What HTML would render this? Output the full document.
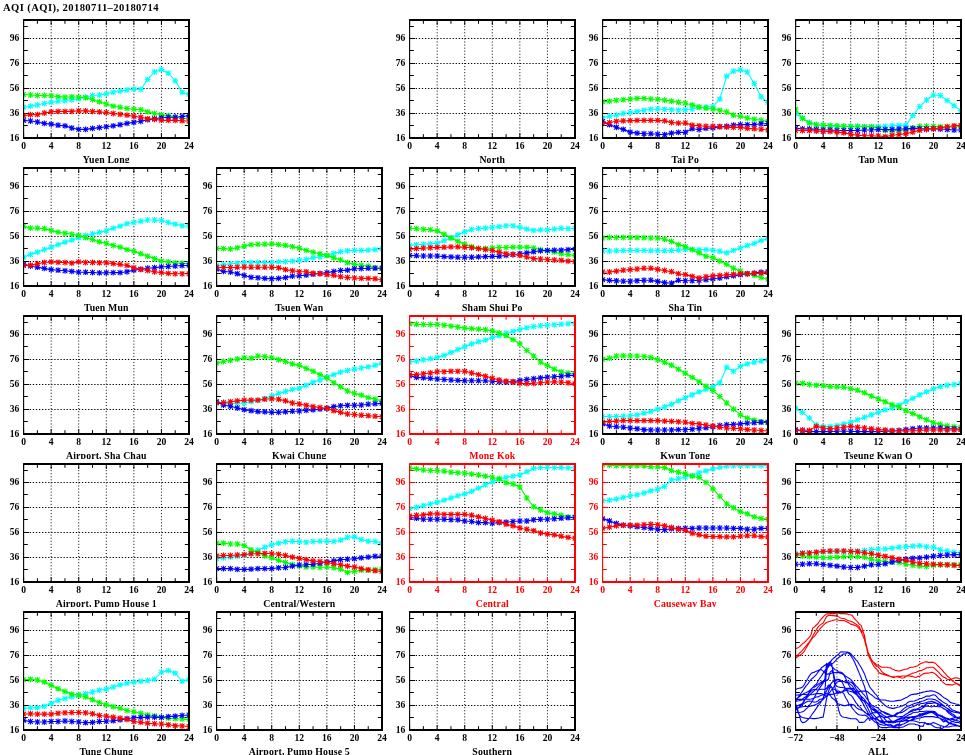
<!DOCTYPE html>
<html><head><meta charset="utf-8"><style>
html,body{margin:0;padding:0;background:#fff;width:965px;height:755px;overflow:hidden}
svg{display:block;will-change:transform}
text{font-family:"Liberation Serif",serif;font-weight:bold;font-size:9.6px}
text.t{font-size:9.8px;letter-spacing:0.15px}
text.h{font-size:10.6px}
</style></head><body>
<svg width="965" height="755" viewBox="0 0 965 755">
<defs><clipPath id="cp00"><rect x="23.6" y="20" width="165.4" height="118"/></clipPath><clipPath id="cp02"><rect x="409.6" y="20" width="165.4" height="118"/></clipPath><clipPath id="cp03"><rect x="602.6" y="20" width="165.4" height="118"/></clipPath><clipPath id="cp04"><rect x="795.6" y="20" width="165.4" height="118"/></clipPath><clipPath id="cp10"><rect x="23.6" y="168" width="165.4" height="118"/></clipPath><clipPath id="cp11"><rect x="216.6" y="168" width="165.4" height="118"/></clipPath><clipPath id="cp12"><rect x="409.6" y="168" width="165.4" height="118"/></clipPath><clipPath id="cp13"><rect x="602.6" y="168" width="165.4" height="118"/></clipPath><clipPath id="cp20"><rect x="23.6" y="316" width="165.4" height="118"/></clipPath><clipPath id="cp21"><rect x="216.6" y="316" width="165.4" height="118"/></clipPath><clipPath id="cp22"><rect x="409.6" y="316" width="165.4" height="118"/></clipPath><clipPath id="cp23"><rect x="602.6" y="316" width="165.4" height="118"/></clipPath><clipPath id="cp24"><rect x="795.6" y="316" width="165.4" height="118"/></clipPath><clipPath id="cp30"><rect x="23.6" y="464" width="165.4" height="118"/></clipPath><clipPath id="cp31"><rect x="216.6" y="464" width="165.4" height="118"/></clipPath><clipPath id="cp32"><rect x="409.6" y="464" width="165.4" height="118"/></clipPath><clipPath id="cp33"><rect x="602.6" y="464" width="165.4" height="118"/></clipPath><clipPath id="cp34"><rect x="795.6" y="464" width="165.4" height="118"/></clipPath><clipPath id="cp40"><rect x="23.6" y="612" width="165.4" height="118"/></clipPath><clipPath id="cp41"><rect x="216.6" y="612" width="165.4" height="118"/></clipPath><clipPath id="cp42"><rect x="409.6" y="612" width="165.4" height="118"/></clipPath><clipPath id="cp44"><rect x="795.6" y="612" width="165.4" height="118"/></clipPath><clipPath id="lc0"><rect x="0" y="150" width="965" height="13"/></clipPath><clipPath id="lc1"><rect x="0" y="298" width="965" height="13"/></clipPath><clipPath id="lc2"><rect x="0" y="446" width="965" height="13"/></clipPath><clipPath id="lc3"><rect x="0" y="594" width="965" height="13"/></clipPath><clipPath id="lc4"><rect x="0" y="742" width="965" height="13"/></clipPath></defs>
<text x="3" y="10.6" class="h" textLength="155.5" lengthAdjust="spacing">AQI (AQI), 20180711&#8211;20180714</text>
<path d="M23.6 113.5H189M23.6 88.5H189M23.6 63.5H189M23.6 38.5H189" stroke="#000" stroke-width="1" stroke-dasharray="1.3 1.77"/>
<path d="M51.17 20V138M78.73 20V138M106.3 20V138M133.87 20V138M161.43 20V138" stroke="#000" stroke-width="1" stroke-dasharray="1 2.07"/>
<path d="M23.6 138.5h5.5M189 138.5h-5.5M23.6 125.5h4.2M189 125.5h-4.2M23.6 113.5h5.5M189 113.5h-5.5M23.6 100.5h4.2M189 100.5h-4.2M23.6 88.5h5.5M189 88.5h-5.5M23.6 75.5h4.2M189 75.5h-4.2M23.6 63.5h5.5M189 63.5h-5.5M23.6 50.5h4.2M189 50.5h-4.2M23.6 38.5h5.5M189 38.5h-5.5M23.6 26.5h4.2M189 26.5h-4.2M23.6 138v-5M23.6 20v5M37.38 138v-3.8M37.38 20v3.8M51.17 138v-5M51.17 20v5M64.95 138v-3.8M64.95 20v3.8M78.73 138v-5M78.73 20v5M92.52 138v-3.8M92.52 20v3.8M106.3 138v-5M106.3 20v5M120.08 138v-3.8M120.08 20v3.8M133.87 138v-5M133.87 20v5M147.65 138v-3.8M147.65 20v3.8M161.43 138v-5M161.43 20v5M175.22 138v-3.8M175.22 20v3.8M189 138v-5M189 20v5" stroke="#000000" stroke-width="1"/>
<g clip-path="url(#cp00)" fill="none">
<path d="M23.6 107.2 30.5 106.1 37.4 105 44.3 103.5 51.2 102.4 58.1 101.3 65 100.8 71.8 99.8 78.7 98.7 85.6 97.1 92.5 95.5 99.4 95 106.3 93.9 113.2 92.3 120.1 91.1 127 90 133.9 89.1 140.8 89.5 147.7 79.4 154.5 71.9 161.4 69.5 168.3 73.2 175.2 80.7 182.1 92.3 189 94.4M20.7 107.2h5.8M23.6 104.3v5.8M21.3 104.9l4.6 4.6m0 -4.6l-4.6 4.6M27.6 106.1h5.8M30.5 103.2v5.8M28.2 103.8l4.6 4.6m0 -4.6l-4.6 4.6M34.5 105h5.8M37.4 102.1v5.8M35.1 102.7l4.6 4.6m0 -4.6l-4.6 4.6M41.4 103.5h5.8M44.3 100.6v5.8M42 101.2l4.6 4.6m0 -4.6l-4.6 4.6M48.3 102.4h5.8M51.2 99.5v5.8M48.9 100.1l4.6 4.6m0 -4.6l-4.6 4.6M55.2 101.3h5.8M58.1 98.4v5.8M55.8 99l4.6 4.6m0 -4.6l-4.6 4.6M62.1 100.8h5.8M65 97.9v5.8M62.7 98.5l4.6 4.6m0 -4.6l-4.6 4.6M68.9 99.8h5.8M71.8 96.9v5.8M69.5 97.5l4.6 4.6m0 -4.6l-4.6 4.6M75.8 98.7h5.8M78.7 95.8v5.8M76.4 96.4l4.6 4.6m0 -4.6l-4.6 4.6M82.7 97.1h5.8M85.6 94.2v5.8M83.3 94.8l4.6 4.6m0 -4.6l-4.6 4.6M89.6 95.5h5.8M92.5 92.6v5.8M90.2 93.2l4.6 4.6m0 -4.6l-4.6 4.6M96.5 95h5.8M99.4 92.1v5.8M97.1 92.7l4.6 4.6m0 -4.6l-4.6 4.6M103.4 93.9h5.8M106.3 91v5.8M104 91.6l4.6 4.6m0 -4.6l-4.6 4.6M110.3 92.3h5.8M113.2 89.4v5.8M110.9 90l4.6 4.6m0 -4.6l-4.6 4.6M117.2 91.1h5.8M120.1 88.2v5.8M117.8 88.8l4.6 4.6m0 -4.6l-4.6 4.6M124.1 90h5.8M127 87.1v5.8M124.7 87.7l4.6 4.6m0 -4.6l-4.6 4.6M131 89.1h5.8M133.9 86.2v5.8M131.6 86.8l4.6 4.6m0 -4.6l-4.6 4.6M137.9 89.5h5.8M140.8 86.6v5.8M138.5 87.2l4.6 4.6m0 -4.6l-4.6 4.6M144.8 79.4h5.8M147.7 76.5v5.8M145.3 77.1l4.6 4.6m0 -4.6l-4.6 4.6M151.6 71.9h5.8M154.5 69v5.8M152.2 69.6l4.6 4.6m0 -4.6l-4.6 4.6M158.5 69.5h5.8M161.4 66.6v5.8M159.1 67.2l4.6 4.6m0 -4.6l-4.6 4.6M165.4 73.2h5.8M168.3 70.3v5.8M166 70.9l4.6 4.6m0 -4.6l-4.6 4.6M172.3 80.7h5.8M175.2 77.8v5.8M172.9 78.4l4.6 4.6m0 -4.6l-4.6 4.6M179.2 92.3h5.8M182.1 89.4v5.8M179.8 90l4.6 4.6m0 -4.6l-4.6 4.6M186.1 94.4h5.8M189 91.5v5.8M186.7 92.1l4.6 4.6m0 -4.6l-4.6 4.6" stroke="#00ffff" stroke-width="1.1"/>
<path d="M23.6 94.5 30.5 95 37.4 95.5 44.3 95.5 51.2 95.8 58.1 96.6 65 97.1 71.8 96.8 78.7 97.3 85.6 97.8 92.5 99.5 99.4 101.9 106.3 104 113.2 106.1 120.1 107.2 127 108.5 133.9 109.3 140.8 109.8 147.7 111.9 154.5 113.5 161.4 114.6 168.3 115.6 175.2 117.2 182.1 118.3 189 118.8M20.7 94.5h5.8M23.6 91.6v5.8M21.3 92.2l4.6 4.6m0 -4.6l-4.6 4.6M27.6 95h5.8M30.5 92.1v5.8M28.2 92.7l4.6 4.6m0 -4.6l-4.6 4.6M34.5 95.5h5.8M37.4 92.6v5.8M35.1 93.2l4.6 4.6m0 -4.6l-4.6 4.6M41.4 95.5h5.8M44.3 92.6v5.8M42 93.2l4.6 4.6m0 -4.6l-4.6 4.6M48.3 95.8h5.8M51.2 92.9v5.8M48.9 93.5l4.6 4.6m0 -4.6l-4.6 4.6M55.2 96.6h5.8M58.1 93.7v5.8M55.8 94.3l4.6 4.6m0 -4.6l-4.6 4.6M62.1 97.1h5.8M65 94.2v5.8M62.7 94.8l4.6 4.6m0 -4.6l-4.6 4.6M68.9 96.8h5.8M71.8 93.9v5.8M69.5 94.5l4.6 4.6m0 -4.6l-4.6 4.6M75.8 97.3h5.8M78.7 94.4v5.8M76.4 95l4.6 4.6m0 -4.6l-4.6 4.6M82.7 97.8h5.8M85.6 94.9v5.8M83.3 95.5l4.6 4.6m0 -4.6l-4.6 4.6M89.6 99.5h5.8M92.5 96.6v5.8M90.2 97.2l4.6 4.6m0 -4.6l-4.6 4.6M96.5 101.9h5.8M99.4 99v5.8M97.1 99.6l4.6 4.6m0 -4.6l-4.6 4.6M103.4 104h5.8M106.3 101.1v5.8M104 101.7l4.6 4.6m0 -4.6l-4.6 4.6M110.3 106.1h5.8M113.2 103.2v5.8M110.9 103.8l4.6 4.6m0 -4.6l-4.6 4.6M117.2 107.2h5.8M120.1 104.3v5.8M117.8 104.9l4.6 4.6m0 -4.6l-4.6 4.6M124.1 108.5h5.8M127 105.6v5.8M124.7 106.2l4.6 4.6m0 -4.6l-4.6 4.6M131 109.3h5.8M133.9 106.4v5.8M131.6 107l4.6 4.6m0 -4.6l-4.6 4.6M137.9 109.8h5.8M140.8 106.9v5.8M138.5 107.5l4.6 4.6m0 -4.6l-4.6 4.6M144.8 111.9h5.8M147.7 109v5.8M145.3 109.6l4.6 4.6m0 -4.6l-4.6 4.6M151.6 113.5h5.8M154.5 110.6v5.8M152.2 111.2l4.6 4.6m0 -4.6l-4.6 4.6M158.5 114.6h5.8M161.4 111.7v5.8M159.1 112.3l4.6 4.6m0 -4.6l-4.6 4.6M165.4 115.6h5.8M168.3 112.7v5.8M166 113.3l4.6 4.6m0 -4.6l-4.6 4.6M172.3 117.2h5.8M175.2 114.3v5.8M172.9 114.9l4.6 4.6m0 -4.6l-4.6 4.6M179.2 118.3h5.8M182.1 115.4v5.8M179.8 116l4.6 4.6m0 -4.6l-4.6 4.6M186.1 118.8h5.8M189 115.9v5.8M186.7 116.5l4.6 4.6m0 -4.6l-4.6 4.6" stroke="#00ff00" stroke-width="1.1"/>
<path d="M23.6 120.4 30.5 121 37.4 122 44.3 123.4 51.2 124.1 58.1 125.2 65 125.9 71.8 128 78.7 129.4 85.6 129.4 92.5 128.4 99.4 127.6 106.3 126.8 113.2 125.9 120.1 124.7 127 123.4 133.9 122.3 140.8 121.3 147.7 119.7 154.5 118.6 161.4 117.8 168.3 117.2 175.2 117.2 182.1 116.5 189 115.6M20.7 120.4h5.8M23.6 117.5v5.8M21.3 118.1l4.6 4.6m0 -4.6l-4.6 4.6M27.6 121h5.8M30.5 118.1v5.8M28.2 118.7l4.6 4.6m0 -4.6l-4.6 4.6M34.5 122h5.8M37.4 119.1v5.8M35.1 119.7l4.6 4.6m0 -4.6l-4.6 4.6M41.4 123.4h5.8M44.3 120.5v5.8M42 121.1l4.6 4.6m0 -4.6l-4.6 4.6M48.3 124.1h5.8M51.2 121.2v5.8M48.9 121.8l4.6 4.6m0 -4.6l-4.6 4.6M55.2 125.2h5.8M58.1 122.3v5.8M55.8 122.9l4.6 4.6m0 -4.6l-4.6 4.6M62.1 125.9h5.8M65 123v5.8M62.7 123.6l4.6 4.6m0 -4.6l-4.6 4.6M68.9 128h5.8M71.8 125.1v5.8M69.5 125.7l4.6 4.6m0 -4.6l-4.6 4.6M75.8 129.4h5.8M78.7 126.5v5.8M76.4 127.1l4.6 4.6m0 -4.6l-4.6 4.6M82.7 129.4h5.8M85.6 126.5v5.8M83.3 127.1l4.6 4.6m0 -4.6l-4.6 4.6M89.6 128.4h5.8M92.5 125.5v5.8M90.2 126.1l4.6 4.6m0 -4.6l-4.6 4.6M96.5 127.6h5.8M99.4 124.7v5.8M97.1 125.3l4.6 4.6m0 -4.6l-4.6 4.6M103.4 126.8h5.8M106.3 123.9v5.8M104 124.5l4.6 4.6m0 -4.6l-4.6 4.6M110.3 125.9h5.8M113.2 123v5.8M110.9 123.6l4.6 4.6m0 -4.6l-4.6 4.6M117.2 124.7h5.8M120.1 121.8v5.8M117.8 122.4l4.6 4.6m0 -4.6l-4.6 4.6M124.1 123.4h5.8M127 120.5v5.8M124.7 121.1l4.6 4.6m0 -4.6l-4.6 4.6M131 122.3h5.8M133.9 119.4v5.8M131.6 120l4.6 4.6m0 -4.6l-4.6 4.6M137.9 121.3h5.8M140.8 118.4v5.8M138.5 119l4.6 4.6m0 -4.6l-4.6 4.6M144.8 119.7h5.8M147.7 116.8v5.8M145.3 117.4l4.6 4.6m0 -4.6l-4.6 4.6M151.6 118.6h5.8M154.5 115.7v5.8M152.2 116.3l4.6 4.6m0 -4.6l-4.6 4.6M158.5 117.8h5.8M161.4 114.9v5.8M159.1 115.5l4.6 4.6m0 -4.6l-4.6 4.6M165.4 117.2h5.8M168.3 114.3v5.8M166 114.9l4.6 4.6m0 -4.6l-4.6 4.6M172.3 117.2h5.8M175.2 114.3v5.8M172.9 114.9l4.6 4.6m0 -4.6l-4.6 4.6M179.2 116.5h5.8M182.1 113.6v5.8M179.8 114.2l4.6 4.6m0 -4.6l-4.6 4.6M186.1 115.6h5.8M189 112.7v5.8M186.7 113.3l4.6 4.6m0 -4.6l-4.6 4.6" stroke="#0000ff" stroke-width="1.1"/>
<path d="M23.6 115.7 30.5 114.6 37.4 114.6 44.3 113 51.2 111.9 58.1 111.4 65 111.4 71.8 111.4 78.7 110.7 85.6 110.9 92.5 111.4 99.4 111.9 106.3 112.5 113.2 113.5 120.1 114.3 127 115.1 133.9 116.2 140.8 117.2 147.7 118.8 154.5 119.4 161.4 120.2 168.3 120.4 175.2 120.4 182.1 120.7 189 121.3M20.7 115.7h5.8M23.6 112.8v5.8M21.3 113.4l4.6 4.6m0 -4.6l-4.6 4.6M27.6 114.6h5.8M30.5 111.7v5.8M28.2 112.3l4.6 4.6m0 -4.6l-4.6 4.6M34.5 114.6h5.8M37.4 111.7v5.8M35.1 112.3l4.6 4.6m0 -4.6l-4.6 4.6M41.4 113h5.8M44.3 110.1v5.8M42 110.7l4.6 4.6m0 -4.6l-4.6 4.6M48.3 111.9h5.8M51.2 109v5.8M48.9 109.6l4.6 4.6m0 -4.6l-4.6 4.6M55.2 111.4h5.8M58.1 108.5v5.8M55.8 109.1l4.6 4.6m0 -4.6l-4.6 4.6M62.1 111.4h5.8M65 108.5v5.8M62.7 109.1l4.6 4.6m0 -4.6l-4.6 4.6M68.9 111.4h5.8M71.8 108.5v5.8M69.5 109.1l4.6 4.6m0 -4.6l-4.6 4.6M75.8 110.7h5.8M78.7 107.8v5.8M76.4 108.4l4.6 4.6m0 -4.6l-4.6 4.6M82.7 110.9h5.8M85.6 108v5.8M83.3 108.6l4.6 4.6m0 -4.6l-4.6 4.6M89.6 111.4h5.8M92.5 108.5v5.8M90.2 109.1l4.6 4.6m0 -4.6l-4.6 4.6M96.5 111.9h5.8M99.4 109v5.8M97.1 109.6l4.6 4.6m0 -4.6l-4.6 4.6M103.4 112.5h5.8M106.3 109.6v5.8M104 110.2l4.6 4.6m0 -4.6l-4.6 4.6M110.3 113.5h5.8M113.2 110.6v5.8M110.9 111.2l4.6 4.6m0 -4.6l-4.6 4.6M117.2 114.3h5.8M120.1 111.4v5.8M117.8 112l4.6 4.6m0 -4.6l-4.6 4.6M124.1 115.1h5.8M127 112.2v5.8M124.7 112.8l4.6 4.6m0 -4.6l-4.6 4.6M131 116.2h5.8M133.9 113.3v5.8M131.6 113.9l4.6 4.6m0 -4.6l-4.6 4.6M137.9 117.2h5.8M140.8 114.3v5.8M138.5 114.9l4.6 4.6m0 -4.6l-4.6 4.6M144.8 118.8h5.8M147.7 115.9v5.8M145.3 116.5l4.6 4.6m0 -4.6l-4.6 4.6M151.6 119.4h5.8M154.5 116.5v5.8M152.2 117.1l4.6 4.6m0 -4.6l-4.6 4.6M158.5 120.2h5.8M161.4 117.3v5.8M159.1 117.9l4.6 4.6m0 -4.6l-4.6 4.6M165.4 120.4h5.8M168.3 117.5v5.8M166 118.1l4.6 4.6m0 -4.6l-4.6 4.6M172.3 120.4h5.8M175.2 117.5v5.8M172.9 118.1l4.6 4.6m0 -4.6l-4.6 4.6M179.2 120.7h5.8M182.1 117.8v5.8M179.8 118.4l4.6 4.6m0 -4.6l-4.6 4.6M186.1 121.3h5.8M189 118.4v5.8M186.7 119l4.6 4.6m0 -4.6l-4.6 4.6" stroke="#ff0000" stroke-width="1.1"/>
</g>
<path d="M23.1 20H190M23.1 138H190M189 20V138" stroke="#000000" stroke-width="2" fill="none"/>
<path d="M23.6 20V138" stroke="#000000" stroke-width="1.1" fill="none"/>
<g fill="#000000"><text x="19.3" y="140.9" text-anchor="end">16</text><text x="19.3" y="116.03" text-anchor="end">36</text><text x="19.3" y="91.15" text-anchor="end">56</text><text x="19.3" y="66.28" text-anchor="end">76</text><text x="19.3" y="41.4" text-anchor="end">96</text><text x="23.6" y="148.7" text-anchor="middle">0</text><text x="51.17" y="148.7" text-anchor="middle">4</text><text x="78.73" y="148.7" text-anchor="middle">8</text><text x="106.3" y="148.7" text-anchor="middle">12</text><text x="133.87" y="148.7" text-anchor="middle">16</text><text x="161.43" y="148.7" text-anchor="middle">20</text><text x="189" y="148.7" text-anchor="middle">24</text><text x="106.3" y="162.6" text-anchor="middle" class="t" clip-path="url(#lc0)">Yuen Long</text></g>
<path d="M409.6 113.5H575M409.6 88.5H575M409.6 63.5H575M409.6 38.5H575" stroke="#000" stroke-width="1" stroke-dasharray="1.3 1.77"/>
<path d="M437.17 20V138M464.73 20V138M492.3 20V138M519.87 20V138M547.43 20V138" stroke="#000" stroke-width="1" stroke-dasharray="1 2.07"/>
<path d="M409.6 138.5h5.5M575 138.5h-5.5M409.6 125.5h4.2M575 125.5h-4.2M409.6 113.5h5.5M575 113.5h-5.5M409.6 100.5h4.2M575 100.5h-4.2M409.6 88.5h5.5M575 88.5h-5.5M409.6 75.5h4.2M575 75.5h-4.2M409.6 63.5h5.5M575 63.5h-5.5M409.6 50.5h4.2M575 50.5h-4.2M409.6 38.5h5.5M575 38.5h-5.5M409.6 26.5h4.2M575 26.5h-4.2M409.6 138v-5M409.6 20v5M423.38 138v-3.8M423.38 20v3.8M437.17 138v-5M437.17 20v5M450.95 138v-3.8M450.95 20v3.8M464.73 138v-5M464.73 20v5M478.52 138v-3.8M478.52 20v3.8M492.3 138v-5M492.3 20v5M506.08 138v-3.8M506.08 20v3.8M519.87 138v-5M519.87 20v5M533.65 138v-3.8M533.65 20v3.8M547.43 138v-5M547.43 20v5M561.22 138v-3.8M561.22 20v3.8M575 138v-5M575 20v5" stroke="#000000" stroke-width="1"/>
<path d="M409.1 20H576M409.1 138H576M575 20V138" stroke="#000000" stroke-width="2" fill="none"/>
<path d="M409.6 20V138" stroke="#000000" stroke-width="1.1" fill="none"/>
<g fill="#000000"><text x="405.3" y="140.9" text-anchor="end">16</text><text x="405.3" y="116.03" text-anchor="end">36</text><text x="405.3" y="91.15" text-anchor="end">56</text><text x="405.3" y="66.28" text-anchor="end">76</text><text x="405.3" y="41.4" text-anchor="end">96</text><text x="409.6" y="148.7" text-anchor="middle">0</text><text x="437.17" y="148.7" text-anchor="middle">4</text><text x="464.73" y="148.7" text-anchor="middle">8</text><text x="492.3" y="148.7" text-anchor="middle">12</text><text x="519.87" y="148.7" text-anchor="middle">16</text><text x="547.43" y="148.7" text-anchor="middle">20</text><text x="575" y="148.7" text-anchor="middle">24</text><text x="492.3" y="162.6" text-anchor="middle" class="t" clip-path="url(#lc0)">North</text></g>
<path d="M602.6 113.5H768M602.6 88.5H768M602.6 63.5H768M602.6 38.5H768" stroke="#000" stroke-width="1" stroke-dasharray="1.3 1.77"/>
<path d="M630.17 20V138M657.73 20V138M685.3 20V138M712.87 20V138M740.43 20V138" stroke="#000" stroke-width="1" stroke-dasharray="1 2.07"/>
<path d="M602.6 138.5h5.5M768 138.5h-5.5M602.6 125.5h4.2M768 125.5h-4.2M602.6 113.5h5.5M768 113.5h-5.5M602.6 100.5h4.2M768 100.5h-4.2M602.6 88.5h5.5M768 88.5h-5.5M602.6 75.5h4.2M768 75.5h-4.2M602.6 63.5h5.5M768 63.5h-5.5M602.6 50.5h4.2M768 50.5h-4.2M602.6 38.5h5.5M768 38.5h-5.5M602.6 26.5h4.2M768 26.5h-4.2M602.6 138v-5M602.6 20v5M616.38 138v-3.8M616.38 20v3.8M630.17 138v-5M630.17 20v5M643.95 138v-3.8M643.95 20v3.8M657.73 138v-5M657.73 20v5M671.52 138v-3.8M671.52 20v3.8M685.3 138v-5M685.3 20v5M699.08 138v-3.8M699.08 20v3.8M712.87 138v-5M712.87 20v5M726.65 138v-3.8M726.65 20v3.8M740.43 138v-5M740.43 20v5M754.22 138v-3.8M754.22 20v3.8M768 138v-5M768 20v5" stroke="#000000" stroke-width="1"/>
<g clip-path="url(#cp03)" fill="none">
<path d="M602.6 117.8 609.5 116.2 616.4 115.1 623.3 113.5 630.2 112.5 637.1 111.4 644 110.3 650.8 109.3 657.7 109 664.6 109.3 671.5 109.8 678.4 110.3 685.3 109.8 692.2 109 699.1 107.4 706 107 712.9 106.5 719.8 99.1 726.7 76.1 733.5 71.2 740.4 69.9 747.3 72 754.2 83.5 761.1 96.7 768 102.4M599.7 117.8h5.8M602.6 114.9v5.8M600.3 115.5l4.6 4.6m0 -4.6l-4.6 4.6M606.6 116.2h5.8M609.5 113.3v5.8M607.2 113.9l4.6 4.6m0 -4.6l-4.6 4.6M613.5 115.1h5.8M616.4 112.2v5.8M614.1 112.8l4.6 4.6m0 -4.6l-4.6 4.6M620.4 113.5h5.8M623.3 110.6v5.8M621 111.2l4.6 4.6m0 -4.6l-4.6 4.6M627.3 112.5h5.8M630.2 109.6v5.8M627.9 110.2l4.6 4.6m0 -4.6l-4.6 4.6M634.2 111.4h5.8M637.1 108.5v5.8M634.8 109.1l4.6 4.6m0 -4.6l-4.6 4.6M641.1 110.3h5.8M644 107.4v5.8M641.7 108l4.6 4.6m0 -4.6l-4.6 4.6M647.9 109.3h5.8M650.8 106.4v5.8M648.5 107l4.6 4.6m0 -4.6l-4.6 4.6M654.8 109h5.8M657.7 106.1v5.8M655.4 106.7l4.6 4.6m0 -4.6l-4.6 4.6M661.7 109.3h5.8M664.6 106.4v5.8M662.3 107l4.6 4.6m0 -4.6l-4.6 4.6M668.6 109.8h5.8M671.5 106.9v5.8M669.2 107.5l4.6 4.6m0 -4.6l-4.6 4.6M675.5 110.3h5.8M678.4 107.4v5.8M676.1 108l4.6 4.6m0 -4.6l-4.6 4.6M682.4 109.8h5.8M685.3 106.9v5.8M683 107.5l4.6 4.6m0 -4.6l-4.6 4.6M689.3 109h5.8M692.2 106.1v5.8M689.9 106.7l4.6 4.6m0 -4.6l-4.6 4.6M696.2 107.4h5.8M699.1 104.5v5.8M696.8 105.1l4.6 4.6m0 -4.6l-4.6 4.6M703.1 107h5.8M706 104.1v5.8M703.7 104.7l4.6 4.6m0 -4.6l-4.6 4.6M710 106.5h5.8M712.9 103.6v5.8M710.6 104.2l4.6 4.6m0 -4.6l-4.6 4.6M716.9 99.1h5.8M719.8 96.2v5.8M717.5 96.8l4.6 4.6m0 -4.6l-4.6 4.6M723.8 76.1h5.8M726.7 73.2v5.8M724.4 73.8l4.6 4.6m0 -4.6l-4.6 4.6M730.6 71.2h5.8M733.5 68.3v5.8M731.2 68.9l4.6 4.6m0 -4.6l-4.6 4.6M737.5 69.9h5.8M740.4 67v5.8M738.1 67.6l4.6 4.6m0 -4.6l-4.6 4.6M744.4 72h5.8M747.3 69.1v5.8M745 69.7l4.6 4.6m0 -4.6l-4.6 4.6M751.3 83.5h5.8M754.2 80.6v5.8M751.9 81.2l4.6 4.6m0 -4.6l-4.6 4.6M758.2 96.7h5.8M761.1 93.8v5.8M758.8 94.4l4.6 4.6m0 -4.6l-4.6 4.6M765.1 102.4h5.8M768 99.5v5.8M765.7 100.1l4.6 4.6m0 -4.6l-4.6 4.6" stroke="#00ffff" stroke-width="1.1"/>
<path d="M602.6 101.9 609.5 101.1 616.4 100.3 623.3 99.7 630.2 99.2 637.1 98.4 644 98.4 650.8 99 657.7 99.4 664.6 100.1 671.5 101.1 678.4 102.2 685.3 103.2 692.2 104.9 699.1 107 706 108.2 712.9 109 719.8 110.3 726.7 112 733.5 115.2 740.4 116.4 747.3 118 754.2 119.2 761.1 120.2 768 121.3M599.7 101.9h5.8M602.6 99v5.8M600.3 99.6l4.6 4.6m0 -4.6l-4.6 4.6M606.6 101.1h5.8M609.5 98.2v5.8M607.2 98.8l4.6 4.6m0 -4.6l-4.6 4.6M613.5 100.3h5.8M616.4 97.4v5.8M614.1 98l4.6 4.6m0 -4.6l-4.6 4.6M620.4 99.7h5.8M623.3 96.8v5.8M621 97.4l4.6 4.6m0 -4.6l-4.6 4.6M627.3 99.2h5.8M630.2 96.3v5.8M627.9 96.9l4.6 4.6m0 -4.6l-4.6 4.6M634.2 98.4h5.8M637.1 95.5v5.8M634.8 96.1l4.6 4.6m0 -4.6l-4.6 4.6M641.1 98.4h5.8M644 95.5v5.8M641.7 96.1l4.6 4.6m0 -4.6l-4.6 4.6M647.9 99h5.8M650.8 96.1v5.8M648.5 96.7l4.6 4.6m0 -4.6l-4.6 4.6M654.8 99.4h5.8M657.7 96.5v5.8M655.4 97.1l4.6 4.6m0 -4.6l-4.6 4.6M661.7 100.1h5.8M664.6 97.2v5.8M662.3 97.8l4.6 4.6m0 -4.6l-4.6 4.6M668.6 101.1h5.8M671.5 98.2v5.8M669.2 98.8l4.6 4.6m0 -4.6l-4.6 4.6M675.5 102.2h5.8M678.4 99.3v5.8M676.1 99.9l4.6 4.6m0 -4.6l-4.6 4.6M682.4 103.2h5.8M685.3 100.3v5.8M683 100.9l4.6 4.6m0 -4.6l-4.6 4.6M689.3 104.9h5.8M692.2 102v5.8M689.9 102.6l4.6 4.6m0 -4.6l-4.6 4.6M696.2 107h5.8M699.1 104.1v5.8M696.8 104.7l4.6 4.6m0 -4.6l-4.6 4.6M703.1 108.2h5.8M706 105.3v5.8M703.7 105.9l4.6 4.6m0 -4.6l-4.6 4.6M710 109h5.8M712.9 106.1v5.8M710.6 106.7l4.6 4.6m0 -4.6l-4.6 4.6M716.9 110.3h5.8M719.8 107.4v5.8M717.5 108l4.6 4.6m0 -4.6l-4.6 4.6M723.8 112h5.8M726.7 109.1v5.8M724.4 109.7l4.6 4.6m0 -4.6l-4.6 4.6M730.6 115.2h5.8M733.5 112.3v5.8M731.2 112.9l4.6 4.6m0 -4.6l-4.6 4.6M737.5 116.4h5.8M740.4 113.5v5.8M738.1 114.1l4.6 4.6m0 -4.6l-4.6 4.6M744.4 118h5.8M747.3 115.1v5.8M745 115.7l4.6 4.6m0 -4.6l-4.6 4.6M751.3 119.2h5.8M754.2 116.3v5.8M751.9 116.9l4.6 4.6m0 -4.6l-4.6 4.6M758.2 120.2h5.8M761.1 117.3v5.8M758.8 117.9l4.6 4.6m0 -4.6l-4.6 4.6M765.1 121.3h5.8M768 118.4v5.8M765.7 119l4.6 4.6m0 -4.6l-4.6 4.6" stroke="#00ff00" stroke-width="1.1"/>
<path d="M602.6 121.5 609.5 124.7 616.4 127.3 623.3 129.4 630.2 132.1 637.1 133.1 644 133.7 650.8 133.7 657.7 134.2 664.6 134.7 671.5 133.1 678.4 132.4 685.3 132.2 692.2 128.7 699.1 129.5 706 128.4 712.9 127.9 719.8 126.7 726.7 126.2 733.5 125.1 740.4 124.6 747.3 124.6 754.2 124.6 761.1 123.8 768 123.5M599.7 121.5h5.8M602.6 118.6v5.8M600.3 119.2l4.6 4.6m0 -4.6l-4.6 4.6M606.6 124.7h5.8M609.5 121.8v5.8M607.2 122.4l4.6 4.6m0 -4.6l-4.6 4.6M613.5 127.3h5.8M616.4 124.4v5.8M614.1 125l4.6 4.6m0 -4.6l-4.6 4.6M620.4 129.4h5.8M623.3 126.5v5.8M621 127.1l4.6 4.6m0 -4.6l-4.6 4.6M627.3 132.1h5.8M630.2 129.2v5.8M627.9 129.8l4.6 4.6m0 -4.6l-4.6 4.6M634.2 133.1h5.8M637.1 130.2v5.8M634.8 130.8l4.6 4.6m0 -4.6l-4.6 4.6M641.1 133.7h5.8M644 130.8v5.8M641.7 131.4l4.6 4.6m0 -4.6l-4.6 4.6M647.9 133.7h5.8M650.8 130.8v5.8M648.5 131.4l4.6 4.6m0 -4.6l-4.6 4.6M654.8 134.2h5.8M657.7 131.3v5.8M655.4 131.9l4.6 4.6m0 -4.6l-4.6 4.6M661.7 134.7h5.8M664.6 131.8v5.8M662.3 132.4l4.6 4.6m0 -4.6l-4.6 4.6M668.6 133.1h5.8M671.5 130.2v5.8M669.2 130.8l4.6 4.6m0 -4.6l-4.6 4.6M675.5 132.4h5.8M678.4 129.5v5.8M676.1 130.1l4.6 4.6m0 -4.6l-4.6 4.6M682.4 132.2h5.8M685.3 129.3v5.8M683 129.9l4.6 4.6m0 -4.6l-4.6 4.6M689.3 128.7h5.8M692.2 125.8v5.8M689.9 126.4l4.6 4.6m0 -4.6l-4.6 4.6M696.2 129.5h5.8M699.1 126.6v5.8M696.8 127.2l4.6 4.6m0 -4.6l-4.6 4.6M703.1 128.4h5.8M706 125.5v5.8M703.7 126.1l4.6 4.6m0 -4.6l-4.6 4.6M710 127.9h5.8M712.9 125v5.8M710.6 125.6l4.6 4.6m0 -4.6l-4.6 4.6M716.9 126.7h5.8M719.8 123.8v5.8M717.5 124.4l4.6 4.6m0 -4.6l-4.6 4.6M723.8 126.2h5.8M726.7 123.3v5.8M724.4 123.9l4.6 4.6m0 -4.6l-4.6 4.6M730.6 125.1h5.8M733.5 122.2v5.8M731.2 122.8l4.6 4.6m0 -4.6l-4.6 4.6M737.5 124.6h5.8M740.4 121.7v5.8M738.1 122.3l4.6 4.6m0 -4.6l-4.6 4.6M744.4 124.6h5.8M747.3 121.7v5.8M745 122.3l4.6 4.6m0 -4.6l-4.6 4.6M751.3 124.6h5.8M754.2 121.7v5.8M751.9 122.3l4.6 4.6m0 -4.6l-4.6 4.6M758.2 123.8h5.8M761.1 120.9v5.8M758.8 121.5l4.6 4.6m0 -4.6l-4.6 4.6M765.1 123.5h5.8M768 120.6v5.8M765.7 121.2l4.6 4.6m0 -4.6l-4.6 4.6" stroke="#0000ff" stroke-width="1.1"/>
<path d="M602.6 123.4 609.5 122.5 616.4 121.3 623.3 120.9 630.2 120.6 637.1 120.4 644 120.4 650.8 120.4 657.7 120.4 664.6 120.9 671.5 122.5 678.4 123.1 685.3 123 692.2 125.1 699.1 125.8 706 126.2 712.9 126.2 719.8 126.7 726.7 127.1 733.5 127.4 740.4 127.4 747.3 128.4 754.2 128.7 761.1 129.2 768 130M599.7 123.4h5.8M602.6 120.5v5.8M600.3 121.1l4.6 4.6m0 -4.6l-4.6 4.6M606.6 122.5h5.8M609.5 119.6v5.8M607.2 120.2l4.6 4.6m0 -4.6l-4.6 4.6M613.5 121.3h5.8M616.4 118.4v5.8M614.1 119l4.6 4.6m0 -4.6l-4.6 4.6M620.4 120.9h5.8M623.3 118v5.8M621 118.6l4.6 4.6m0 -4.6l-4.6 4.6M627.3 120.6h5.8M630.2 117.7v5.8M627.9 118.3l4.6 4.6m0 -4.6l-4.6 4.6M634.2 120.4h5.8M637.1 117.5v5.8M634.8 118.1l4.6 4.6m0 -4.6l-4.6 4.6M641.1 120.4h5.8M644 117.5v5.8M641.7 118.1l4.6 4.6m0 -4.6l-4.6 4.6M647.9 120.4h5.8M650.8 117.5v5.8M648.5 118.1l4.6 4.6m0 -4.6l-4.6 4.6M654.8 120.4h5.8M657.7 117.5v5.8M655.4 118.1l4.6 4.6m0 -4.6l-4.6 4.6M661.7 120.9h5.8M664.6 118v5.8M662.3 118.6l4.6 4.6m0 -4.6l-4.6 4.6M668.6 122.5h5.8M671.5 119.6v5.8M669.2 120.2l4.6 4.6m0 -4.6l-4.6 4.6M675.5 123.1h5.8M678.4 120.2v5.8M676.1 120.8l4.6 4.6m0 -4.6l-4.6 4.6M682.4 123h5.8M685.3 120.1v5.8M683 120.7l4.6 4.6m0 -4.6l-4.6 4.6M689.3 125.1h5.8M692.2 122.2v5.8M689.9 122.8l4.6 4.6m0 -4.6l-4.6 4.6M696.2 125.8h5.8M699.1 122.9v5.8M696.8 123.5l4.6 4.6m0 -4.6l-4.6 4.6M703.1 126.2h5.8M706 123.3v5.8M703.7 123.9l4.6 4.6m0 -4.6l-4.6 4.6M710 126.2h5.8M712.9 123.3v5.8M710.6 123.9l4.6 4.6m0 -4.6l-4.6 4.6M716.9 126.7h5.8M719.8 123.8v5.8M717.5 124.4l4.6 4.6m0 -4.6l-4.6 4.6M723.8 127.1h5.8M726.7 124.2v5.8M724.4 124.8l4.6 4.6m0 -4.6l-4.6 4.6M730.6 127.4h5.8M733.5 124.5v5.8M731.2 125.1l4.6 4.6m0 -4.6l-4.6 4.6M737.5 127.4h5.8M740.4 124.5v5.8M738.1 125.1l4.6 4.6m0 -4.6l-4.6 4.6M744.4 128.4h5.8M747.3 125.5v5.8M745 126.1l4.6 4.6m0 -4.6l-4.6 4.6M751.3 128.7h5.8M754.2 125.8v5.8M751.9 126.4l4.6 4.6m0 -4.6l-4.6 4.6M758.2 129.2h5.8M761.1 126.3v5.8M758.8 126.9l4.6 4.6m0 -4.6l-4.6 4.6M765.1 130h5.8M768 127.1v5.8M765.7 127.7l4.6 4.6m0 -4.6l-4.6 4.6" stroke="#ff0000" stroke-width="1.1"/>
</g>
<path d="M602.1 20H769M602.1 138H769M768 20V138" stroke="#000000" stroke-width="2" fill="none"/>
<path d="M602.6 20V138" stroke="#000000" stroke-width="1.1" fill="none"/>
<g fill="#000000"><text x="598.3" y="140.9" text-anchor="end">16</text><text x="598.3" y="116.03" text-anchor="end">36</text><text x="598.3" y="91.15" text-anchor="end">56</text><text x="598.3" y="66.28" text-anchor="end">76</text><text x="598.3" y="41.4" text-anchor="end">96</text><text x="602.6" y="148.7" text-anchor="middle">0</text><text x="630.17" y="148.7" text-anchor="middle">4</text><text x="657.73" y="148.7" text-anchor="middle">8</text><text x="685.3" y="148.7" text-anchor="middle">12</text><text x="712.87" y="148.7" text-anchor="middle">16</text><text x="740.43" y="148.7" text-anchor="middle">20</text><text x="768" y="148.7" text-anchor="middle">24</text><text x="685.3" y="162.6" text-anchor="middle" class="t" clip-path="url(#lc0)">Tai Po</text></g>
<path d="M795.6 113.5H961M795.6 88.5H961M795.6 63.5H961M795.6 38.5H961" stroke="#000" stroke-width="1" stroke-dasharray="1.3 1.77"/>
<path d="M823.17 20V138M850.73 20V138M878.3 20V138M905.87 20V138M933.43 20V138" stroke="#000" stroke-width="1" stroke-dasharray="1 2.07"/>
<path d="M795.6 138.5h5.5M961 138.5h-5.5M795.6 125.5h4.2M961 125.5h-4.2M795.6 113.5h5.5M961 113.5h-5.5M795.6 100.5h4.2M961 100.5h-4.2M795.6 88.5h5.5M961 88.5h-5.5M795.6 75.5h4.2M961 75.5h-4.2M795.6 63.5h5.5M961 63.5h-5.5M795.6 50.5h4.2M961 50.5h-4.2M795.6 38.5h5.5M961 38.5h-5.5M795.6 26.5h4.2M961 26.5h-4.2M795.6 138v-5M795.6 20v5M809.38 138v-3.8M809.38 20v3.8M823.17 138v-5M823.17 20v5M836.95 138v-3.8M836.95 20v3.8M850.73 138v-5M850.73 20v5M864.52 138v-3.8M864.52 20v3.8M878.3 138v-5M878.3 20v5M892.08 138v-3.8M892.08 20v3.8M905.87 138v-5M905.87 20v5M919.65 138v-3.8M919.65 20v3.8M933.43 138v-5M933.43 20v5M947.22 138v-3.8M947.22 20v3.8M961 138v-5M961 20v5" stroke="#000000" stroke-width="1"/>
<g clip-path="url(#cp04)" fill="none">
<path d="M795.6 113.5 802.5 118.3 809.4 122.5 816.3 124.7 823.2 125.5 830.1 125.9 837 126.2 843.8 126.6 850.7 126.2 857.6 126.2 864.5 126.6 871.4 126.6 878.3 126.4 885.2 126.2 892.1 125.8 899 125.4 905.9 125.1 912.8 115.6 919.7 106.5 926.5 100 933.4 95 940.3 95.5 947.2 100.5 954.1 105.7 961 110.6M792.7 113.5h5.8M795.6 110.6v5.8M793.3 111.2l4.6 4.6m0 -4.6l-4.6 4.6M799.6 118.3h5.8M802.5 115.4v5.8M800.2 116l4.6 4.6m0 -4.6l-4.6 4.6M806.5 122.5h5.8M809.4 119.6v5.8M807.1 120.2l4.6 4.6m0 -4.6l-4.6 4.6M813.4 124.7h5.8M816.3 121.8v5.8M814 122.4l4.6 4.6m0 -4.6l-4.6 4.6M820.3 125.5h5.8M823.2 122.6v5.8M820.9 123.2l4.6 4.6m0 -4.6l-4.6 4.6M827.2 125.9h5.8M830.1 123v5.8M827.8 123.6l4.6 4.6m0 -4.6l-4.6 4.6M834.1 126.2h5.8M837 123.3v5.8M834.7 123.9l4.6 4.6m0 -4.6l-4.6 4.6M840.9 126.6h5.8M843.8 123.7v5.8M841.5 124.3l4.6 4.6m0 -4.6l-4.6 4.6M847.8 126.2h5.8M850.7 123.3v5.8M848.4 123.9l4.6 4.6m0 -4.6l-4.6 4.6M854.7 126.2h5.8M857.6 123.3v5.8M855.3 123.9l4.6 4.6m0 -4.6l-4.6 4.6M861.6 126.6h5.8M864.5 123.7v5.8M862.2 124.3l4.6 4.6m0 -4.6l-4.6 4.6M868.5 126.6h5.8M871.4 123.7v5.8M869.1 124.3l4.6 4.6m0 -4.6l-4.6 4.6M875.4 126.4h5.8M878.3 123.5v5.8M876 124.1l4.6 4.6m0 -4.6l-4.6 4.6M882.3 126.2h5.8M885.2 123.3v5.8M882.9 123.9l4.6 4.6m0 -4.6l-4.6 4.6M889.2 125.8h5.8M892.1 122.9v5.8M889.8 123.5l4.6 4.6m0 -4.6l-4.6 4.6M896.1 125.4h5.8M899 122.5v5.8M896.7 123.1l4.6 4.6m0 -4.6l-4.6 4.6M903 125.1h5.8M905.9 122.2v5.8M903.6 122.8l4.6 4.6m0 -4.6l-4.6 4.6M909.9 115.6h5.8M912.8 112.7v5.8M910.5 113.3l4.6 4.6m0 -4.6l-4.6 4.6M916.8 106.5h5.8M919.7 103.6v5.8M917.4 104.2l4.6 4.6m0 -4.6l-4.6 4.6M923.6 100h5.8M926.5 97.1v5.8M924.2 97.7l4.6 4.6m0 -4.6l-4.6 4.6M930.5 95h5.8M933.4 92.1v5.8M931.1 92.7l4.6 4.6m0 -4.6l-4.6 4.6M937.4 95.5h5.8M940.3 92.6v5.8M938 93.2l4.6 4.6m0 -4.6l-4.6 4.6M944.3 100.5h5.8M947.2 97.6v5.8M944.9 98.2l4.6 4.6m0 -4.6l-4.6 4.6M951.2 105.7h5.8M954.1 102.8v5.8M951.8 103.4l4.6 4.6m0 -4.6l-4.6 4.6M958.1 110.6h5.8M961 107.7v5.8M958.7 108.3l4.6 4.6m0 -4.6l-4.6 4.6" stroke="#00ffff" stroke-width="1.1"/>
<path d="M795.6 109.3 802.5 118.3 809.4 123.1 816.3 124.7 823.2 125.2 830.1 125.5 837 125.9 843.8 126.2 850.7 126.6 857.6 126.8 864.5 126.8 871.4 126.8 878.3 128 885.2 130.4 892.1 130.4 899 130.4 905.9 130 912.8 127.9 919.7 126.2 926.5 126.2 933.4 126.2 940.3 126.7 947.2 127 954.1 127 961 126.2M792.7 109.3h5.8M795.6 106.4v5.8M793.3 107l4.6 4.6m0 -4.6l-4.6 4.6M799.6 118.3h5.8M802.5 115.4v5.8M800.2 116l4.6 4.6m0 -4.6l-4.6 4.6M806.5 123.1h5.8M809.4 120.2v5.8M807.1 120.8l4.6 4.6m0 -4.6l-4.6 4.6M813.4 124.7h5.8M816.3 121.8v5.8M814 122.4l4.6 4.6m0 -4.6l-4.6 4.6M820.3 125.2h5.8M823.2 122.3v5.8M820.9 122.9l4.6 4.6m0 -4.6l-4.6 4.6M827.2 125.5h5.8M830.1 122.6v5.8M827.8 123.2l4.6 4.6m0 -4.6l-4.6 4.6M834.1 125.9h5.8M837 123v5.8M834.7 123.6l4.6 4.6m0 -4.6l-4.6 4.6M840.9 126.2h5.8M843.8 123.3v5.8M841.5 123.9l4.6 4.6m0 -4.6l-4.6 4.6M847.8 126.6h5.8M850.7 123.7v5.8M848.4 124.3l4.6 4.6m0 -4.6l-4.6 4.6M854.7 126.8h5.8M857.6 123.9v5.8M855.3 124.5l4.6 4.6m0 -4.6l-4.6 4.6M861.6 126.8h5.8M864.5 123.9v5.8M862.2 124.5l4.6 4.6m0 -4.6l-4.6 4.6M868.5 126.8h5.8M871.4 123.9v5.8M869.1 124.5l4.6 4.6m0 -4.6l-4.6 4.6M875.4 128h5.8M878.3 125.1v5.8M876 125.7l4.6 4.6m0 -4.6l-4.6 4.6M882.3 130.4h5.8M885.2 127.5v5.8M882.9 128.1l4.6 4.6m0 -4.6l-4.6 4.6M889.2 130.4h5.8M892.1 127.5v5.8M889.8 128.1l4.6 4.6m0 -4.6l-4.6 4.6M896.1 130.4h5.8M899 127.5v5.8M896.7 128.1l4.6 4.6m0 -4.6l-4.6 4.6M903 130h5.8M905.9 127.1v5.8M903.6 127.7l4.6 4.6m0 -4.6l-4.6 4.6M909.9 127.9h5.8M912.8 125v5.8M910.5 125.6l4.6 4.6m0 -4.6l-4.6 4.6M916.8 126.2h5.8M919.7 123.3v5.8M917.4 123.9l4.6 4.6m0 -4.6l-4.6 4.6M923.6 126.2h5.8M926.5 123.3v5.8M924.2 123.9l4.6 4.6m0 -4.6l-4.6 4.6M930.5 126.2h5.8M933.4 123.3v5.8M931.1 123.9l4.6 4.6m0 -4.6l-4.6 4.6M937.4 126.7h5.8M940.3 123.8v5.8M938 124.4l4.6 4.6m0 -4.6l-4.6 4.6M944.3 127h5.8M947.2 124.1v5.8M944.9 124.7l4.6 4.6m0 -4.6l-4.6 4.6M951.2 127h5.8M954.1 124.1v5.8M951.8 124.7l4.6 4.6m0 -4.6l-4.6 4.6M958.1 126.2h5.8M961 123.3v5.8M958.7 123.9l4.6 4.6m0 -4.6l-4.6 4.6" stroke="#00ff00" stroke-width="1.1"/>
<path d="M795.6 128.4 802.5 128.9 809.4 128.9 816.3 129.4 823.2 130 830.1 130 837 130.5 843.8 130.5 850.7 130.5 857.6 130.5 864.5 130 871.4 130 878.3 129.5 885.2 129.5 892.1 129.5 899 129 905.9 128.7 912.8 128.4 919.7 128.7 926.5 128.7 933.4 128.7 940.3 129 947.2 129.5 954.1 130 961 130M792.7 128.4h5.8M795.6 125.5v5.8M793.3 126.1l4.6 4.6m0 -4.6l-4.6 4.6M799.6 128.9h5.8M802.5 126v5.8M800.2 126.6l4.6 4.6m0 -4.6l-4.6 4.6M806.5 128.9h5.8M809.4 126v5.8M807.1 126.6l4.6 4.6m0 -4.6l-4.6 4.6M813.4 129.4h5.8M816.3 126.5v5.8M814 127.1l4.6 4.6m0 -4.6l-4.6 4.6M820.3 130h5.8M823.2 127.1v5.8M820.9 127.7l4.6 4.6m0 -4.6l-4.6 4.6M827.2 130h5.8M830.1 127.1v5.8M827.8 127.7l4.6 4.6m0 -4.6l-4.6 4.6M834.1 130.5h5.8M837 127.6v5.8M834.7 128.2l4.6 4.6m0 -4.6l-4.6 4.6M840.9 130.5h5.8M843.8 127.6v5.8M841.5 128.2l4.6 4.6m0 -4.6l-4.6 4.6M847.8 130.5h5.8M850.7 127.6v5.8M848.4 128.2l4.6 4.6m0 -4.6l-4.6 4.6M854.7 130.5h5.8M857.6 127.6v5.8M855.3 128.2l4.6 4.6m0 -4.6l-4.6 4.6M861.6 130h5.8M864.5 127.1v5.8M862.2 127.7l4.6 4.6m0 -4.6l-4.6 4.6M868.5 130h5.8M871.4 127.1v5.8M869.1 127.7l4.6 4.6m0 -4.6l-4.6 4.6M875.4 129.5h5.8M878.3 126.6v5.8M876 127.2l4.6 4.6m0 -4.6l-4.6 4.6M882.3 129.5h5.8M885.2 126.6v5.8M882.9 127.2l4.6 4.6m0 -4.6l-4.6 4.6M889.2 129.5h5.8M892.1 126.6v5.8M889.8 127.2l4.6 4.6m0 -4.6l-4.6 4.6M896.1 129h5.8M899 126.1v5.8M896.7 126.7l4.6 4.6m0 -4.6l-4.6 4.6M903 128.7h5.8M905.9 125.8v5.8M903.6 126.4l4.6 4.6m0 -4.6l-4.6 4.6M909.9 128.4h5.8M912.8 125.5v5.8M910.5 126.1l4.6 4.6m0 -4.6l-4.6 4.6M916.8 128.7h5.8M919.7 125.8v5.8M917.4 126.4l4.6 4.6m0 -4.6l-4.6 4.6M923.6 128.7h5.8M926.5 125.8v5.8M924.2 126.4l4.6 4.6m0 -4.6l-4.6 4.6M930.5 128.7h5.8M933.4 125.8v5.8M931.1 126.4l4.6 4.6m0 -4.6l-4.6 4.6M937.4 129h5.8M940.3 126.1v5.8M938 126.7l4.6 4.6m0 -4.6l-4.6 4.6M944.3 129.5h5.8M947.2 126.6v5.8M944.9 127.2l4.6 4.6m0 -4.6l-4.6 4.6M951.2 130h5.8M954.1 127.1v5.8M951.8 127.7l4.6 4.6m0 -4.6l-4.6 4.6M958.1 130h5.8M961 127.1v5.8M958.7 127.7l4.6 4.6m0 -4.6l-4.6 4.6" stroke="#0000ff" stroke-width="1.1"/>
<path d="M795.6 130.5 802.5 130.5 809.4 130.5 816.3 131 823.2 131.5 830.1 131.5 837 132.1 843.8 132.9 850.7 134.2 857.6 135.3 864.5 135.8 871.4 135.8 878.3 136 885.2 136.6 892.1 135.3 899 134.5 905.9 133.6 912.8 132 919.7 130.4 926.5 129.5 933.4 128.7 940.3 127.9 947.2 126.7 954.1 125.8 961 125.4M792.7 130.5h5.8M795.6 127.6v5.8M793.3 128.2l4.6 4.6m0 -4.6l-4.6 4.6M799.6 130.5h5.8M802.5 127.6v5.8M800.2 128.2l4.6 4.6m0 -4.6l-4.6 4.6M806.5 130.5h5.8M809.4 127.6v5.8M807.1 128.2l4.6 4.6m0 -4.6l-4.6 4.6M813.4 131h5.8M816.3 128.1v5.8M814 128.7l4.6 4.6m0 -4.6l-4.6 4.6M820.3 131.5h5.8M823.2 128.6v5.8M820.9 129.2l4.6 4.6m0 -4.6l-4.6 4.6M827.2 131.5h5.8M830.1 128.6v5.8M827.8 129.2l4.6 4.6m0 -4.6l-4.6 4.6M834.1 132.1h5.8M837 129.2v5.8M834.7 129.8l4.6 4.6m0 -4.6l-4.6 4.6M840.9 132.9h5.8M843.8 130v5.8M841.5 130.6l4.6 4.6m0 -4.6l-4.6 4.6M847.8 134.2h5.8M850.7 131.3v5.8M848.4 131.9l4.6 4.6m0 -4.6l-4.6 4.6M854.7 135.3h5.8M857.6 132.4v5.8M855.3 133l4.6 4.6m0 -4.6l-4.6 4.6M861.6 135.8h5.8M864.5 132.9v5.8M862.2 133.5l4.6 4.6m0 -4.6l-4.6 4.6M868.5 135.8h5.8M871.4 132.9v5.8M869.1 133.5l4.6 4.6m0 -4.6l-4.6 4.6M875.4 136h5.8M878.3 133.1v5.8M876 133.7l4.6 4.6m0 -4.6l-4.6 4.6M882.3 136.6h5.8M885.2 133.7v5.8M882.9 134.3l4.6 4.6m0 -4.6l-4.6 4.6M889.2 135.3h5.8M892.1 132.4v5.8M889.8 133l4.6 4.6m0 -4.6l-4.6 4.6M896.1 134.5h5.8M899 131.6v5.8M896.7 132.2l4.6 4.6m0 -4.6l-4.6 4.6M903 133.6h5.8M905.9 130.7v5.8M903.6 131.3l4.6 4.6m0 -4.6l-4.6 4.6M909.9 132h5.8M912.8 129.1v5.8M910.5 129.7l4.6 4.6m0 -4.6l-4.6 4.6M916.8 130.4h5.8M919.7 127.5v5.8M917.4 128.1l4.6 4.6m0 -4.6l-4.6 4.6M923.6 129.5h5.8M926.5 126.6v5.8M924.2 127.2l4.6 4.6m0 -4.6l-4.6 4.6M930.5 128.7h5.8M933.4 125.8v5.8M931.1 126.4l4.6 4.6m0 -4.6l-4.6 4.6M937.4 127.9h5.8M940.3 125v5.8M938 125.6l4.6 4.6m0 -4.6l-4.6 4.6M944.3 126.7h5.8M947.2 123.8v5.8M944.9 124.4l4.6 4.6m0 -4.6l-4.6 4.6M951.2 125.8h5.8M954.1 122.9v5.8M951.8 123.5l4.6 4.6m0 -4.6l-4.6 4.6M958.1 125.4h5.8M961 122.5v5.8M958.7 123.1l4.6 4.6m0 -4.6l-4.6 4.6" stroke="#ff0000" stroke-width="1.1"/>
</g>
<path d="M795.1 20H962M795.1 138H962M961 20V138" stroke="#000000" stroke-width="2" fill="none"/>
<path d="M795.6 20V138" stroke="#000000" stroke-width="1.1" fill="none"/>
<g fill="#000000"><text x="791.3" y="140.9" text-anchor="end">16</text><text x="791.3" y="116.03" text-anchor="end">36</text><text x="791.3" y="91.15" text-anchor="end">56</text><text x="791.3" y="66.28" text-anchor="end">76</text><text x="791.3" y="41.4" text-anchor="end">96</text><text x="795.6" y="148.7" text-anchor="middle">0</text><text x="823.17" y="148.7" text-anchor="middle">4</text><text x="850.73" y="148.7" text-anchor="middle">8</text><text x="878.3" y="148.7" text-anchor="middle">12</text><text x="905.87" y="148.7" text-anchor="middle">16</text><text x="933.43" y="148.7" text-anchor="middle">20</text><text x="961" y="148.7" text-anchor="middle">24</text><text x="878.3" y="162.6" text-anchor="middle" class="t" clip-path="url(#lc0)">Tap Mun</text></g>
<path d="M23.6 261.5H189M23.6 236.5H189M23.6 211.5H189M23.6 186.5H189" stroke="#000" stroke-width="1" stroke-dasharray="1.3 1.77"/>
<path d="M51.17 168V286M78.73 168V286M106.3 168V286M133.87 168V286M161.43 168V286" stroke="#000" stroke-width="1" stroke-dasharray="1 2.07"/>
<path d="M23.6 286.5h5.5M189 286.5h-5.5M23.6 273.5h4.2M189 273.5h-4.2M23.6 261.5h5.5M189 261.5h-5.5M23.6 248.5h4.2M189 248.5h-4.2M23.6 236.5h5.5M189 236.5h-5.5M23.6 223.5h4.2M189 223.5h-4.2M23.6 211.5h5.5M189 211.5h-5.5M23.6 198.5h4.2M189 198.5h-4.2M23.6 186.5h5.5M189 186.5h-5.5M23.6 174.5h4.2M189 174.5h-4.2M23.6 286v-5M23.6 168v5M37.38 286v-3.8M37.38 168v3.8M51.17 286v-5M51.17 168v5M64.95 286v-3.8M64.95 168v3.8M78.73 286v-5M78.73 168v5M92.52 286v-3.8M92.52 168v3.8M106.3 286v-5M106.3 168v5M120.08 286v-3.8M120.08 168v3.8M133.87 286v-5M133.87 168v5M147.65 286v-3.8M147.65 168v3.8M161.43 286v-5M161.43 168v5M175.22 286v-3.8M175.22 168v3.8M189 286v-5M189 168v5" stroke="#000000" stroke-width="1"/>
<g clip-path="url(#cp10)" fill="none">
<path d="M23.6 257.2 30.5 254.5 37.4 252.1 44.3 249.5 51.2 247.2 58.1 244.6 65 242.1 71.8 240.1 78.7 237.7 85.6 235.4 92.5 234 99.4 232.4 106.3 230.7 113.2 228.2 120.1 226.1 127 223.8 133.9 222.5 140.8 221.2 147.7 220 154.5 220 161.4 220.5 168.3 222.5 175.2 224.1 182.1 225.8 189 226.1M20.7 257.2h5.8M23.6 254.3v5.8M21.3 254.9l4.6 4.6m0 -4.6l-4.6 4.6M27.6 254.5h5.8M30.5 251.6v5.8M28.2 252.2l4.6 4.6m0 -4.6l-4.6 4.6M34.5 252.1h5.8M37.4 249.2v5.8M35.1 249.8l4.6 4.6m0 -4.6l-4.6 4.6M41.4 249.5h5.8M44.3 246.6v5.8M42 247.2l4.6 4.6m0 -4.6l-4.6 4.6M48.3 247.2h5.8M51.2 244.3v5.8M48.9 244.9l4.6 4.6m0 -4.6l-4.6 4.6M55.2 244.6h5.8M58.1 241.7v5.8M55.8 242.3l4.6 4.6m0 -4.6l-4.6 4.6M62.1 242.1h5.8M65 239.2v5.8M62.7 239.8l4.6 4.6m0 -4.6l-4.6 4.6M68.9 240.1h5.8M71.8 237.2v5.8M69.5 237.8l4.6 4.6m0 -4.6l-4.6 4.6M75.8 237.7h5.8M78.7 234.8v5.8M76.4 235.4l4.6 4.6m0 -4.6l-4.6 4.6M82.7 235.4h5.8M85.6 232.5v5.8M83.3 233.1l4.6 4.6m0 -4.6l-4.6 4.6M89.6 234h5.8M92.5 231.1v5.8M90.2 231.7l4.6 4.6m0 -4.6l-4.6 4.6M96.5 232.4h5.8M99.4 229.5v5.8M97.1 230.1l4.6 4.6m0 -4.6l-4.6 4.6M103.4 230.7h5.8M106.3 227.8v5.8M104 228.4l4.6 4.6m0 -4.6l-4.6 4.6M110.3 228.2h5.8M113.2 225.3v5.8M110.9 225.9l4.6 4.6m0 -4.6l-4.6 4.6M117.2 226.1h5.8M120.1 223.2v5.8M117.8 223.8l4.6 4.6m0 -4.6l-4.6 4.6M124.1 223.8h5.8M127 220.9v5.8M124.7 221.5l4.6 4.6m0 -4.6l-4.6 4.6M131 222.5h5.8M133.9 219.6v5.8M131.6 220.2l4.6 4.6m0 -4.6l-4.6 4.6M137.9 221.2h5.8M140.8 218.3v5.8M138.5 218.9l4.6 4.6m0 -4.6l-4.6 4.6M144.8 220h5.8M147.7 217.1v5.8M145.3 217.7l4.6 4.6m0 -4.6l-4.6 4.6M151.6 220h5.8M154.5 217.1v5.8M152.2 217.7l4.6 4.6m0 -4.6l-4.6 4.6M158.5 220.5h5.8M161.4 217.6v5.8M159.1 218.2l4.6 4.6m0 -4.6l-4.6 4.6M165.4 222.5h5.8M168.3 219.6v5.8M166 220.2l4.6 4.6m0 -4.6l-4.6 4.6M172.3 224.1h5.8M175.2 221.2v5.8M172.9 221.8l4.6 4.6m0 -4.6l-4.6 4.6M179.2 225.8h5.8M182.1 222.9v5.8M179.8 223.5l4.6 4.6m0 -4.6l-4.6 4.6M186.1 226.1h5.8M189 223.2v5.8M186.7 223.8l4.6 4.6m0 -4.6l-4.6 4.6" stroke="#00ffff" stroke-width="1.1"/>
<path d="M23.6 226.2 30.5 228.1 37.4 228.1 44.3 228.7 51.2 230.4 58.1 232.1 65 233.3 71.8 234.2 78.7 235.4 85.6 237.7 92.5 239.5 99.4 241.9 106.3 243.3 113.2 245.5 120.1 247.1 127 249.6 133.9 251.2 140.8 253.7 147.7 256.2 154.5 258.6 161.4 261.1 168.3 261.9 175.2 262.7 182.1 263.2 189 263.6M20.7 226.2h5.8M23.6 223.3v5.8M21.3 223.9l4.6 4.6m0 -4.6l-4.6 4.6M27.6 228.1h5.8M30.5 225.2v5.8M28.2 225.8l4.6 4.6m0 -4.6l-4.6 4.6M34.5 228.1h5.8M37.4 225.2v5.8M35.1 225.8l4.6 4.6m0 -4.6l-4.6 4.6M41.4 228.7h5.8M44.3 225.8v5.8M42 226.4l4.6 4.6m0 -4.6l-4.6 4.6M48.3 230.4h5.8M51.2 227.5v5.8M48.9 228.1l4.6 4.6m0 -4.6l-4.6 4.6M55.2 232.1h5.8M58.1 229.2v5.8M55.8 229.8l4.6 4.6m0 -4.6l-4.6 4.6M62.1 233.3h5.8M65 230.4v5.8M62.7 231l4.6 4.6m0 -4.6l-4.6 4.6M68.9 234.2h5.8M71.8 231.3v5.8M69.5 231.9l4.6 4.6m0 -4.6l-4.6 4.6M75.8 235.4h5.8M78.7 232.5v5.8M76.4 233.1l4.6 4.6m0 -4.6l-4.6 4.6M82.7 237.7h5.8M85.6 234.8v5.8M83.3 235.4l4.6 4.6m0 -4.6l-4.6 4.6M89.6 239.5h5.8M92.5 236.6v5.8M90.2 237.2l4.6 4.6m0 -4.6l-4.6 4.6M96.5 241.9h5.8M99.4 239v5.8M97.1 239.6l4.6 4.6m0 -4.6l-4.6 4.6M103.4 243.3h5.8M106.3 240.4v5.8M104 241l4.6 4.6m0 -4.6l-4.6 4.6M110.3 245.5h5.8M113.2 242.6v5.8M110.9 243.2l4.6 4.6m0 -4.6l-4.6 4.6M117.2 247.1h5.8M120.1 244.2v5.8M117.8 244.8l4.6 4.6m0 -4.6l-4.6 4.6M124.1 249.6h5.8M127 246.7v5.8M124.7 247.3l4.6 4.6m0 -4.6l-4.6 4.6M131 251.2h5.8M133.9 248.3v5.8M131.6 248.9l4.6 4.6m0 -4.6l-4.6 4.6M137.9 253.7h5.8M140.8 250.8v5.8M138.5 251.4l4.6 4.6m0 -4.6l-4.6 4.6M144.8 256.2h5.8M147.7 253.3v5.8M145.3 253.9l4.6 4.6m0 -4.6l-4.6 4.6M151.6 258.6h5.8M154.5 255.7v5.8M152.2 256.3l4.6 4.6m0 -4.6l-4.6 4.6M158.5 261.1h5.8M161.4 258.2v5.8M159.1 258.8l4.6 4.6m0 -4.6l-4.6 4.6M165.4 261.9h5.8M168.3 259v5.8M166 259.6l4.6 4.6m0 -4.6l-4.6 4.6M172.3 262.7h5.8M175.2 259.8v5.8M172.9 260.4l4.6 4.6m0 -4.6l-4.6 4.6M179.2 263.2h5.8M182.1 260.3v5.8M179.8 260.9l4.6 4.6m0 -4.6l-4.6 4.6M186.1 263.6h5.8M189 260.7v5.8M186.7 261.3l4.6 4.6m0 -4.6l-4.6 4.6" stroke="#00ff00" stroke-width="1.1"/>
<path d="M23.6 264.3 30.5 266 37.4 267.2 44.3 268.4 51.2 269.6 58.1 270.2 65 270.8 71.8 271.4 78.7 272.2 85.6 272.2 92.5 272.5 99.4 272.9 106.3 272.8 113.2 272.6 120.1 272.6 127 271.8 133.9 270.1 140.8 269.3 147.7 268.2 154.5 267.7 161.4 266.9 168.3 266.5 175.2 266 182.1 265.5 189 265.2M20.7 264.3h5.8M23.6 261.4v5.8M21.3 262l4.6 4.6m0 -4.6l-4.6 4.6M27.6 266h5.8M30.5 263.1v5.8M28.2 263.7l4.6 4.6m0 -4.6l-4.6 4.6M34.5 267.2h5.8M37.4 264.3v5.8M35.1 264.9l4.6 4.6m0 -4.6l-4.6 4.6M41.4 268.4h5.8M44.3 265.5v5.8M42 266.1l4.6 4.6m0 -4.6l-4.6 4.6M48.3 269.6h5.8M51.2 266.7v5.8M48.9 267.3l4.6 4.6m0 -4.6l-4.6 4.6M55.2 270.2h5.8M58.1 267.3v5.8M55.8 267.9l4.6 4.6m0 -4.6l-4.6 4.6M62.1 270.8h5.8M65 267.9v5.8M62.7 268.5l4.6 4.6m0 -4.6l-4.6 4.6M68.9 271.4h5.8M71.8 268.5v5.8M69.5 269.1l4.6 4.6m0 -4.6l-4.6 4.6M75.8 272.2h5.8M78.7 269.3v5.8M76.4 269.9l4.6 4.6m0 -4.6l-4.6 4.6M82.7 272.2h5.8M85.6 269.3v5.8M83.3 269.9l4.6 4.6m0 -4.6l-4.6 4.6M89.6 272.5h5.8M92.5 269.6v5.8M90.2 270.2l4.6 4.6m0 -4.6l-4.6 4.6M96.5 272.9h5.8M99.4 270v5.8M97.1 270.6l4.6 4.6m0 -4.6l-4.6 4.6M103.4 272.8h5.8M106.3 269.9v5.8M104 270.5l4.6 4.6m0 -4.6l-4.6 4.6M110.3 272.6h5.8M113.2 269.7v5.8M110.9 270.3l4.6 4.6m0 -4.6l-4.6 4.6M117.2 272.6h5.8M120.1 269.7v5.8M117.8 270.3l4.6 4.6m0 -4.6l-4.6 4.6M124.1 271.8h5.8M127 268.9v5.8M124.7 269.5l4.6 4.6m0 -4.6l-4.6 4.6M131 270.1h5.8M133.9 267.2v5.8M131.6 267.8l4.6 4.6m0 -4.6l-4.6 4.6M137.9 269.3h5.8M140.8 266.4v5.8M138.5 267l4.6 4.6m0 -4.6l-4.6 4.6M144.8 268.2h5.8M147.7 265.3v5.8M145.3 265.9l4.6 4.6m0 -4.6l-4.6 4.6M151.6 267.7h5.8M154.5 264.8v5.8M152.2 265.4l4.6 4.6m0 -4.6l-4.6 4.6M158.5 266.9h5.8M161.4 264v5.8M159.1 264.6l4.6 4.6m0 -4.6l-4.6 4.6M165.4 266.5h5.8M168.3 263.6v5.8M166 264.2l4.6 4.6m0 -4.6l-4.6 4.6M172.3 266h5.8M175.2 263.1v5.8M172.9 263.7l4.6 4.6m0 -4.6l-4.6 4.6M179.2 265.5h5.8M182.1 262.6v5.8M179.8 263.2l4.6 4.6m0 -4.6l-4.6 4.6M186.1 265.2h5.8M189 262.3v5.8M186.7 262.9l4.6 4.6m0 -4.6l-4.6 4.6" stroke="#0000ff" stroke-width="1.1"/>
<path d="M23.6 265.5 30.5 265.1 37.4 263.7 44.3 262.5 51.2 261.9 58.1 262.3 65 262.5 71.8 263.1 78.7 261.9 85.6 262.5 92.5 262.5 99.4 262.8 106.3 262.7 113.2 263.6 120.1 264.4 127 265.5 133.9 267.7 140.8 269.3 147.7 270.5 154.5 271.8 161.4 272.6 168.3 273.4 175.2 273.8 182.1 273.8 189 273.8M20.7 265.5h5.8M23.6 262.6v5.8M21.3 263.2l4.6 4.6m0 -4.6l-4.6 4.6M27.6 265.1h5.8M30.5 262.2v5.8M28.2 262.8l4.6 4.6m0 -4.6l-4.6 4.6M34.5 263.7h5.8M37.4 260.8v5.8M35.1 261.4l4.6 4.6m0 -4.6l-4.6 4.6M41.4 262.5h5.8M44.3 259.6v5.8M42 260.2l4.6 4.6m0 -4.6l-4.6 4.6M48.3 261.9h5.8M51.2 259v5.8M48.9 259.6l4.6 4.6m0 -4.6l-4.6 4.6M55.2 262.3h5.8M58.1 259.4v5.8M55.8 260l4.6 4.6m0 -4.6l-4.6 4.6M62.1 262.5h5.8M65 259.6v5.8M62.7 260.2l4.6 4.6m0 -4.6l-4.6 4.6M68.9 263.1h5.8M71.8 260.2v5.8M69.5 260.8l4.6 4.6m0 -4.6l-4.6 4.6M75.8 261.9h5.8M78.7 259v5.8M76.4 259.6l4.6 4.6m0 -4.6l-4.6 4.6M82.7 262.5h5.8M85.6 259.6v5.8M83.3 260.2l4.6 4.6m0 -4.6l-4.6 4.6M89.6 262.5h5.8M92.5 259.6v5.8M90.2 260.2l4.6 4.6m0 -4.6l-4.6 4.6M96.5 262.8h5.8M99.4 259.9v5.8M97.1 260.5l4.6 4.6m0 -4.6l-4.6 4.6M103.4 262.7h5.8M106.3 259.8v5.8M104 260.4l4.6 4.6m0 -4.6l-4.6 4.6M110.3 263.6h5.8M113.2 260.7v5.8M110.9 261.3l4.6 4.6m0 -4.6l-4.6 4.6M117.2 264.4h5.8M120.1 261.5v5.8M117.8 262.1l4.6 4.6m0 -4.6l-4.6 4.6M124.1 265.5h5.8M127 262.6v5.8M124.7 263.2l4.6 4.6m0 -4.6l-4.6 4.6M131 267.7h5.8M133.9 264.8v5.8M131.6 265.4l4.6 4.6m0 -4.6l-4.6 4.6M137.9 269.3h5.8M140.8 266.4v5.8M138.5 267l4.6 4.6m0 -4.6l-4.6 4.6M144.8 270.5h5.8M147.7 267.6v5.8M145.3 268.2l4.6 4.6m0 -4.6l-4.6 4.6M151.6 271.8h5.8M154.5 268.9v5.8M152.2 269.5l4.6 4.6m0 -4.6l-4.6 4.6M158.5 272.6h5.8M161.4 269.7v5.8M159.1 270.3l4.6 4.6m0 -4.6l-4.6 4.6M165.4 273.4h5.8M168.3 270.5v5.8M166 271.1l4.6 4.6m0 -4.6l-4.6 4.6M172.3 273.8h5.8M175.2 270.9v5.8M172.9 271.5l4.6 4.6m0 -4.6l-4.6 4.6M179.2 273.8h5.8M182.1 270.9v5.8M179.8 271.5l4.6 4.6m0 -4.6l-4.6 4.6M186.1 273.8h5.8M189 270.9v5.8M186.7 271.5l4.6 4.6m0 -4.6l-4.6 4.6" stroke="#ff0000" stroke-width="1.1"/>
</g>
<path d="M23.1 168H190M23.1 286H190M189 168V286" stroke="#000000" stroke-width="2" fill="none"/>
<path d="M23.6 168V286" stroke="#000000" stroke-width="1.1" fill="none"/>
<g fill="#000000"><text x="19.3" y="288.9" text-anchor="end">16</text><text x="19.3" y="264.02" text-anchor="end">36</text><text x="19.3" y="239.15" text-anchor="end">56</text><text x="19.3" y="214.28" text-anchor="end">76</text><text x="19.3" y="189.4" text-anchor="end">96</text><text x="23.6" y="296.7" text-anchor="middle">0</text><text x="51.17" y="296.7" text-anchor="middle">4</text><text x="78.73" y="296.7" text-anchor="middle">8</text><text x="106.3" y="296.7" text-anchor="middle">12</text><text x="133.87" y="296.7" text-anchor="middle">16</text><text x="161.43" y="296.7" text-anchor="middle">20</text><text x="189" y="296.7" text-anchor="middle">24</text><text x="106.3" y="310.6" text-anchor="middle" class="t" clip-path="url(#lc1)">Tuen Mun</text></g>
<path d="M216.6 261.5H382M216.6 236.5H382M216.6 211.5H382M216.6 186.5H382" stroke="#000" stroke-width="1" stroke-dasharray="1.3 1.77"/>
<path d="M244.17 168V286M271.73 168V286M299.3 168V286M326.87 168V286M354.43 168V286" stroke="#000" stroke-width="1" stroke-dasharray="1 2.07"/>
<path d="M216.6 286.5h5.5M382 286.5h-5.5M216.6 273.5h4.2M382 273.5h-4.2M216.6 261.5h5.5M382 261.5h-5.5M216.6 248.5h4.2M382 248.5h-4.2M216.6 236.5h5.5M382 236.5h-5.5M216.6 223.5h4.2M382 223.5h-4.2M216.6 211.5h5.5M382 211.5h-5.5M216.6 198.5h4.2M382 198.5h-4.2M216.6 186.5h5.5M382 186.5h-5.5M216.6 174.5h4.2M382 174.5h-4.2M216.6 286v-5M216.6 168v5M230.38 286v-3.8M230.38 168v3.8M244.17 286v-5M244.17 168v5M257.95 286v-3.8M257.95 168v3.8M271.73 286v-5M271.73 168v5M285.52 286v-3.8M285.52 168v3.8M299.3 286v-5M299.3 168v5M313.08 286v-3.8M313.08 168v3.8M326.87 286v-5M326.87 168v5M340.65 286v-3.8M340.65 168v3.8M354.43 286v-5M354.43 168v5M368.22 286v-3.8M368.22 168v3.8M382 286v-5M382 168v5" stroke="#000000" stroke-width="1"/>
<g clip-path="url(#cp11)" fill="none">
<path d="M216.6 265.5 223.5 264.6 230.4 263.7 237.3 263.1 244.2 262.8 251.1 262.5 257.9 262.5 264.8 262.5 271.7 262.5 278.6 261.9 285.5 261.6 292.4 261.1 299.3 260.3 306.2 259.5 313.1 257.8 320 257 326.9 255.4 333.8 253.4 340.6 251.7 347.5 250.8 354.4 250.4 361.3 250.4 368.2 250.1 375.1 249.6 382 248.8M213.7 265.5h5.8M216.6 262.6v5.8M214.3 263.2l4.6 4.6m0 -4.6l-4.6 4.6M220.6 264.6h5.8M223.5 261.7v5.8M221.2 262.3l4.6 4.6m0 -4.6l-4.6 4.6M227.5 263.7h5.8M230.4 260.8v5.8M228.1 261.4l4.6 4.6m0 -4.6l-4.6 4.6M234.4 263.1h5.8M237.3 260.2v5.8M235 260.8l4.6 4.6m0 -4.6l-4.6 4.6M241.3 262.8h5.8M244.2 259.9v5.8M241.9 260.5l4.6 4.6m0 -4.6l-4.6 4.6M248.2 262.5h5.8M251.1 259.6v5.8M248.8 260.2l4.6 4.6m0 -4.6l-4.6 4.6M255 262.5h5.8M257.9 259.6v5.8M255.6 260.2l4.6 4.6m0 -4.6l-4.6 4.6M261.9 262.5h5.8M264.8 259.6v5.8M262.5 260.2l4.6 4.6m0 -4.6l-4.6 4.6M268.8 262.5h5.8M271.7 259.6v5.8M269.4 260.2l4.6 4.6m0 -4.6l-4.6 4.6M275.7 261.9h5.8M278.6 259v5.8M276.3 259.6l4.6 4.6m0 -4.6l-4.6 4.6M282.6 261.6h5.8M285.5 258.7v5.8M283.2 259.3l4.6 4.6m0 -4.6l-4.6 4.6M289.5 261.1h5.8M292.4 258.2v5.8M290.1 258.8l4.6 4.6m0 -4.6l-4.6 4.6M296.4 260.3h5.8M299.3 257.4v5.8M297 258l4.6 4.6m0 -4.6l-4.6 4.6M303.3 259.5h5.8M306.2 256.6v5.8M303.9 257.2l4.6 4.6m0 -4.6l-4.6 4.6M310.2 257.8h5.8M313.1 254.9v5.8M310.8 255.5l4.6 4.6m0 -4.6l-4.6 4.6M317.1 257h5.8M320 254.1v5.8M317.7 254.7l4.6 4.6m0 -4.6l-4.6 4.6M324 255.4h5.8M326.9 252.5v5.8M324.6 253.1l4.6 4.6m0 -4.6l-4.6 4.6M330.9 253.4h5.8M333.8 250.5v5.8M331.5 251.1l4.6 4.6m0 -4.6l-4.6 4.6M337.8 251.7h5.8M340.6 248.8v5.8M338.3 249.4l4.6 4.6m0 -4.6l-4.6 4.6M344.6 250.8h5.8M347.5 247.9v5.8M345.2 248.5l4.6 4.6m0 -4.6l-4.6 4.6M351.5 250.4h5.8M354.4 247.5v5.8M352.1 248.1l4.6 4.6m0 -4.6l-4.6 4.6M358.4 250.4h5.8M361.3 247.5v5.8M359 248.1l4.6 4.6m0 -4.6l-4.6 4.6M365.3 250.1h5.8M368.2 247.2v5.8M365.9 247.8l4.6 4.6m0 -4.6l-4.6 4.6M372.2 249.6h5.8M375.1 246.7v5.8M372.8 247.3l4.6 4.6m0 -4.6l-4.6 4.6M379.1 248.8h5.8M382 245.9v5.8M379.7 246.5l4.6 4.6m0 -4.6l-4.6 4.6" stroke="#00ffff" stroke-width="1.1"/>
<path d="M216.6 248.4 223.5 248.6 230.4 249 237.3 247.8 244.2 246.2 251.1 244.6 257.9 244.2 264.8 244.2 271.7 243.9 278.6 244.6 285.5 245.4 292.4 246.6 299.3 248.2 306.2 250.4 313.1 252.1 320 253.7 326.9 255.4 333.8 257.8 340.6 260 347.5 262.7 354.4 264.4 361.3 265.2 368.2 266 375.1 267.7 382 268.2M213.7 248.4h5.8M216.6 245.5v5.8M214.3 246.1l4.6 4.6m0 -4.6l-4.6 4.6M220.6 248.6h5.8M223.5 245.7v5.8M221.2 246.3l4.6 4.6m0 -4.6l-4.6 4.6M227.5 249h5.8M230.4 246.1v5.8M228.1 246.7l4.6 4.6m0 -4.6l-4.6 4.6M234.4 247.8h5.8M237.3 244.9v5.8M235 245.5l4.6 4.6m0 -4.6l-4.6 4.6M241.3 246.2h5.8M244.2 243.3v5.8M241.9 243.9l4.6 4.6m0 -4.6l-4.6 4.6M248.2 244.6h5.8M251.1 241.7v5.8M248.8 242.3l4.6 4.6m0 -4.6l-4.6 4.6M255 244.2h5.8M257.9 241.3v5.8M255.6 241.9l4.6 4.6m0 -4.6l-4.6 4.6M261.9 244.2h5.8M264.8 241.3v5.8M262.5 241.9l4.6 4.6m0 -4.6l-4.6 4.6M268.8 243.9h5.8M271.7 241v5.8M269.4 241.6l4.6 4.6m0 -4.6l-4.6 4.6M275.7 244.6h5.8M278.6 241.7v5.8M276.3 242.3l4.6 4.6m0 -4.6l-4.6 4.6M282.6 245.4h5.8M285.5 242.5v5.8M283.2 243.1l4.6 4.6m0 -4.6l-4.6 4.6M289.5 246.6h5.8M292.4 243.7v5.8M290.1 244.3l4.6 4.6m0 -4.6l-4.6 4.6M296.4 248.2h5.8M299.3 245.3v5.8M297 245.9l4.6 4.6m0 -4.6l-4.6 4.6M303.3 250.4h5.8M306.2 247.5v5.8M303.9 248.1l4.6 4.6m0 -4.6l-4.6 4.6M310.2 252.1h5.8M313.1 249.2v5.8M310.8 249.8l4.6 4.6m0 -4.6l-4.6 4.6M317.1 253.7h5.8M320 250.8v5.8M317.7 251.4l4.6 4.6m0 -4.6l-4.6 4.6M324 255.4h5.8M326.9 252.5v5.8M324.6 253.1l4.6 4.6m0 -4.6l-4.6 4.6M330.9 257.8h5.8M333.8 254.9v5.8M331.5 255.5l4.6 4.6m0 -4.6l-4.6 4.6M337.8 260h5.8M340.6 257.1v5.8M338.3 257.7l4.6 4.6m0 -4.6l-4.6 4.6M344.6 262.7h5.8M347.5 259.8v5.8M345.2 260.4l4.6 4.6m0 -4.6l-4.6 4.6M351.5 264.4h5.8M354.4 261.5v5.8M352.1 262.1l4.6 4.6m0 -4.6l-4.6 4.6M358.4 265.2h5.8M361.3 262.3v5.8M359 262.9l4.6 4.6m0 -4.6l-4.6 4.6M365.3 266h5.8M368.2 263.1v5.8M365.9 263.7l4.6 4.6m0 -4.6l-4.6 4.6M372.2 267.7h5.8M375.1 264.8v5.8M372.8 265.4l4.6 4.6m0 -4.6l-4.6 4.6M379.1 268.2h5.8M382 265.3v5.8M379.7 265.9l4.6 4.6m0 -4.6l-4.6 4.6" stroke="#00ff00" stroke-width="1.1"/>
<path d="M216.6 269 223.5 271.4 230.4 272 237.3 273.7 244.2 275.5 251.1 277.3 257.9 277.8 264.8 278.4 271.7 278.8 278.6 278.4 285.5 277.6 292.4 276.1 299.3 275.7 306.2 275.1 313.1 274.2 320 273.4 326.9 272.6 333.8 271.5 340.6 270.5 347.5 270.1 354.4 268.8 361.3 268.5 368.2 268.2 375.1 268.2 382 268.2M213.7 269h5.8M216.6 266.1v5.8M214.3 266.7l4.6 4.6m0 -4.6l-4.6 4.6M220.6 271.4h5.8M223.5 268.5v5.8M221.2 269.1l4.6 4.6m0 -4.6l-4.6 4.6M227.5 272h5.8M230.4 269.1v5.8M228.1 269.7l4.6 4.6m0 -4.6l-4.6 4.6M234.4 273.7h5.8M237.3 270.8v5.8M235 271.4l4.6 4.6m0 -4.6l-4.6 4.6M241.3 275.5h5.8M244.2 272.6v5.8M241.9 273.2l4.6 4.6m0 -4.6l-4.6 4.6M248.2 277.3h5.8M251.1 274.4v5.8M248.8 275l4.6 4.6m0 -4.6l-4.6 4.6M255 277.8h5.8M257.9 274.9v5.8M255.6 275.5l4.6 4.6m0 -4.6l-4.6 4.6M261.9 278.4h5.8M264.8 275.5v5.8M262.5 276.1l4.6 4.6m0 -4.6l-4.6 4.6M268.8 278.8h5.8M271.7 275.9v5.8M269.4 276.5l4.6 4.6m0 -4.6l-4.6 4.6M275.7 278.4h5.8M278.6 275.5v5.8M276.3 276.1l4.6 4.6m0 -4.6l-4.6 4.6M282.6 277.6h5.8M285.5 274.7v5.8M283.2 275.3l4.6 4.6m0 -4.6l-4.6 4.6M289.5 276.1h5.8M292.4 273.2v5.8M290.1 273.8l4.6 4.6m0 -4.6l-4.6 4.6M296.4 275.7h5.8M299.3 272.8v5.8M297 273.4l4.6 4.6m0 -4.6l-4.6 4.6M303.3 275.1h5.8M306.2 272.2v5.8M303.9 272.8l4.6 4.6m0 -4.6l-4.6 4.6M310.2 274.2h5.8M313.1 271.3v5.8M310.8 271.9l4.6 4.6m0 -4.6l-4.6 4.6M317.1 273.4h5.8M320 270.5v5.8M317.7 271.1l4.6 4.6m0 -4.6l-4.6 4.6M324 272.6h5.8M326.9 269.7v5.8M324.6 270.3l4.6 4.6m0 -4.6l-4.6 4.6M330.9 271.5h5.8M333.8 268.6v5.8M331.5 269.2l4.6 4.6m0 -4.6l-4.6 4.6M337.8 270.5h5.8M340.6 267.6v5.8M338.3 268.2l4.6 4.6m0 -4.6l-4.6 4.6M344.6 270.1h5.8M347.5 267.2v5.8M345.2 267.8l4.6 4.6m0 -4.6l-4.6 4.6M351.5 268.8h5.8M354.4 265.9v5.8M352.1 266.5l4.6 4.6m0 -4.6l-4.6 4.6M358.4 268.5h5.8M361.3 265.6v5.8M359 266.2l4.6 4.6m0 -4.6l-4.6 4.6M365.3 268.2h5.8M368.2 265.3v5.8M365.9 265.9l4.6 4.6m0 -4.6l-4.6 4.6M372.2 268.2h5.8M375.1 265.3v5.8M372.8 265.9l4.6 4.6m0 -4.6l-4.6 4.6M379.1 268.2h5.8M382 265.3v5.8M379.7 265.9l4.6 4.6m0 -4.6l-4.6 4.6" stroke="#0000ff" stroke-width="1.1"/>
<path d="M216.6 267.2 223.5 267.5 230.4 267.5 237.3 267.2 244.2 267 251.1 267.2 257.9 267.2 264.8 267.2 271.7 267.2 278.6 267.8 285.5 269.6 292.4 270.8 299.3 271.8 306.2 271.8 313.1 273.1 320 273.8 326.9 274.7 333.8 275.4 340.6 276.7 347.5 277.5 354.4 278 361.3 278.4 368.2 278.4 375.1 278.7 382 279.7M213.7 267.2h5.8M216.6 264.3v5.8M214.3 264.9l4.6 4.6m0 -4.6l-4.6 4.6M220.6 267.5h5.8M223.5 264.6v5.8M221.2 265.2l4.6 4.6m0 -4.6l-4.6 4.6M227.5 267.5h5.8M230.4 264.6v5.8M228.1 265.2l4.6 4.6m0 -4.6l-4.6 4.6M234.4 267.2h5.8M237.3 264.3v5.8M235 264.9l4.6 4.6m0 -4.6l-4.6 4.6M241.3 267h5.8M244.2 264.1v5.8M241.9 264.7l4.6 4.6m0 -4.6l-4.6 4.6M248.2 267.2h5.8M251.1 264.3v5.8M248.8 264.9l4.6 4.6m0 -4.6l-4.6 4.6M255 267.2h5.8M257.9 264.3v5.8M255.6 264.9l4.6 4.6m0 -4.6l-4.6 4.6M261.9 267.2h5.8M264.8 264.3v5.8M262.5 264.9l4.6 4.6m0 -4.6l-4.6 4.6M268.8 267.2h5.8M271.7 264.3v5.8M269.4 264.9l4.6 4.6m0 -4.6l-4.6 4.6M275.7 267.8h5.8M278.6 264.9v5.8M276.3 265.5l4.6 4.6m0 -4.6l-4.6 4.6M282.6 269.6h5.8M285.5 266.7v5.8M283.2 267.3l4.6 4.6m0 -4.6l-4.6 4.6M289.5 270.8h5.8M292.4 267.9v5.8M290.1 268.5l4.6 4.6m0 -4.6l-4.6 4.6M296.4 271.8h5.8M299.3 268.9v5.8M297 269.5l4.6 4.6m0 -4.6l-4.6 4.6M303.3 271.8h5.8M306.2 268.9v5.8M303.9 269.5l4.6 4.6m0 -4.6l-4.6 4.6M310.2 273.1h5.8M313.1 270.2v5.8M310.8 270.8l4.6 4.6m0 -4.6l-4.6 4.6M317.1 273.8h5.8M320 270.9v5.8M317.7 271.5l4.6 4.6m0 -4.6l-4.6 4.6M324 274.7h5.8M326.9 271.8v5.8M324.6 272.4l4.6 4.6m0 -4.6l-4.6 4.6M330.9 275.4h5.8M333.8 272.5v5.8M331.5 273.1l4.6 4.6m0 -4.6l-4.6 4.6M337.8 276.7h5.8M340.6 273.8v5.8M338.3 274.4l4.6 4.6m0 -4.6l-4.6 4.6M344.6 277.5h5.8M347.5 274.6v5.8M345.2 275.2l4.6 4.6m0 -4.6l-4.6 4.6M351.5 278h5.8M354.4 275.1v5.8M352.1 275.7l4.6 4.6m0 -4.6l-4.6 4.6M358.4 278.4h5.8M361.3 275.5v5.8M359 276.1l4.6 4.6m0 -4.6l-4.6 4.6M365.3 278.4h5.8M368.2 275.5v5.8M365.9 276.1l4.6 4.6m0 -4.6l-4.6 4.6M372.2 278.7h5.8M375.1 275.8v5.8M372.8 276.4l4.6 4.6m0 -4.6l-4.6 4.6M379.1 279.7h5.8M382 276.8v5.8M379.7 277.4l4.6 4.6m0 -4.6l-4.6 4.6" stroke="#ff0000" stroke-width="1.1"/>
</g>
<path d="M216.1 168H383M216.1 286H383M382 168V286" stroke="#000000" stroke-width="2" fill="none"/>
<path d="M216.6 168V286" stroke="#000000" stroke-width="1.1" fill="none"/>
<g fill="#000000"><text x="212.3" y="288.9" text-anchor="end">16</text><text x="212.3" y="264.02" text-anchor="end">36</text><text x="212.3" y="239.15" text-anchor="end">56</text><text x="212.3" y="214.28" text-anchor="end">76</text><text x="212.3" y="189.4" text-anchor="end">96</text><text x="216.6" y="296.7" text-anchor="middle">0</text><text x="244.17" y="296.7" text-anchor="middle">4</text><text x="271.73" y="296.7" text-anchor="middle">8</text><text x="299.3" y="296.7" text-anchor="middle">12</text><text x="326.87" y="296.7" text-anchor="middle">16</text><text x="354.43" y="296.7" text-anchor="middle">20</text><text x="382" y="296.7" text-anchor="middle">24</text><text x="299.3" y="310.6" text-anchor="middle" class="t" clip-path="url(#lc1)">Tsuen Wan</text></g>
<path d="M409.6 261.5H575M409.6 236.5H575M409.6 211.5H575M409.6 186.5H575" stroke="#000" stroke-width="1" stroke-dasharray="1.3 1.77"/>
<path d="M437.17 168V286M464.73 168V286M492.3 168V286M519.87 168V286M547.43 168V286" stroke="#000" stroke-width="1" stroke-dasharray="1 2.07"/>
<path d="M409.6 286.5h5.5M575 286.5h-5.5M409.6 273.5h4.2M575 273.5h-4.2M409.6 261.5h5.5M575 261.5h-5.5M409.6 248.5h4.2M575 248.5h-4.2M409.6 236.5h5.5M575 236.5h-5.5M409.6 223.5h4.2M575 223.5h-4.2M409.6 211.5h5.5M575 211.5h-5.5M409.6 198.5h4.2M575 198.5h-4.2M409.6 186.5h5.5M575 186.5h-5.5M409.6 174.5h4.2M575 174.5h-4.2M409.6 286v-5M409.6 168v5M423.38 286v-3.8M423.38 168v3.8M437.17 286v-5M437.17 168v5M450.95 286v-3.8M450.95 168v3.8M464.73 286v-5M464.73 168v5M478.52 286v-3.8M478.52 168v3.8M492.3 286v-5M492.3 168v5M506.08 286v-3.8M506.08 168v3.8M519.87 286v-5M519.87 168v5M533.65 286v-3.8M533.65 168v3.8M547.43 286v-5M547.43 168v5M561.22 286v-3.8M561.22 168v3.8M575 286v-5M575 168v5" stroke="#000000" stroke-width="1"/>
<g clip-path="url(#cp12)" fill="none">
<path d="M409.6 245.4 416.5 244.8 423.4 244.2 430.3 243.9 437.2 243.1 444.1 240.7 451 237.7 457.8 234.8 464.7 231.8 471.6 229.5 478.5 228.5 485.4 228.1 492.3 227.3 499.2 226.6 506.1 225.8 513 225.8 519.9 227.1 526.8 229.1 533.7 230.4 540.5 229.9 547.4 229.9 554.3 229.1 561.2 228.2 568.1 228.7 575 228.2M406.7 245.4h5.8M409.6 242.5v5.8M407.3 243.1l4.6 4.6m0 -4.6l-4.6 4.6M413.6 244.8h5.8M416.5 241.9v5.8M414.2 242.5l4.6 4.6m0 -4.6l-4.6 4.6M420.5 244.2h5.8M423.4 241.3v5.8M421.1 241.9l4.6 4.6m0 -4.6l-4.6 4.6M427.4 243.9h5.8M430.3 241v5.8M428 241.6l4.6 4.6m0 -4.6l-4.6 4.6M434.3 243.1h5.8M437.2 240.2v5.8M434.9 240.8l4.6 4.6m0 -4.6l-4.6 4.6M441.2 240.7h5.8M444.1 237.8v5.8M441.8 238.4l4.6 4.6m0 -4.6l-4.6 4.6M448.1 237.7h5.8M451 234.8v5.8M448.7 235.4l4.6 4.6m0 -4.6l-4.6 4.6M454.9 234.8h5.8M457.8 231.9v5.8M455.5 232.5l4.6 4.6m0 -4.6l-4.6 4.6M461.8 231.8h5.8M464.7 228.9v5.8M462.4 229.5l4.6 4.6m0 -4.6l-4.6 4.6M468.7 229.5h5.8M471.6 226.6v5.8M469.3 227.2l4.6 4.6m0 -4.6l-4.6 4.6M475.6 228.5h5.8M478.5 225.6v5.8M476.2 226.2l4.6 4.6m0 -4.6l-4.6 4.6M482.5 228.1h5.8M485.4 225.2v5.8M483.1 225.8l4.6 4.6m0 -4.6l-4.6 4.6M489.4 227.3h5.8M492.3 224.4v5.8M490 225l4.6 4.6m0 -4.6l-4.6 4.6M496.3 226.6h5.8M499.2 223.7v5.8M496.9 224.3l4.6 4.6m0 -4.6l-4.6 4.6M503.2 225.8h5.8M506.1 222.9v5.8M503.8 223.5l4.6 4.6m0 -4.6l-4.6 4.6M510.1 225.8h5.8M513 222.9v5.8M510.7 223.5l4.6 4.6m0 -4.6l-4.6 4.6M517 227.1h5.8M519.9 224.2v5.8M517.6 224.8l4.6 4.6m0 -4.6l-4.6 4.6M523.9 229.1h5.8M526.8 226.2v5.8M524.5 226.8l4.6 4.6m0 -4.6l-4.6 4.6M530.8 230.4h5.8M533.7 227.5v5.8M531.4 228.1l4.6 4.6m0 -4.6l-4.6 4.6M537.6 229.9h5.8M540.5 227v5.8M538.2 227.6l4.6 4.6m0 -4.6l-4.6 4.6M544.5 229.9h5.8M547.4 227v5.8M545.1 227.6l4.6 4.6m0 -4.6l-4.6 4.6M551.4 229.1h5.8M554.3 226.2v5.8M552 226.8l4.6 4.6m0 -4.6l-4.6 4.6M558.3 228.2h5.8M561.2 225.3v5.8M558.9 225.9l4.6 4.6m0 -4.6l-4.6 4.6M565.2 228.7h5.8M568.1 225.8v5.8M565.8 226.4l4.6 4.6m0 -4.6l-4.6 4.6M572.1 228.2h5.8M575 225.3v5.8M572.7 225.9l4.6 4.6m0 -4.6l-4.6 4.6" stroke="#00ffff" stroke-width="1.1"/>
<path d="M409.6 228.3 416.5 228.7 423.4 229.3 430.3 229.7 437.2 230.9 444.1 234.2 451 238 457.8 241.3 464.7 244.2 471.6 246.6 478.5 248.4 485.4 248.4 492.3 248 499.2 247.5 506.1 247.5 513 247.1 519.9 247.1 526.8 247.1 533.7 248 540.5 249.6 547.4 250.8 554.3 252.1 561.2 253.7 568.1 254.5 575 255.4M406.7 228.3h5.8M409.6 225.4v5.8M407.3 226l4.6 4.6m0 -4.6l-4.6 4.6M413.6 228.7h5.8M416.5 225.8v5.8M414.2 226.4l4.6 4.6m0 -4.6l-4.6 4.6M420.5 229.3h5.8M423.4 226.4v5.8M421.1 227l4.6 4.6m0 -4.6l-4.6 4.6M427.4 229.7h5.8M430.3 226.8v5.8M428 227.4l4.6 4.6m0 -4.6l-4.6 4.6M434.3 230.9h5.8M437.2 228v5.8M434.9 228.6l4.6 4.6m0 -4.6l-4.6 4.6M441.2 234.2h5.8M444.1 231.3v5.8M441.8 231.9l4.6 4.6m0 -4.6l-4.6 4.6M448.1 238h5.8M451 235.1v5.8M448.7 235.7l4.6 4.6m0 -4.6l-4.6 4.6M454.9 241.3h5.8M457.8 238.4v5.8M455.5 239l4.6 4.6m0 -4.6l-4.6 4.6M461.8 244.2h5.8M464.7 241.3v5.8M462.4 241.9l4.6 4.6m0 -4.6l-4.6 4.6M468.7 246.6h5.8M471.6 243.7v5.8M469.3 244.3l4.6 4.6m0 -4.6l-4.6 4.6M475.6 248.4h5.8M478.5 245.5v5.8M476.2 246.1l4.6 4.6m0 -4.6l-4.6 4.6M482.5 248.4h5.8M485.4 245.5v5.8M483.1 246.1l4.6 4.6m0 -4.6l-4.6 4.6M489.4 248h5.8M492.3 245.1v5.8M490 245.7l4.6 4.6m0 -4.6l-4.6 4.6M496.3 247.5h5.8M499.2 244.6v5.8M496.9 245.2l4.6 4.6m0 -4.6l-4.6 4.6M503.2 247.5h5.8M506.1 244.6v5.8M503.8 245.2l4.6 4.6m0 -4.6l-4.6 4.6M510.1 247.1h5.8M513 244.2v5.8M510.7 244.8l4.6 4.6m0 -4.6l-4.6 4.6M517 247.1h5.8M519.9 244.2v5.8M517.6 244.8l4.6 4.6m0 -4.6l-4.6 4.6M523.9 247.1h5.8M526.8 244.2v5.8M524.5 244.8l4.6 4.6m0 -4.6l-4.6 4.6M530.8 248h5.8M533.7 245.1v5.8M531.4 245.7l4.6 4.6m0 -4.6l-4.6 4.6M537.6 249.6h5.8M540.5 246.7v5.8M538.2 247.3l4.6 4.6m0 -4.6l-4.6 4.6M544.5 250.8h5.8M547.4 247.9v5.8M545.1 248.5l4.6 4.6m0 -4.6l-4.6 4.6M551.4 252.1h5.8M554.3 249.2v5.8M552 249.8l4.6 4.6m0 -4.6l-4.6 4.6M558.3 253.7h5.8M561.2 250.8v5.8M558.9 251.4l4.6 4.6m0 -4.6l-4.6 4.6M565.2 254.5h5.8M568.1 251.6v5.8M565.8 252.2l4.6 4.6m0 -4.6l-4.6 4.6M572.1 255.4h5.8M575 252.5v5.8M572.7 253.1l4.6 4.6m0 -4.6l-4.6 4.6" stroke="#00ff00" stroke-width="1.1"/>
<path d="M409.6 255.4 416.5 255.7 423.4 256 430.3 256 437.2 256 444.1 256.6 451 256.9 457.8 257.2 464.7 257.2 471.6 257.2 478.5 256.9 485.4 256.6 492.3 256.4 499.2 256.2 506.1 255.4 513 254.5 519.9 253.7 526.8 252.9 533.7 251.7 540.5 250.8 547.4 250.4 554.3 250.1 561.2 250.1 568.1 249.6 575 249.1M406.7 255.4h5.8M409.6 252.5v5.8M407.3 253.1l4.6 4.6m0 -4.6l-4.6 4.6M413.6 255.7h5.8M416.5 252.8v5.8M414.2 253.4l4.6 4.6m0 -4.6l-4.6 4.6M420.5 256h5.8M423.4 253.1v5.8M421.1 253.7l4.6 4.6m0 -4.6l-4.6 4.6M427.4 256h5.8M430.3 253.1v5.8M428 253.7l4.6 4.6m0 -4.6l-4.6 4.6M434.3 256h5.8M437.2 253.1v5.8M434.9 253.7l4.6 4.6m0 -4.6l-4.6 4.6M441.2 256.6h5.8M444.1 253.7v5.8M441.8 254.3l4.6 4.6m0 -4.6l-4.6 4.6M448.1 256.9h5.8M451 254v5.8M448.7 254.6l4.6 4.6m0 -4.6l-4.6 4.6M454.9 257.2h5.8M457.8 254.3v5.8M455.5 254.9l4.6 4.6m0 -4.6l-4.6 4.6M461.8 257.2h5.8M464.7 254.3v5.8M462.4 254.9l4.6 4.6m0 -4.6l-4.6 4.6M468.7 257.2h5.8M471.6 254.3v5.8M469.3 254.9l4.6 4.6m0 -4.6l-4.6 4.6M475.6 256.9h5.8M478.5 254v5.8M476.2 254.6l4.6 4.6m0 -4.6l-4.6 4.6M482.5 256.6h5.8M485.4 253.7v5.8M483.1 254.3l4.6 4.6m0 -4.6l-4.6 4.6M489.4 256.4h5.8M492.3 253.5v5.8M490 254.1l4.6 4.6m0 -4.6l-4.6 4.6M496.3 256.2h5.8M499.2 253.3v5.8M496.9 253.9l4.6 4.6m0 -4.6l-4.6 4.6M503.2 255.4h5.8M506.1 252.5v5.8M503.8 253.1l4.6 4.6m0 -4.6l-4.6 4.6M510.1 254.5h5.8M513 251.6v5.8M510.7 252.2l4.6 4.6m0 -4.6l-4.6 4.6M517 253.7h5.8M519.9 250.8v5.8M517.6 251.4l4.6 4.6m0 -4.6l-4.6 4.6M523.9 252.9h5.8M526.8 250v5.8M524.5 250.6l4.6 4.6m0 -4.6l-4.6 4.6M530.8 251.7h5.8M533.7 248.8v5.8M531.4 249.4l4.6 4.6m0 -4.6l-4.6 4.6M537.6 250.8h5.8M540.5 247.9v5.8M538.2 248.5l4.6 4.6m0 -4.6l-4.6 4.6M544.5 250.4h5.8M547.4 247.5v5.8M545.1 248.1l4.6 4.6m0 -4.6l-4.6 4.6M551.4 250.1h5.8M554.3 247.2v5.8M552 247.8l4.6 4.6m0 -4.6l-4.6 4.6M558.3 250.1h5.8M561.2 247.2v5.8M558.9 247.8l4.6 4.6m0 -4.6l-4.6 4.6M565.2 249.6h5.8M568.1 246.7v5.8M565.8 247.3l4.6 4.6m0 -4.6l-4.6 4.6M572.1 249.1h5.8M575 246.2v5.8M572.7 246.8l4.6 4.6m0 -4.6l-4.6 4.6" stroke="#0000ff" stroke-width="1.1"/>
<path d="M409.6 249.3 416.5 248.6 423.4 248.1 430.3 247.8 437.2 247.4 444.1 247.2 451 246.9 457.8 246.9 464.7 247.2 471.6 247.8 478.5 248.6 485.4 249.5 492.3 250.5 499.2 252.1 506.1 253.7 513 254.5 519.9 255.4 526.8 257 533.7 258.6 540.5 259 547.4 259.5 554.3 260 561.2 260.3 568.1 261.1 575 261.6M406.7 249.3h5.8M409.6 246.4v5.8M407.3 247l4.6 4.6m0 -4.6l-4.6 4.6M413.6 248.6h5.8M416.5 245.7v5.8M414.2 246.3l4.6 4.6m0 -4.6l-4.6 4.6M420.5 248.1h5.8M423.4 245.2v5.8M421.1 245.8l4.6 4.6m0 -4.6l-4.6 4.6M427.4 247.8h5.8M430.3 244.9v5.8M428 245.5l4.6 4.6m0 -4.6l-4.6 4.6M434.3 247.4h5.8M437.2 244.5v5.8M434.9 245.1l4.6 4.6m0 -4.6l-4.6 4.6M441.2 247.2h5.8M444.1 244.3v5.8M441.8 244.9l4.6 4.6m0 -4.6l-4.6 4.6M448.1 246.9h5.8M451 244v5.8M448.7 244.6l4.6 4.6m0 -4.6l-4.6 4.6M454.9 246.9h5.8M457.8 244v5.8M455.5 244.6l4.6 4.6m0 -4.6l-4.6 4.6M461.8 247.2h5.8M464.7 244.3v5.8M462.4 244.9l4.6 4.6m0 -4.6l-4.6 4.6M468.7 247.8h5.8M471.6 244.9v5.8M469.3 245.5l4.6 4.6m0 -4.6l-4.6 4.6M475.6 248.6h5.8M478.5 245.7v5.8M476.2 246.3l4.6 4.6m0 -4.6l-4.6 4.6M482.5 249.5h5.8M485.4 246.6v5.8M483.1 247.2l4.6 4.6m0 -4.6l-4.6 4.6M489.4 250.5h5.8M492.3 247.6v5.8M490 248.2l4.6 4.6m0 -4.6l-4.6 4.6M496.3 252.1h5.8M499.2 249.2v5.8M496.9 249.8l4.6 4.6m0 -4.6l-4.6 4.6M503.2 253.7h5.8M506.1 250.8v5.8M503.8 251.4l4.6 4.6m0 -4.6l-4.6 4.6M510.1 254.5h5.8M513 251.6v5.8M510.7 252.2l4.6 4.6m0 -4.6l-4.6 4.6M517 255.4h5.8M519.9 252.5v5.8M517.6 253.1l4.6 4.6m0 -4.6l-4.6 4.6M523.9 257h5.8M526.8 254.1v5.8M524.5 254.7l4.6 4.6m0 -4.6l-4.6 4.6M530.8 258.6h5.8M533.7 255.7v5.8M531.4 256.3l4.6 4.6m0 -4.6l-4.6 4.6M537.6 259h5.8M540.5 256.1v5.8M538.2 256.7l4.6 4.6m0 -4.6l-4.6 4.6M544.5 259.5h5.8M547.4 256.6v5.8M545.1 257.2l4.6 4.6m0 -4.6l-4.6 4.6M551.4 260h5.8M554.3 257.1v5.8M552 257.7l4.6 4.6m0 -4.6l-4.6 4.6M558.3 260.3h5.8M561.2 257.4v5.8M558.9 258l4.6 4.6m0 -4.6l-4.6 4.6M565.2 261.1h5.8M568.1 258.2v5.8M565.8 258.8l4.6 4.6m0 -4.6l-4.6 4.6M572.1 261.6h5.8M575 258.7v5.8M572.7 259.3l4.6 4.6m0 -4.6l-4.6 4.6" stroke="#ff0000" stroke-width="1.1"/>
</g>
<path d="M409.1 168H576M409.1 286H576M575 168V286" stroke="#000000" stroke-width="2" fill="none"/>
<path d="M409.6 168V286" stroke="#000000" stroke-width="1.1" fill="none"/>
<g fill="#000000"><text x="405.3" y="288.9" text-anchor="end">16</text><text x="405.3" y="264.02" text-anchor="end">36</text><text x="405.3" y="239.15" text-anchor="end">56</text><text x="405.3" y="214.28" text-anchor="end">76</text><text x="405.3" y="189.4" text-anchor="end">96</text><text x="409.6" y="296.7" text-anchor="middle">0</text><text x="437.17" y="296.7" text-anchor="middle">4</text><text x="464.73" y="296.7" text-anchor="middle">8</text><text x="492.3" y="296.7" text-anchor="middle">12</text><text x="519.87" y="296.7" text-anchor="middle">16</text><text x="547.43" y="296.7" text-anchor="middle">20</text><text x="575" y="296.7" text-anchor="middle">24</text><text x="492.3" y="310.6" text-anchor="middle" class="t" clip-path="url(#lc1)">Sham Shui Po</text></g>
<path d="M602.6 261.5H768M602.6 236.5H768M602.6 211.5H768M602.6 186.5H768" stroke="#000" stroke-width="1" stroke-dasharray="1.3 1.77"/>
<path d="M630.17 168V286M657.73 168V286M685.3 168V286M712.87 168V286M740.43 168V286" stroke="#000" stroke-width="1" stroke-dasharray="1 2.07"/>
<path d="M602.6 286.5h5.5M768 286.5h-5.5M602.6 273.5h4.2M768 273.5h-4.2M602.6 261.5h5.5M768 261.5h-5.5M602.6 248.5h4.2M768 248.5h-4.2M602.6 236.5h5.5M768 236.5h-5.5M602.6 223.5h4.2M768 223.5h-4.2M602.6 211.5h5.5M768 211.5h-5.5M602.6 198.5h4.2M768 198.5h-4.2M602.6 186.5h5.5M768 186.5h-5.5M602.6 174.5h4.2M768 174.5h-4.2M602.6 286v-5M602.6 168v5M616.38 286v-3.8M616.38 168v3.8M630.17 286v-5M630.17 168v5M643.95 286v-3.8M643.95 168v3.8M657.73 286v-5M657.73 168v5M671.52 286v-3.8M671.52 168v3.8M685.3 286v-5M685.3 168v5M699.08 286v-3.8M699.08 168v3.8M712.87 286v-5M712.87 168v5M726.65 286v-3.8M726.65 168v3.8M740.43 286v-5M740.43 168v5M754.22 286v-3.8M754.22 168v3.8M768 286v-5M768 168v5" stroke="#000000" stroke-width="1"/>
<g clip-path="url(#cp13)" fill="none">
<path d="M602.6 251 609.5 251 616.4 250.7 623.3 250.5 630.2 250.5 637.1 250.5 644 250.5 650.8 250.7 657.7 250.7 664.6 250.7 671.5 250.5 678.4 250.1 685.3 249.5 692.2 249.6 699.1 249.6 706 249.6 712.9 250.4 719.8 251.2 726.7 252.9 733.5 250.4 740.4 248 747.3 245.5 754.2 243.5 761.1 240.6 768 238.6M599.7 251h5.8M602.6 248.1v5.8M600.3 248.7l4.6 4.6m0 -4.6l-4.6 4.6M606.6 251h5.8M609.5 248.1v5.8M607.2 248.7l4.6 4.6m0 -4.6l-4.6 4.6M613.5 250.7h5.8M616.4 247.8v5.8M614.1 248.4l4.6 4.6m0 -4.6l-4.6 4.6M620.4 250.5h5.8M623.3 247.6v5.8M621 248.2l4.6 4.6m0 -4.6l-4.6 4.6M627.3 250.5h5.8M630.2 247.6v5.8M627.9 248.2l4.6 4.6m0 -4.6l-4.6 4.6M634.2 250.5h5.8M637.1 247.6v5.8M634.8 248.2l4.6 4.6m0 -4.6l-4.6 4.6M641.1 250.5h5.8M644 247.6v5.8M641.7 248.2l4.6 4.6m0 -4.6l-4.6 4.6M647.9 250.7h5.8M650.8 247.8v5.8M648.5 248.4l4.6 4.6m0 -4.6l-4.6 4.6M654.8 250.7h5.8M657.7 247.8v5.8M655.4 248.4l4.6 4.6m0 -4.6l-4.6 4.6M661.7 250.7h5.8M664.6 247.8v5.8M662.3 248.4l4.6 4.6m0 -4.6l-4.6 4.6M668.6 250.5h5.8M671.5 247.6v5.8M669.2 248.2l4.6 4.6m0 -4.6l-4.6 4.6M675.5 250.1h5.8M678.4 247.2v5.8M676.1 247.8l4.6 4.6m0 -4.6l-4.6 4.6M682.4 249.5h5.8M685.3 246.6v5.8M683 247.2l4.6 4.6m0 -4.6l-4.6 4.6M689.3 249.6h5.8M692.2 246.7v5.8M689.9 247.3l4.6 4.6m0 -4.6l-4.6 4.6M696.2 249.6h5.8M699.1 246.7v5.8M696.8 247.3l4.6 4.6m0 -4.6l-4.6 4.6M703.1 249.6h5.8M706 246.7v5.8M703.7 247.3l4.6 4.6m0 -4.6l-4.6 4.6M710 250.4h5.8M712.9 247.5v5.8M710.6 248.1l4.6 4.6m0 -4.6l-4.6 4.6M716.9 251.2h5.8M719.8 248.3v5.8M717.5 248.9l4.6 4.6m0 -4.6l-4.6 4.6M723.8 252.9h5.8M726.7 250v5.8M724.4 250.6l4.6 4.6m0 -4.6l-4.6 4.6M730.6 250.4h5.8M733.5 247.5v5.8M731.2 248.1l4.6 4.6m0 -4.6l-4.6 4.6M737.5 248h5.8M740.4 245.1v5.8M738.1 245.7l4.6 4.6m0 -4.6l-4.6 4.6M744.4 245.5h5.8M747.3 242.6v5.8M745 243.2l4.6 4.6m0 -4.6l-4.6 4.6M751.3 243.5h5.8M754.2 240.6v5.8M751.9 241.2l4.6 4.6m0 -4.6l-4.6 4.6M758.2 240.6h5.8M761.1 237.7v5.8M758.8 238.3l4.6 4.6m0 -4.6l-4.6 4.6M765.1 238.6h5.8M768 235.7v5.8M765.7 236.3l4.6 4.6m0 -4.6l-4.6 4.6" stroke="#00ffff" stroke-width="1.1"/>
<path d="M602.6 238 609.5 237.5 616.4 237.5 623.3 237.5 630.2 237.5 637.1 237.7 644 237.7 650.8 238 657.7 238 664.6 239.2 671.5 241.5 678.4 244.6 685.3 246.6 692.2 249.6 699.1 252.9 706 256.2 712.9 257.8 719.8 261.1 726.7 264.4 733.5 268.2 740.4 271 747.3 273.4 754.2 275.4 761.1 277.5 768 279.2M599.7 238h5.8M602.6 235.1v5.8M600.3 235.7l4.6 4.6m0 -4.6l-4.6 4.6M606.6 237.5h5.8M609.5 234.6v5.8M607.2 235.2l4.6 4.6m0 -4.6l-4.6 4.6M613.5 237.5h5.8M616.4 234.6v5.8M614.1 235.2l4.6 4.6m0 -4.6l-4.6 4.6M620.4 237.5h5.8M623.3 234.6v5.8M621 235.2l4.6 4.6m0 -4.6l-4.6 4.6M627.3 237.5h5.8M630.2 234.6v5.8M627.9 235.2l4.6 4.6m0 -4.6l-4.6 4.6M634.2 237.7h5.8M637.1 234.8v5.8M634.8 235.4l4.6 4.6m0 -4.6l-4.6 4.6M641.1 237.7h5.8M644 234.8v5.8M641.7 235.4l4.6 4.6m0 -4.6l-4.6 4.6M647.9 238h5.8M650.8 235.1v5.8M648.5 235.7l4.6 4.6m0 -4.6l-4.6 4.6M654.8 238h5.8M657.7 235.1v5.8M655.4 235.7l4.6 4.6m0 -4.6l-4.6 4.6M661.7 239.2h5.8M664.6 236.3v5.8M662.3 236.9l4.6 4.6m0 -4.6l-4.6 4.6M668.6 241.5h5.8M671.5 238.6v5.8M669.2 239.2l4.6 4.6m0 -4.6l-4.6 4.6M675.5 244.6h5.8M678.4 241.7v5.8M676.1 242.3l4.6 4.6m0 -4.6l-4.6 4.6M682.4 246.6h5.8M685.3 243.7v5.8M683 244.3l4.6 4.6m0 -4.6l-4.6 4.6M689.3 249.6h5.8M692.2 246.7v5.8M689.9 247.3l4.6 4.6m0 -4.6l-4.6 4.6M696.2 252.9h5.8M699.1 250v5.8M696.8 250.6l4.6 4.6m0 -4.6l-4.6 4.6M703.1 256.2h5.8M706 253.3v5.8M703.7 253.9l4.6 4.6m0 -4.6l-4.6 4.6M710 257.8h5.8M712.9 254.9v5.8M710.6 255.5l4.6 4.6m0 -4.6l-4.6 4.6M716.9 261.1h5.8M719.8 258.2v5.8M717.5 258.8l4.6 4.6m0 -4.6l-4.6 4.6M723.8 264.4h5.8M726.7 261.5v5.8M724.4 262.1l4.6 4.6m0 -4.6l-4.6 4.6M730.6 268.2h5.8M733.5 265.3v5.8M731.2 265.9l4.6 4.6m0 -4.6l-4.6 4.6M737.5 271h5.8M740.4 268.1v5.8M738.1 268.7l4.6 4.6m0 -4.6l-4.6 4.6M744.4 273.4h5.8M747.3 270.5v5.8M745 271.1l4.6 4.6m0 -4.6l-4.6 4.6M751.3 275.4h5.8M754.2 272.5v5.8M751.9 273.1l4.6 4.6m0 -4.6l-4.6 4.6M758.2 277.5h5.8M761.1 274.6v5.8M758.8 275.2l4.6 4.6m0 -4.6l-4.6 4.6M765.1 279.2h5.8M768 276.3v5.8M765.7 276.9l4.6 4.6m0 -4.6l-4.6 4.6" stroke="#00ff00" stroke-width="1.1"/>
<path d="M602.6 279.6 609.5 280.4 616.4 280.8 623.3 281.2 630.2 281.2 637.1 280.8 644 280.2 650.8 280.2 657.7 281.4 664.6 282.6 671.5 283.2 678.4 280.2 685.3 280.7 692.2 280.8 699.1 280.3 706 279.7 712.9 278.7 719.8 278 726.7 276.7 733.5 275.9 740.4 274.7 747.3 273.8 754.2 273.1 761.1 272.1 768 271.8M599.7 279.6h5.8M602.6 276.7v5.8M600.3 277.3l4.6 4.6m0 -4.6l-4.6 4.6M606.6 280.4h5.8M609.5 277.5v5.8M607.2 278.1l4.6 4.6m0 -4.6l-4.6 4.6M613.5 280.8h5.8M616.4 277.9v5.8M614.1 278.5l4.6 4.6m0 -4.6l-4.6 4.6M620.4 281.2h5.8M623.3 278.3v5.8M621 278.9l4.6 4.6m0 -4.6l-4.6 4.6M627.3 281.2h5.8M630.2 278.3v5.8M627.9 278.9l4.6 4.6m0 -4.6l-4.6 4.6M634.2 280.8h5.8M637.1 277.9v5.8M634.8 278.5l4.6 4.6m0 -4.6l-4.6 4.6M641.1 280.2h5.8M644 277.3v5.8M641.7 277.9l4.6 4.6m0 -4.6l-4.6 4.6M647.9 280.2h5.8M650.8 277.3v5.8M648.5 277.9l4.6 4.6m0 -4.6l-4.6 4.6M654.8 281.4h5.8M657.7 278.5v5.8M655.4 279.1l4.6 4.6m0 -4.6l-4.6 4.6M661.7 282.6h5.8M664.6 279.7v5.8M662.3 280.3l4.6 4.6m0 -4.6l-4.6 4.6M668.6 283.2h5.8M671.5 280.3v5.8M669.2 280.9l4.6 4.6m0 -4.6l-4.6 4.6M675.5 280.2h5.8M678.4 277.3v5.8M676.1 277.9l4.6 4.6m0 -4.6l-4.6 4.6M682.4 280.7h5.8M685.3 277.8v5.8M683 278.4l4.6 4.6m0 -4.6l-4.6 4.6M689.3 280.8h5.8M692.2 277.9v5.8M689.9 278.5l4.6 4.6m0 -4.6l-4.6 4.6M696.2 280.3h5.8M699.1 277.4v5.8M696.8 278l4.6 4.6m0 -4.6l-4.6 4.6M703.1 279.7h5.8M706 276.8v5.8M703.7 277.4l4.6 4.6m0 -4.6l-4.6 4.6M710 278.7h5.8M712.9 275.8v5.8M710.6 276.4l4.6 4.6m0 -4.6l-4.6 4.6M716.9 278h5.8M719.8 275.1v5.8M717.5 275.7l4.6 4.6m0 -4.6l-4.6 4.6M723.8 276.7h5.8M726.7 273.8v5.8M724.4 274.4l4.6 4.6m0 -4.6l-4.6 4.6M730.6 275.9h5.8M733.5 273v5.8M731.2 273.6l4.6 4.6m0 -4.6l-4.6 4.6M737.5 274.7h5.8M740.4 271.8v5.8M738.1 272.4l4.6 4.6m0 -4.6l-4.6 4.6M744.4 273.8h5.8M747.3 270.9v5.8M745 271.5l4.6 4.6m0 -4.6l-4.6 4.6M751.3 273.1h5.8M754.2 270.2v5.8M751.9 270.8l4.6 4.6m0 -4.6l-4.6 4.6M758.2 272.1h5.8M761.1 269.2v5.8M758.8 269.8l4.6 4.6m0 -4.6l-4.6 4.6M765.1 271.8h5.8M768 268.9v5.8M765.7 269.5l4.6 4.6m0 -4.6l-4.6 4.6" stroke="#0000ff" stroke-width="1.1"/>
<path d="M602.6 272 609.5 272 616.4 271.1 623.3 270.2 630.2 269.6 637.1 269 644 268.2 650.8 268.2 657.7 269.4 664.6 270.5 671.5 271.7 678.4 273.7 685.3 274.6 692.2 276.4 699.1 278 706 276.7 712.9 275.9 719.8 275.4 726.7 274.7 733.5 274.2 740.4 273.8 747.3 273.8 754.2 273.4 761.1 273.1 768 272.6M599.7 272h5.8M602.6 269.1v5.8M600.3 269.7l4.6 4.6m0 -4.6l-4.6 4.6M606.6 272h5.8M609.5 269.1v5.8M607.2 269.7l4.6 4.6m0 -4.6l-4.6 4.6M613.5 271.1h5.8M616.4 268.2v5.8M614.1 268.8l4.6 4.6m0 -4.6l-4.6 4.6M620.4 270.2h5.8M623.3 267.3v5.8M621 267.9l4.6 4.6m0 -4.6l-4.6 4.6M627.3 269.6h5.8M630.2 266.7v5.8M627.9 267.3l4.6 4.6m0 -4.6l-4.6 4.6M634.2 269h5.8M637.1 266.1v5.8M634.8 266.7l4.6 4.6m0 -4.6l-4.6 4.6M641.1 268.2h5.8M644 265.3v5.8M641.7 265.9l4.6 4.6m0 -4.6l-4.6 4.6M647.9 268.2h5.8M650.8 265.3v5.8M648.5 265.9l4.6 4.6m0 -4.6l-4.6 4.6M654.8 269.4h5.8M657.7 266.5v5.8M655.4 267.1l4.6 4.6m0 -4.6l-4.6 4.6M661.7 270.5h5.8M664.6 267.6v5.8M662.3 268.2l4.6 4.6m0 -4.6l-4.6 4.6M668.6 271.7h5.8M671.5 268.8v5.8M669.2 269.4l4.6 4.6m0 -4.6l-4.6 4.6M675.5 273.7h5.8M678.4 270.8v5.8M676.1 271.4l4.6 4.6m0 -4.6l-4.6 4.6M682.4 274.6h5.8M685.3 271.7v5.8M683 272.3l4.6 4.6m0 -4.6l-4.6 4.6M689.3 276.4h5.8M692.2 273.5v5.8M689.9 274.1l4.6 4.6m0 -4.6l-4.6 4.6M696.2 278h5.8M699.1 275.1v5.8M696.8 275.7l4.6 4.6m0 -4.6l-4.6 4.6M703.1 276.7h5.8M706 273.8v5.8M703.7 274.4l4.6 4.6m0 -4.6l-4.6 4.6M710 275.9h5.8M712.9 273v5.8M710.6 273.6l4.6 4.6m0 -4.6l-4.6 4.6M716.9 275.4h5.8M719.8 272.5v5.8M717.5 273.1l4.6 4.6m0 -4.6l-4.6 4.6M723.8 274.7h5.8M726.7 271.8v5.8M724.4 272.4l4.6 4.6m0 -4.6l-4.6 4.6M730.6 274.2h5.8M733.5 271.3v5.8M731.2 271.9l4.6 4.6m0 -4.6l-4.6 4.6M737.5 273.8h5.8M740.4 270.9v5.8M738.1 271.5l4.6 4.6m0 -4.6l-4.6 4.6M744.4 273.8h5.8M747.3 270.9v5.8M745 271.5l4.6 4.6m0 -4.6l-4.6 4.6M751.3 273.4h5.8M754.2 270.5v5.8M751.9 271.1l4.6 4.6m0 -4.6l-4.6 4.6M758.2 273.1h5.8M761.1 270.2v5.8M758.8 270.8l4.6 4.6m0 -4.6l-4.6 4.6M765.1 272.6h5.8M768 269.7v5.8M765.7 270.3l4.6 4.6m0 -4.6l-4.6 4.6" stroke="#ff0000" stroke-width="1.1"/>
</g>
<path d="M602.1 168H769M602.1 286H769M768 168V286" stroke="#000000" stroke-width="2" fill="none"/>
<path d="M602.6 168V286" stroke="#000000" stroke-width="1.1" fill="none"/>
<g fill="#000000"><text x="598.3" y="288.9" text-anchor="end">16</text><text x="598.3" y="264.02" text-anchor="end">36</text><text x="598.3" y="239.15" text-anchor="end">56</text><text x="598.3" y="214.28" text-anchor="end">76</text><text x="598.3" y="189.4" text-anchor="end">96</text><text x="602.6" y="296.7" text-anchor="middle">0</text><text x="630.17" y="296.7" text-anchor="middle">4</text><text x="657.73" y="296.7" text-anchor="middle">8</text><text x="685.3" y="296.7" text-anchor="middle">12</text><text x="712.87" y="296.7" text-anchor="middle">16</text><text x="740.43" y="296.7" text-anchor="middle">20</text><text x="768" y="296.7" text-anchor="middle">24</text><text x="685.3" y="310.6" text-anchor="middle" class="t" clip-path="url(#lc1)">Sha Tin</text></g>
<path d="M23.6 409.5H189M23.6 384.5H189M23.6 359.5H189M23.6 334.5H189" stroke="#000" stroke-width="1" stroke-dasharray="1.3 1.77"/>
<path d="M51.17 316V434M78.73 316V434M106.3 316V434M133.87 316V434M161.43 316V434" stroke="#000" stroke-width="1" stroke-dasharray="1 2.07"/>
<path d="M23.6 434.5h5.5M189 434.5h-5.5M23.6 421.5h4.2M189 421.5h-4.2M23.6 409.5h5.5M189 409.5h-5.5M23.6 396.5h4.2M189 396.5h-4.2M23.6 384.5h5.5M189 384.5h-5.5M23.6 371.5h4.2M189 371.5h-4.2M23.6 359.5h5.5M189 359.5h-5.5M23.6 346.5h4.2M189 346.5h-4.2M23.6 334.5h5.5M189 334.5h-5.5M23.6 322.5h4.2M189 322.5h-4.2M23.6 434v-5M23.6 316v5M37.38 434v-3.8M37.38 316v3.8M51.17 434v-5M51.17 316v5M64.95 434v-3.8M64.95 316v3.8M78.73 434v-5M78.73 316v5M92.52 434v-3.8M92.52 316v3.8M106.3 434v-5M106.3 316v5M120.08 434v-3.8M120.08 316v3.8M133.87 434v-5M133.87 316v5M147.65 434v-3.8M147.65 316v3.8M161.43 434v-5M161.43 316v5M175.22 434v-3.8M175.22 316v3.8M189 434v-5M189 316v5" stroke="#000000" stroke-width="1"/>
<path d="M23.1 316H190M23.1 434H190M189 316V434" stroke="#000000" stroke-width="2" fill="none"/>
<path d="M23.6 316V434" stroke="#000000" stroke-width="1.1" fill="none"/>
<g fill="#000000"><text x="19.3" y="436.9" text-anchor="end">16</text><text x="19.3" y="412.02" text-anchor="end">36</text><text x="19.3" y="387.15" text-anchor="end">56</text><text x="19.3" y="362.27" text-anchor="end">76</text><text x="19.3" y="337.4" text-anchor="end">96</text><text x="23.6" y="444.7" text-anchor="middle">0</text><text x="51.17" y="444.7" text-anchor="middle">4</text><text x="78.73" y="444.7" text-anchor="middle">8</text><text x="106.3" y="444.7" text-anchor="middle">12</text><text x="133.87" y="444.7" text-anchor="middle">16</text><text x="161.43" y="444.7" text-anchor="middle">20</text><text x="189" y="444.7" text-anchor="middle">24</text><text x="106.3" y="458.6" text-anchor="middle" class="t" clip-path="url(#lc2)">Airport, Sha Chau</text></g>
<path d="M216.6 409.5H382M216.6 384.5H382M216.6 359.5H382M216.6 334.5H382" stroke="#000" stroke-width="1" stroke-dasharray="1.3 1.77"/>
<path d="M244.17 316V434M271.73 316V434M299.3 316V434M326.87 316V434M354.43 316V434" stroke="#000" stroke-width="1" stroke-dasharray="1 2.07"/>
<path d="M216.6 434.5h5.5M382 434.5h-5.5M216.6 421.5h4.2M382 421.5h-4.2M216.6 409.5h5.5M382 409.5h-5.5M216.6 396.5h4.2M382 396.5h-4.2M216.6 384.5h5.5M382 384.5h-5.5M216.6 371.5h4.2M382 371.5h-4.2M216.6 359.5h5.5M382 359.5h-5.5M216.6 346.5h4.2M382 346.5h-4.2M216.6 334.5h5.5M382 334.5h-5.5M216.6 322.5h4.2M382 322.5h-4.2M216.6 434v-5M216.6 316v5M230.38 434v-3.8M230.38 316v3.8M244.17 434v-5M244.17 316v5M257.95 434v-3.8M257.95 316v3.8M271.73 434v-5M271.73 316v5M285.52 434v-3.8M285.52 316v3.8M299.3 434v-5M299.3 316v5M313.08 434v-3.8M313.08 316v3.8M326.87 434v-5M326.87 316v5M340.65 434v-3.8M340.65 316v3.8M354.43 434v-5M354.43 316v5M368.22 434v-3.8M368.22 316v3.8M382 434v-5M382 316v5" stroke="#000000" stroke-width="1"/>
<g clip-path="url(#cp21)" fill="none">
<path d="M216.6 403.4 223.5 403.4 230.4 403.4 237.3 403.4 244.2 403 251.1 401.7 257.9 400.4 264.8 398.4 271.7 396 278.6 393.5 285.5 391.5 292.4 389.4 299.3 388.3 306.2 385.3 313.1 382.3 320 380 326.9 377.1 333.8 374.6 340.6 372.1 347.5 370.5 354.4 369.2 361.3 368 368.2 366.9 375.1 365.2 382 363.1M213.7 403.4h5.8M216.6 400.5v5.8M214.3 401.1l4.6 4.6m0 -4.6l-4.6 4.6M220.6 403.4h5.8M223.5 400.5v5.8M221.2 401.1l4.6 4.6m0 -4.6l-4.6 4.6M227.5 403.4h5.8M230.4 400.5v5.8M228.1 401.1l4.6 4.6m0 -4.6l-4.6 4.6M234.4 403.4h5.8M237.3 400.5v5.8M235 401.1l4.6 4.6m0 -4.6l-4.6 4.6M241.3 403h5.8M244.2 400.1v5.8M241.9 400.7l4.6 4.6m0 -4.6l-4.6 4.6M248.2 401.7h5.8M251.1 398.8v5.8M248.8 399.4l4.6 4.6m0 -4.6l-4.6 4.6M255 400.4h5.8M257.9 397.5v5.8M255.6 398.1l4.6 4.6m0 -4.6l-4.6 4.6M261.9 398.4h5.8M264.8 395.5v5.8M262.5 396.1l4.6 4.6m0 -4.6l-4.6 4.6M268.8 396h5.8M271.7 393.1v5.8M269.4 393.7l4.6 4.6m0 -4.6l-4.6 4.6M275.7 393.5h5.8M278.6 390.6v5.8M276.3 391.2l4.6 4.6m0 -4.6l-4.6 4.6M282.6 391.5h5.8M285.5 388.6v5.8M283.2 389.2l4.6 4.6m0 -4.6l-4.6 4.6M289.5 389.4h5.8M292.4 386.5v5.8M290.1 387.1l4.6 4.6m0 -4.6l-4.6 4.6M296.4 388.3h5.8M299.3 385.4v5.8M297 386l4.6 4.6m0 -4.6l-4.6 4.6M303.3 385.3h5.8M306.2 382.4v5.8M303.9 383l4.6 4.6m0 -4.6l-4.6 4.6M310.2 382.3h5.8M313.1 379.4v5.8M310.8 380l4.6 4.6m0 -4.6l-4.6 4.6M317.1 380h5.8M320 377.1v5.8M317.7 377.7l4.6 4.6m0 -4.6l-4.6 4.6M324 377.1h5.8M326.9 374.2v5.8M324.6 374.8l4.6 4.6m0 -4.6l-4.6 4.6M330.9 374.6h5.8M333.8 371.7v5.8M331.5 372.3l4.6 4.6m0 -4.6l-4.6 4.6M337.8 372.1h5.8M340.6 369.2v5.8M338.3 369.8l4.6 4.6m0 -4.6l-4.6 4.6M344.6 370.5h5.8M347.5 367.6v5.8M345.2 368.2l4.6 4.6m0 -4.6l-4.6 4.6M351.5 369.2h5.8M354.4 366.3v5.8M352.1 366.9l4.6 4.6m0 -4.6l-4.6 4.6M358.4 368h5.8M361.3 365.1v5.8M359 365.7l4.6 4.6m0 -4.6l-4.6 4.6M365.3 366.9h5.8M368.2 364v5.8M365.9 364.6l4.6 4.6m0 -4.6l-4.6 4.6M372.2 365.2h5.8M375.1 362.3v5.8M372.8 362.9l4.6 4.6m0 -4.6l-4.6 4.6M379.1 363.1h5.8M382 360.2v5.8M379.7 360.8l4.6 4.6m0 -4.6l-4.6 4.6" stroke="#00ffff" stroke-width="1.1"/>
<path d="M216.6 363.1 223.5 361.5 230.4 360.3 237.3 359 244.2 357.7 251.1 358.2 257.9 356 264.8 356.5 271.7 357.7 278.6 359.8 285.5 361.5 292.4 363.9 299.3 365.4 306.2 368.5 313.1 371.3 320 374.6 326.9 377.9 333.8 382.8 340.6 386.9 347.5 391 354.4 393.2 361.3 395.1 368.2 397.6 375.1 399.2 382 400.9M213.7 363.1h5.8M216.6 360.2v5.8M214.3 360.8l4.6 4.6m0 -4.6l-4.6 4.6M220.6 361.5h5.8M223.5 358.6v5.8M221.2 359.2l4.6 4.6m0 -4.6l-4.6 4.6M227.5 360.3h5.8M230.4 357.4v5.8M228.1 358l4.6 4.6m0 -4.6l-4.6 4.6M234.4 359h5.8M237.3 356.1v5.8M235 356.7l4.6 4.6m0 -4.6l-4.6 4.6M241.3 357.7h5.8M244.2 354.8v5.8M241.9 355.4l4.6 4.6m0 -4.6l-4.6 4.6M248.2 358.2h5.8M251.1 355.3v5.8M248.8 355.9l4.6 4.6m0 -4.6l-4.6 4.6M255 356h5.8M257.9 353.1v5.8M255.6 353.7l4.6 4.6m0 -4.6l-4.6 4.6M261.9 356.5h5.8M264.8 353.6v5.8M262.5 354.2l4.6 4.6m0 -4.6l-4.6 4.6M268.8 357.7h5.8M271.7 354.8v5.8M269.4 355.4l4.6 4.6m0 -4.6l-4.6 4.6M275.7 359.8h5.8M278.6 356.9v5.8M276.3 357.5l4.6 4.6m0 -4.6l-4.6 4.6M282.6 361.5h5.8M285.5 358.6v5.8M283.2 359.2l4.6 4.6m0 -4.6l-4.6 4.6M289.5 363.9h5.8M292.4 361v5.8M290.1 361.6l4.6 4.6m0 -4.6l-4.6 4.6M296.4 365.4h5.8M299.3 362.5v5.8M297 363.1l4.6 4.6m0 -4.6l-4.6 4.6M303.3 368.5h5.8M306.2 365.6v5.8M303.9 366.2l4.6 4.6m0 -4.6l-4.6 4.6M310.2 371.3h5.8M313.1 368.4v5.8M310.8 369l4.6 4.6m0 -4.6l-4.6 4.6M317.1 374.6h5.8M320 371.7v5.8M317.7 372.3l4.6 4.6m0 -4.6l-4.6 4.6M324 377.9h5.8M326.9 375v5.8M324.6 375.6l4.6 4.6m0 -4.6l-4.6 4.6M330.9 382.8h5.8M333.8 379.9v5.8M331.5 380.5l4.6 4.6m0 -4.6l-4.6 4.6M337.8 386.9h5.8M340.6 384v5.8M338.3 384.6l4.6 4.6m0 -4.6l-4.6 4.6M344.6 391h5.8M347.5 388.1v5.8M345.2 388.7l4.6 4.6m0 -4.6l-4.6 4.6M351.5 393.2h5.8M354.4 390.3v5.8M352.1 390.9l4.6 4.6m0 -4.6l-4.6 4.6M358.4 395.1h5.8M361.3 392.2v5.8M359 392.8l4.6 4.6m0 -4.6l-4.6 4.6M365.3 397.6h5.8M368.2 394.7v5.8M365.9 395.3l4.6 4.6m0 -4.6l-4.6 4.6M372.2 399.2h5.8M375.1 396.3v5.8M372.8 396.9l4.6 4.6m0 -4.6l-4.6 4.6M379.1 400.9h5.8M382 398v5.8M379.7 398.6l4.6 4.6m0 -4.6l-4.6 4.6" stroke="#00ff00" stroke-width="1.1"/>
<path d="M216.6 401.7 223.5 405 230.4 406.3 237.3 408 244.2 409.6 251.1 410.7 257.9 411.6 264.8 411.9 271.7 412.4 278.6 412.4 285.5 411.9 292.4 411.2 299.3 411 306.2 410.3 313.1 409.9 320 409.1 326.9 408.3 333.8 406.6 340.6 405.8 347.5 405.3 354.4 405.3 361.3 405 368.2 404.2 375.1 403.7 382 403.4M213.7 401.7h5.8M216.6 398.8v5.8M214.3 399.4l4.6 4.6m0 -4.6l-4.6 4.6M220.6 405h5.8M223.5 402.1v5.8M221.2 402.7l4.6 4.6m0 -4.6l-4.6 4.6M227.5 406.3h5.8M230.4 403.4v5.8M228.1 404l4.6 4.6m0 -4.6l-4.6 4.6M234.4 408h5.8M237.3 405.1v5.8M235 405.7l4.6 4.6m0 -4.6l-4.6 4.6M241.3 409.6h5.8M244.2 406.7v5.8M241.9 407.3l4.6 4.6m0 -4.6l-4.6 4.6M248.2 410.7h5.8M251.1 407.8v5.8M248.8 408.4l4.6 4.6m0 -4.6l-4.6 4.6M255 411.6h5.8M257.9 408.7v5.8M255.6 409.3l4.6 4.6m0 -4.6l-4.6 4.6M261.9 411.9h5.8M264.8 409v5.8M262.5 409.6l4.6 4.6m0 -4.6l-4.6 4.6M268.8 412.4h5.8M271.7 409.5v5.8M269.4 410.1l4.6 4.6m0 -4.6l-4.6 4.6M275.7 412.4h5.8M278.6 409.5v5.8M276.3 410.1l4.6 4.6m0 -4.6l-4.6 4.6M282.6 411.9h5.8M285.5 409v5.8M283.2 409.6l4.6 4.6m0 -4.6l-4.6 4.6M289.5 411.2h5.8M292.4 408.3v5.8M290.1 408.9l4.6 4.6m0 -4.6l-4.6 4.6M296.4 411h5.8M299.3 408.1v5.8M297 408.7l4.6 4.6m0 -4.6l-4.6 4.6M303.3 410.3h5.8M306.2 407.4v5.8M303.9 408l4.6 4.6m0 -4.6l-4.6 4.6M310.2 409.9h5.8M313.1 407v5.8M310.8 407.6l4.6 4.6m0 -4.6l-4.6 4.6M317.1 409.1h5.8M320 406.2v5.8M317.7 406.8l4.6 4.6m0 -4.6l-4.6 4.6M324 408.3h5.8M326.9 405.4v5.8M324.6 406l4.6 4.6m0 -4.6l-4.6 4.6M330.9 406.6h5.8M333.8 403.7v5.8M331.5 404.3l4.6 4.6m0 -4.6l-4.6 4.6M337.8 405.8h5.8M340.6 402.9v5.8M338.3 403.5l4.6 4.6m0 -4.6l-4.6 4.6M344.6 405.3h5.8M347.5 402.4v5.8M345.2 403l4.6 4.6m0 -4.6l-4.6 4.6M351.5 405.3h5.8M354.4 402.4v5.8M352.1 403l4.6 4.6m0 -4.6l-4.6 4.6M358.4 405h5.8M361.3 402.1v5.8M359 402.7l4.6 4.6m0 -4.6l-4.6 4.6M365.3 404.2h5.8M368.2 401.3v5.8M365.9 401.9l4.6 4.6m0 -4.6l-4.6 4.6M372.2 403.7h5.8M375.1 400.8v5.8M372.8 401.4l4.6 4.6m0 -4.6l-4.6 4.6M379.1 403.4h5.8M382 400.5v5.8M379.7 401.1l4.6 4.6m0 -4.6l-4.6 4.6" stroke="#0000ff" stroke-width="1.1"/>
<path d="M216.6 402.5 223.5 402.5 230.4 401.7 237.3 400.9 244.2 400.1 251.1 400.1 257.9 400.1 264.8 399.2 271.7 398.8 278.6 399.2 285.5 400.9 292.4 403 299.3 404 306.2 405.3 313.1 406.6 320 407.5 326.9 408.3 333.8 410.7 340.6 412.4 347.5 414 354.4 414.5 361.3 415.2 368.2 415.7 375.1 416.2 382 416.8M213.7 402.5h5.8M216.6 399.6v5.8M214.3 400.2l4.6 4.6m0 -4.6l-4.6 4.6M220.6 402.5h5.8M223.5 399.6v5.8M221.2 400.2l4.6 4.6m0 -4.6l-4.6 4.6M227.5 401.7h5.8M230.4 398.8v5.8M228.1 399.4l4.6 4.6m0 -4.6l-4.6 4.6M234.4 400.9h5.8M237.3 398v5.8M235 398.6l4.6 4.6m0 -4.6l-4.6 4.6M241.3 400.1h5.8M244.2 397.2v5.8M241.9 397.8l4.6 4.6m0 -4.6l-4.6 4.6M248.2 400.1h5.8M251.1 397.2v5.8M248.8 397.8l4.6 4.6m0 -4.6l-4.6 4.6M255 400.1h5.8M257.9 397.2v5.8M255.6 397.8l4.6 4.6m0 -4.6l-4.6 4.6M261.9 399.2h5.8M264.8 396.3v5.8M262.5 396.9l4.6 4.6m0 -4.6l-4.6 4.6M268.8 398.8h5.8M271.7 395.9v5.8M269.4 396.5l4.6 4.6m0 -4.6l-4.6 4.6M275.7 399.2h5.8M278.6 396.3v5.8M276.3 396.9l4.6 4.6m0 -4.6l-4.6 4.6M282.6 400.9h5.8M285.5 398v5.8M283.2 398.6l4.6 4.6m0 -4.6l-4.6 4.6M289.5 403h5.8M292.4 400.1v5.8M290.1 400.7l4.6 4.6m0 -4.6l-4.6 4.6M296.4 404h5.8M299.3 401.1v5.8M297 401.7l4.6 4.6m0 -4.6l-4.6 4.6M303.3 405.3h5.8M306.2 402.4v5.8M303.9 403l4.6 4.6m0 -4.6l-4.6 4.6M310.2 406.6h5.8M313.1 403.7v5.8M310.8 404.3l4.6 4.6m0 -4.6l-4.6 4.6M317.1 407.5h5.8M320 404.6v5.8M317.7 405.2l4.6 4.6m0 -4.6l-4.6 4.6M324 408.3h5.8M326.9 405.4v5.8M324.6 406l4.6 4.6m0 -4.6l-4.6 4.6M330.9 410.7h5.8M333.8 407.8v5.8M331.5 408.4l4.6 4.6m0 -4.6l-4.6 4.6M337.8 412.4h5.8M340.6 409.5v5.8M338.3 410.1l4.6 4.6m0 -4.6l-4.6 4.6M344.6 414h5.8M347.5 411.1v5.8M345.2 411.7l4.6 4.6m0 -4.6l-4.6 4.6M351.5 414.5h5.8M354.4 411.6v5.8M352.1 412.2l4.6 4.6m0 -4.6l-4.6 4.6M358.4 415.2h5.8M361.3 412.3v5.8M359 412.9l4.6 4.6m0 -4.6l-4.6 4.6M365.3 415.7h5.8M368.2 412.8v5.8M365.9 413.4l4.6 4.6m0 -4.6l-4.6 4.6M372.2 416.2h5.8M375.1 413.3v5.8M372.8 413.9l4.6 4.6m0 -4.6l-4.6 4.6M379.1 416.8h5.8M382 413.9v5.8M379.7 414.5l4.6 4.6m0 -4.6l-4.6 4.6" stroke="#ff0000" stroke-width="1.1"/>
</g>
<path d="M216.1 316H383M216.1 434H383M382 316V434" stroke="#000000" stroke-width="2" fill="none"/>
<path d="M216.6 316V434" stroke="#000000" stroke-width="1.1" fill="none"/>
<g fill="#000000"><text x="212.3" y="436.9" text-anchor="end">16</text><text x="212.3" y="412.02" text-anchor="end">36</text><text x="212.3" y="387.15" text-anchor="end">56</text><text x="212.3" y="362.27" text-anchor="end">76</text><text x="212.3" y="337.4" text-anchor="end">96</text><text x="216.6" y="444.7" text-anchor="middle">0</text><text x="244.17" y="444.7" text-anchor="middle">4</text><text x="271.73" y="444.7" text-anchor="middle">8</text><text x="299.3" y="444.7" text-anchor="middle">12</text><text x="326.87" y="444.7" text-anchor="middle">16</text><text x="354.43" y="444.7" text-anchor="middle">20</text><text x="382" y="444.7" text-anchor="middle">24</text><text x="299.3" y="458.6" text-anchor="middle" class="t" clip-path="url(#lc2)">Kwai Chung</text></g>
<path d="M409.6 409.5H575M409.6 384.5H575M409.6 359.5H575M409.6 334.5H575" stroke="#000" stroke-width="1" stroke-dasharray="1.3 1.77"/>
<path d="M437.17 316V434M464.73 316V434M492.3 316V434M519.87 316V434M547.43 316V434" stroke="#000" stroke-width="1" stroke-dasharray="1 2.07"/>
<path d="M409.6 434.5h5.5M575 434.5h-5.5M409.6 421.5h4.2M575 421.5h-4.2M409.6 409.5h5.5M575 409.5h-5.5M409.6 396.5h4.2M575 396.5h-4.2M409.6 384.5h5.5M575 384.5h-5.5M409.6 371.5h4.2M575 371.5h-4.2M409.6 359.5h5.5M575 359.5h-5.5M409.6 346.5h4.2M575 346.5h-4.2M409.6 334.5h5.5M575 334.5h-5.5M409.6 322.5h4.2M575 322.5h-4.2M409.6 434v-5M409.6 316v5M423.38 434v-3.8M423.38 316v3.8M437.17 434v-5M437.17 316v5M450.95 434v-3.8M450.95 316v3.8M464.73 434v-5M464.73 316v5M478.52 434v-3.8M478.52 316v3.8M492.3 434v-5M492.3 316v5M506.08 434v-3.8M506.08 316v3.8M519.87 434v-5M519.87 316v5M533.65 434v-3.8M533.65 316v3.8M547.43 434v-5M547.43 316v5M561.22 434v-3.8M561.22 316v3.8M575 434v-5M575 316v5" stroke="#ff0000" stroke-width="1"/>
<g clip-path="url(#cp22)" fill="none">
<path d="M409.6 362 416.5 361 423.4 359.8 430.3 358.7 437.2 357.4 444.1 355.4 451 352.4 457.8 349.5 464.7 346.7 471.6 343.9 478.5 341.7 485.4 340.1 492.3 337.5 499.2 335.7 506.1 333 513 331.4 519.9 329.4 526.8 327.8 533.7 326.5 540.5 325.8 547.4 325.3 554.3 324.8 561.2 324.2 568.1 323.7 575 323.7M406.7 362h5.8M409.6 359.1v5.8M407.3 359.7l4.6 4.6m0 -4.6l-4.6 4.6M413.6 361h5.8M416.5 358.1v5.8M414.2 358.7l4.6 4.6m0 -4.6l-4.6 4.6M420.5 359.8h5.8M423.4 356.9v5.8M421.1 357.5l4.6 4.6m0 -4.6l-4.6 4.6M427.4 358.7h5.8M430.3 355.8v5.8M428 356.4l4.6 4.6m0 -4.6l-4.6 4.6M434.3 357.4h5.8M437.2 354.5v5.8M434.9 355.1l4.6 4.6m0 -4.6l-4.6 4.6M441.2 355.4h5.8M444.1 352.5v5.8M441.8 353.1l4.6 4.6m0 -4.6l-4.6 4.6M448.1 352.4h5.8M451 349.5v5.8M448.7 350.1l4.6 4.6m0 -4.6l-4.6 4.6M454.9 349.5h5.8M457.8 346.6v5.8M455.5 347.2l4.6 4.6m0 -4.6l-4.6 4.6M461.8 346.7h5.8M464.7 343.8v5.8M462.4 344.4l4.6 4.6m0 -4.6l-4.6 4.6M468.7 343.9h5.8M471.6 341v5.8M469.3 341.6l4.6 4.6m0 -4.6l-4.6 4.6M475.6 341.7h5.8M478.5 338.8v5.8M476.2 339.4l4.6 4.6m0 -4.6l-4.6 4.6M482.5 340.1h5.8M485.4 337.2v5.8M483.1 337.8l4.6 4.6m0 -4.6l-4.6 4.6M489.4 337.5h5.8M492.3 334.6v5.8M490 335.2l4.6 4.6m0 -4.6l-4.6 4.6M496.3 335.7h5.8M499.2 332.8v5.8M496.9 333.4l4.6 4.6m0 -4.6l-4.6 4.6M503.2 333h5.8M506.1 330.1v5.8M503.8 330.7l4.6 4.6m0 -4.6l-4.6 4.6M510.1 331.4h5.8M513 328.5v5.8M510.7 329.1l4.6 4.6m0 -4.6l-4.6 4.6M517 329.4h5.8M519.9 326.5v5.8M517.6 327.1l4.6 4.6m0 -4.6l-4.6 4.6M523.9 327.8h5.8M526.8 324.9v5.8M524.5 325.5l4.6 4.6m0 -4.6l-4.6 4.6M530.8 326.5h5.8M533.7 323.6v5.8M531.4 324.2l4.6 4.6m0 -4.6l-4.6 4.6M537.6 325.8h5.8M540.5 322.9v5.8M538.2 323.5l4.6 4.6m0 -4.6l-4.6 4.6M544.5 325.3h5.8M547.4 322.4v5.8M545.1 323l4.6 4.6m0 -4.6l-4.6 4.6M551.4 324.8h5.8M554.3 321.9v5.8M552 322.5l4.6 4.6m0 -4.6l-4.6 4.6M558.3 324.2h5.8M561.2 321.3v5.8M558.9 321.9l4.6 4.6m0 -4.6l-4.6 4.6M565.2 323.7h5.8M568.1 320.8v5.8M565.8 321.4l4.6 4.6m0 -4.6l-4.6 4.6M572.1 323.7h5.8M575 320.8v5.8M572.7 321.4l4.6 4.6m0 -4.6l-4.6 4.6" stroke="#00ffff" stroke-width="1.1"/>
<path d="M409.6 323.7 416.5 324.2 423.4 324.5 430.3 324.5 437.2 324.5 444.1 325.3 451 326.1 457.8 327 464.7 328.1 471.6 328.6 478.5 329.1 485.4 329.8 492.3 330.9 499.2 333 506.1 335.7 513 339.6 519.9 343.9 526.8 350.5 533.7 356 540.5 362 547.4 365.6 554.3 369.2 561.2 371.8 568.1 373 575 373.5M406.7 323.7h5.8M409.6 320.8v5.8M407.3 321.4l4.6 4.6m0 -4.6l-4.6 4.6M413.6 324.2h5.8M416.5 321.3v5.8M414.2 321.9l4.6 4.6m0 -4.6l-4.6 4.6M420.5 324.5h5.8M423.4 321.6v5.8M421.1 322.2l4.6 4.6m0 -4.6l-4.6 4.6M427.4 324.5h5.8M430.3 321.6v5.8M428 322.2l4.6 4.6m0 -4.6l-4.6 4.6M434.3 324.5h5.8M437.2 321.6v5.8M434.9 322.2l4.6 4.6m0 -4.6l-4.6 4.6M441.2 325.3h5.8M444.1 322.4v5.8M441.8 323l4.6 4.6m0 -4.6l-4.6 4.6M448.1 326.1h5.8M451 323.2v5.8M448.7 323.8l4.6 4.6m0 -4.6l-4.6 4.6M454.9 327h5.8M457.8 324.1v5.8M455.5 324.7l4.6 4.6m0 -4.6l-4.6 4.6M461.8 328.1h5.8M464.7 325.2v5.8M462.4 325.8l4.6 4.6m0 -4.6l-4.6 4.6M468.7 328.6h5.8M471.6 325.7v5.8M469.3 326.3l4.6 4.6m0 -4.6l-4.6 4.6M475.6 329.1h5.8M478.5 326.2v5.8M476.2 326.8l4.6 4.6m0 -4.6l-4.6 4.6M482.5 329.8h5.8M485.4 326.9v5.8M483.1 327.5l4.6 4.6m0 -4.6l-4.6 4.6M489.4 330.9h5.8M492.3 328v5.8M490 328.6l4.6 4.6m0 -4.6l-4.6 4.6M496.3 333h5.8M499.2 330.1v5.8M496.9 330.7l4.6 4.6m0 -4.6l-4.6 4.6M503.2 335.7h5.8M506.1 332.8v5.8M503.8 333.4l4.6 4.6m0 -4.6l-4.6 4.6M510.1 339.6h5.8M513 336.7v5.8M510.7 337.3l4.6 4.6m0 -4.6l-4.6 4.6M517 343.9h5.8M519.9 341v5.8M517.6 341.6l4.6 4.6m0 -4.6l-4.6 4.6M523.9 350.5h5.8M526.8 347.6v5.8M524.5 348.2l4.6 4.6m0 -4.6l-4.6 4.6M530.8 356h5.8M533.7 353.1v5.8M531.4 353.7l4.6 4.6m0 -4.6l-4.6 4.6M537.6 362h5.8M540.5 359.1v5.8M538.2 359.7l4.6 4.6m0 -4.6l-4.6 4.6M544.5 365.6h5.8M547.4 362.7v5.8M545.1 363.3l4.6 4.6m0 -4.6l-4.6 4.6M551.4 369.2h5.8M554.3 366.3v5.8M552 366.9l4.6 4.6m0 -4.6l-4.6 4.6M558.3 371.8h5.8M561.2 368.9v5.8M558.9 369.5l4.6 4.6m0 -4.6l-4.6 4.6M565.2 373h5.8M568.1 370.1v5.8M565.8 370.7l4.6 4.6m0 -4.6l-4.6 4.6M572.1 373.5h5.8M575 370.6v5.8M572.7 371.2l4.6 4.6m0 -4.6l-4.6 4.6" stroke="#00ff00" stroke-width="1.1"/>
<path d="M409.6 375.8 416.5 377.4 423.4 377.9 430.3 378.4 437.2 379 444.1 379.5 451 380 457.8 380.4 464.7 380.7 471.6 380.7 478.5 380.7 485.4 380.7 492.3 381.2 499.2 381.7 506.1 382 513 381.7 519.9 380.4 526.8 379.5 533.7 378.7 540.5 377.9 547.4 377.1 554.3 376.7 561.2 376.2 568.1 375.4 575 375.1M406.7 375.8h5.8M409.6 372.9v5.8M407.3 373.5l4.6 4.6m0 -4.6l-4.6 4.6M413.6 377.4h5.8M416.5 374.5v5.8M414.2 375.1l4.6 4.6m0 -4.6l-4.6 4.6M420.5 377.9h5.8M423.4 375v5.8M421.1 375.6l4.6 4.6m0 -4.6l-4.6 4.6M427.4 378.4h5.8M430.3 375.5v5.8M428 376.1l4.6 4.6m0 -4.6l-4.6 4.6M434.3 379h5.8M437.2 376.1v5.8M434.9 376.7l4.6 4.6m0 -4.6l-4.6 4.6M441.2 379.5h5.8M444.1 376.6v5.8M441.8 377.2l4.6 4.6m0 -4.6l-4.6 4.6M448.1 380h5.8M451 377.1v5.8M448.7 377.7l4.6 4.6m0 -4.6l-4.6 4.6M454.9 380.4h5.8M457.8 377.5v5.8M455.5 378.1l4.6 4.6m0 -4.6l-4.6 4.6M461.8 380.7h5.8M464.7 377.8v5.8M462.4 378.4l4.6 4.6m0 -4.6l-4.6 4.6M468.7 380.7h5.8M471.6 377.8v5.8M469.3 378.4l4.6 4.6m0 -4.6l-4.6 4.6M475.6 380.7h5.8M478.5 377.8v5.8M476.2 378.4l4.6 4.6m0 -4.6l-4.6 4.6M482.5 380.7h5.8M485.4 377.8v5.8M483.1 378.4l4.6 4.6m0 -4.6l-4.6 4.6M489.4 381.2h5.8M492.3 378.3v5.8M490 378.9l4.6 4.6m0 -4.6l-4.6 4.6M496.3 381.7h5.8M499.2 378.8v5.8M496.9 379.4l4.6 4.6m0 -4.6l-4.6 4.6M503.2 382h5.8M506.1 379.1v5.8M503.8 379.7l4.6 4.6m0 -4.6l-4.6 4.6M510.1 381.7h5.8M513 378.8v5.8M510.7 379.4l4.6 4.6m0 -4.6l-4.6 4.6M517 380.4h5.8M519.9 377.5v5.8M517.6 378.1l4.6 4.6m0 -4.6l-4.6 4.6M523.9 379.5h5.8M526.8 376.6v5.8M524.5 377.2l4.6 4.6m0 -4.6l-4.6 4.6M530.8 378.7h5.8M533.7 375.8v5.8M531.4 376.4l4.6 4.6m0 -4.6l-4.6 4.6M537.6 377.9h5.8M540.5 375v5.8M538.2 375.6l4.6 4.6m0 -4.6l-4.6 4.6M544.5 377.1h5.8M547.4 374.2v5.8M545.1 374.8l4.6 4.6m0 -4.6l-4.6 4.6M551.4 376.7h5.8M554.3 373.8v5.8M552 374.4l4.6 4.6m0 -4.6l-4.6 4.6M558.3 376.2h5.8M561.2 373.3v5.8M558.9 373.9l4.6 4.6m0 -4.6l-4.6 4.6M565.2 375.4h5.8M568.1 372.5v5.8M565.8 373.1l4.6 4.6m0 -4.6l-4.6 4.6M572.1 375.1h5.8M575 372.2v5.8M572.7 372.8l4.6 4.6m0 -4.6l-4.6 4.6" stroke="#0000ff" stroke-width="1.1"/>
<path d="M409.6 374.6 416.5 374.6 423.4 373.8 430.3 373 437.2 371.8 444.1 371.8 451 371.3 457.8 371.3 464.7 371.3 471.6 373 478.5 374.6 485.4 376.2 492.3 378.2 499.2 380 506.1 381.2 513 382 519.9 383.3 526.8 383.6 533.7 383.3 540.5 382.8 547.4 382 554.3 381.7 561.2 382 568.1 382.8 575 383.6M406.7 374.6h5.8M409.6 371.7v5.8M407.3 372.3l4.6 4.6m0 -4.6l-4.6 4.6M413.6 374.6h5.8M416.5 371.7v5.8M414.2 372.3l4.6 4.6m0 -4.6l-4.6 4.6M420.5 373.8h5.8M423.4 370.9v5.8M421.1 371.5l4.6 4.6m0 -4.6l-4.6 4.6M427.4 373h5.8M430.3 370.1v5.8M428 370.7l4.6 4.6m0 -4.6l-4.6 4.6M434.3 371.8h5.8M437.2 368.9v5.8M434.9 369.5l4.6 4.6m0 -4.6l-4.6 4.6M441.2 371.8h5.8M444.1 368.9v5.8M441.8 369.5l4.6 4.6m0 -4.6l-4.6 4.6M448.1 371.3h5.8M451 368.4v5.8M448.7 369l4.6 4.6m0 -4.6l-4.6 4.6M454.9 371.3h5.8M457.8 368.4v5.8M455.5 369l4.6 4.6m0 -4.6l-4.6 4.6M461.8 371.3h5.8M464.7 368.4v5.8M462.4 369l4.6 4.6m0 -4.6l-4.6 4.6M468.7 373h5.8M471.6 370.1v5.8M469.3 370.7l4.6 4.6m0 -4.6l-4.6 4.6M475.6 374.6h5.8M478.5 371.7v5.8M476.2 372.3l4.6 4.6m0 -4.6l-4.6 4.6M482.5 376.2h5.8M485.4 373.3v5.8M483.1 373.9l4.6 4.6m0 -4.6l-4.6 4.6M489.4 378.2h5.8M492.3 375.3v5.8M490 375.9l4.6 4.6m0 -4.6l-4.6 4.6M496.3 380h5.8M499.2 377.1v5.8M496.9 377.7l4.6 4.6m0 -4.6l-4.6 4.6M503.2 381.2h5.8M506.1 378.3v5.8M503.8 378.9l4.6 4.6m0 -4.6l-4.6 4.6M510.1 382h5.8M513 379.1v5.8M510.7 379.7l4.6 4.6m0 -4.6l-4.6 4.6M517 383.3h5.8M519.9 380.4v5.8M517.6 381l4.6 4.6m0 -4.6l-4.6 4.6M523.9 383.6h5.8M526.8 380.7v5.8M524.5 381.3l4.6 4.6m0 -4.6l-4.6 4.6M530.8 383.3h5.8M533.7 380.4v5.8M531.4 381l4.6 4.6m0 -4.6l-4.6 4.6M537.6 382.8h5.8M540.5 379.9v5.8M538.2 380.5l4.6 4.6m0 -4.6l-4.6 4.6M544.5 382h5.8M547.4 379.1v5.8M545.1 379.7l4.6 4.6m0 -4.6l-4.6 4.6M551.4 381.7h5.8M554.3 378.8v5.8M552 379.4l4.6 4.6m0 -4.6l-4.6 4.6M558.3 382h5.8M561.2 379.1v5.8M558.9 379.7l4.6 4.6m0 -4.6l-4.6 4.6M565.2 382.8h5.8M568.1 379.9v5.8M565.8 380.5l4.6 4.6m0 -4.6l-4.6 4.6M572.1 383.6h5.8M575 380.7v5.8M572.7 381.3l4.6 4.6m0 -4.6l-4.6 4.6" stroke="#ff0000" stroke-width="1.1"/>
</g>
<path d="M409.1 316H576M409.1 434H576M575 316V434" stroke="#ff0000" stroke-width="2" fill="none"/>
<path d="M409.6 316V434" stroke="#ff0000" stroke-width="1.1" fill="none"/>
<g fill="#ff0000"><text x="405.3" y="436.9" text-anchor="end">16</text><text x="405.3" y="412.02" text-anchor="end">36</text><text x="405.3" y="387.15" text-anchor="end">56</text><text x="405.3" y="362.27" text-anchor="end">76</text><text x="405.3" y="337.4" text-anchor="end">96</text><text x="409.6" y="444.7" text-anchor="middle">0</text><text x="437.17" y="444.7" text-anchor="middle">4</text><text x="464.73" y="444.7" text-anchor="middle">8</text><text x="492.3" y="444.7" text-anchor="middle">12</text><text x="519.87" y="444.7" text-anchor="middle">16</text><text x="547.43" y="444.7" text-anchor="middle">20</text><text x="575" y="444.7" text-anchor="middle">24</text><text x="492.3" y="458.6" text-anchor="middle" class="t" clip-path="url(#lc2)">Mong Kok</text></g>
<path d="M602.6 409.5H768M602.6 384.5H768M602.6 359.5H768M602.6 334.5H768" stroke="#000" stroke-width="1" stroke-dasharray="1.3 1.77"/>
<path d="M630.17 316V434M657.73 316V434M685.3 316V434M712.87 316V434M740.43 316V434" stroke="#000" stroke-width="1" stroke-dasharray="1 2.07"/>
<path d="M602.6 434.5h5.5M768 434.5h-5.5M602.6 421.5h4.2M768 421.5h-4.2M602.6 409.5h5.5M768 409.5h-5.5M602.6 396.5h4.2M768 396.5h-4.2M602.6 384.5h5.5M768 384.5h-5.5M602.6 371.5h4.2M768 371.5h-4.2M602.6 359.5h5.5M768 359.5h-5.5M602.6 346.5h4.2M768 346.5h-4.2M602.6 334.5h5.5M768 334.5h-5.5M602.6 322.5h4.2M768 322.5h-4.2M602.6 434v-5M602.6 316v5M616.38 434v-3.8M616.38 316v3.8M630.17 434v-5M630.17 316v5M643.95 434v-3.8M643.95 316v3.8M657.73 434v-5M657.73 316v5M671.52 434v-3.8M671.52 316v3.8M685.3 434v-5M685.3 316v5M699.08 434v-3.8M699.08 316v3.8M712.87 434v-5M712.87 316v5M726.65 434v-3.8M726.65 316v3.8M740.43 434v-5M740.43 316v5M754.22 434v-3.8M754.22 316v3.8M768 434v-5M768 316v5" stroke="#000000" stroke-width="1"/>
<g clip-path="url(#cp23)" fill="none">
<path d="M602.6 416.5 609.5 416.5 616.4 416.5 623.3 416.2 630.2 415.7 637.1 414.9 644 413.2 650.8 411.6 657.7 409.1 664.6 407 671.5 404.2 678.4 400.9 685.3 397.8 692.2 394.8 699.1 391.9 706 389.4 712.9 386.9 719.8 382.8 726.7 367.2 733.5 371.3 740.4 366.4 747.3 363.9 754.2 362.3 761.1 361 768 359.8M599.7 416.5h5.8M602.6 413.6v5.8M600.3 414.2l4.6 4.6m0 -4.6l-4.6 4.6M606.6 416.5h5.8M609.5 413.6v5.8M607.2 414.2l4.6 4.6m0 -4.6l-4.6 4.6M613.5 416.5h5.8M616.4 413.6v5.8M614.1 414.2l4.6 4.6m0 -4.6l-4.6 4.6M620.4 416.2h5.8M623.3 413.3v5.8M621 413.9l4.6 4.6m0 -4.6l-4.6 4.6M627.3 415.7h5.8M630.2 412.8v5.8M627.9 413.4l4.6 4.6m0 -4.6l-4.6 4.6M634.2 414.9h5.8M637.1 412v5.8M634.8 412.6l4.6 4.6m0 -4.6l-4.6 4.6M641.1 413.2h5.8M644 410.3v5.8M641.7 410.9l4.6 4.6m0 -4.6l-4.6 4.6M647.9 411.6h5.8M650.8 408.7v5.8M648.5 409.3l4.6 4.6m0 -4.6l-4.6 4.6M654.8 409.1h5.8M657.7 406.2v5.8M655.4 406.8l4.6 4.6m0 -4.6l-4.6 4.6M661.7 407h5.8M664.6 404.1v5.8M662.3 404.7l4.6 4.6m0 -4.6l-4.6 4.6M668.6 404.2h5.8M671.5 401.3v5.8M669.2 401.9l4.6 4.6m0 -4.6l-4.6 4.6M675.5 400.9h5.8M678.4 398v5.8M676.1 398.6l4.6 4.6m0 -4.6l-4.6 4.6M682.4 397.8h5.8M685.3 394.9v5.8M683 395.5l4.6 4.6m0 -4.6l-4.6 4.6M689.3 394.8h5.8M692.2 391.9v5.8M689.9 392.5l4.6 4.6m0 -4.6l-4.6 4.6M696.2 391.9h5.8M699.1 389v5.8M696.8 389.6l4.6 4.6m0 -4.6l-4.6 4.6M703.1 389.4h5.8M706 386.5v5.8M703.7 387.1l4.6 4.6m0 -4.6l-4.6 4.6M710 386.9h5.8M712.9 384v5.8M710.6 384.6l4.6 4.6m0 -4.6l-4.6 4.6M716.9 382.8h5.8M719.8 379.9v5.8M717.5 380.5l4.6 4.6m0 -4.6l-4.6 4.6M723.8 367.2h5.8M726.7 364.3v5.8M724.4 364.9l4.6 4.6m0 -4.6l-4.6 4.6M730.6 371.3h5.8M733.5 368.4v5.8M731.2 369l4.6 4.6m0 -4.6l-4.6 4.6M737.5 366.4h5.8M740.4 363.5v5.8M738.1 364.1l4.6 4.6m0 -4.6l-4.6 4.6M744.4 363.9h5.8M747.3 361v5.8M745 361.6l4.6 4.6m0 -4.6l-4.6 4.6M751.3 362.3h5.8M754.2 359.4v5.8M751.9 360l4.6 4.6m0 -4.6l-4.6 4.6M758.2 361h5.8M761.1 358.1v5.8M758.8 358.7l4.6 4.6m0 -4.6l-4.6 4.6M765.1 359.8h5.8M768 356.9v5.8M765.7 357.5l4.6 4.6m0 -4.6l-4.6 4.6" stroke="#00ffff" stroke-width="1.1"/>
<path d="M602.6 359.3 609.5 358.2 616.4 356 623.3 355.7 630.2 356 637.1 356 644 356.5 650.8 357.4 657.7 359.8 664.6 362.3 671.5 365.2 678.4 369.2 685.3 373.2 692.2 377.4 699.1 381.7 706 386.1 712.9 390.5 719.8 396.5 726.7 403 733.5 409.1 740.4 414.9 747.3 418.1 754.2 420.1 761.1 421.8 768 422.7M599.7 359.3h5.8M602.6 356.4v5.8M600.3 357l4.6 4.6m0 -4.6l-4.6 4.6M606.6 358.2h5.8M609.5 355.3v5.8M607.2 355.9l4.6 4.6m0 -4.6l-4.6 4.6M613.5 356h5.8M616.4 353.1v5.8M614.1 353.7l4.6 4.6m0 -4.6l-4.6 4.6M620.4 355.7h5.8M623.3 352.8v5.8M621 353.4l4.6 4.6m0 -4.6l-4.6 4.6M627.3 356h5.8M630.2 353.1v5.8M627.9 353.7l4.6 4.6m0 -4.6l-4.6 4.6M634.2 356h5.8M637.1 353.1v5.8M634.8 353.7l4.6 4.6m0 -4.6l-4.6 4.6M641.1 356.5h5.8M644 353.6v5.8M641.7 354.2l4.6 4.6m0 -4.6l-4.6 4.6M647.9 357.4h5.8M650.8 354.5v5.8M648.5 355.1l4.6 4.6m0 -4.6l-4.6 4.6M654.8 359.8h5.8M657.7 356.9v5.8M655.4 357.5l4.6 4.6m0 -4.6l-4.6 4.6M661.7 362.3h5.8M664.6 359.4v5.8M662.3 360l4.6 4.6m0 -4.6l-4.6 4.6M668.6 365.2h5.8M671.5 362.3v5.8M669.2 362.9l4.6 4.6m0 -4.6l-4.6 4.6M675.5 369.2h5.8M678.4 366.3v5.8M676.1 366.9l4.6 4.6m0 -4.6l-4.6 4.6M682.4 373.2h5.8M685.3 370.3v5.8M683 370.9l4.6 4.6m0 -4.6l-4.6 4.6M689.3 377.4h5.8M692.2 374.5v5.8M689.9 375.1l4.6 4.6m0 -4.6l-4.6 4.6M696.2 381.7h5.8M699.1 378.8v5.8M696.8 379.4l4.6 4.6m0 -4.6l-4.6 4.6M703.1 386.1h5.8M706 383.2v5.8M703.7 383.8l4.6 4.6m0 -4.6l-4.6 4.6M710 390.5h5.8M712.9 387.6v5.8M710.6 388.2l4.6 4.6m0 -4.6l-4.6 4.6M716.9 396.5h5.8M719.8 393.6v5.8M717.5 394.2l4.6 4.6m0 -4.6l-4.6 4.6M723.8 403h5.8M726.7 400.1v5.8M724.4 400.7l4.6 4.6m0 -4.6l-4.6 4.6M730.6 409.1h5.8M733.5 406.2v5.8M731.2 406.8l4.6 4.6m0 -4.6l-4.6 4.6M737.5 414.9h5.8M740.4 412v5.8M738.1 412.6l4.6 4.6m0 -4.6l-4.6 4.6M744.4 418.1h5.8M747.3 415.2v5.8M745 415.8l4.6 4.6m0 -4.6l-4.6 4.6M751.3 420.1h5.8M754.2 417.2v5.8M751.9 417.8l4.6 4.6m0 -4.6l-4.6 4.6M758.2 421.8h5.8M761.1 418.9v5.8M758.8 419.5l4.6 4.6m0 -4.6l-4.6 4.6M765.1 422.7h5.8M768 419.8v5.8M765.7 420.4l4.6 4.6m0 -4.6l-4.6 4.6" stroke="#00ff00" stroke-width="1.1"/>
<path d="M602.6 423.9 609.5 426 616.4 426.7 623.3 427.2 630.2 428 637.1 428.8 644 429.6 650.8 430 657.7 430 664.6 430 671.5 430 678.4 429.6 685.3 429.8 692.2 429.3 699.1 428.3 706 427.7 712.9 426.7 719.8 425.5 726.7 424.7 733.5 424.4 740.4 423.9 747.3 423.1 754.2 422.7 761.1 422.2 768 422.2M599.7 423.9h5.8M602.6 421v5.8M600.3 421.6l4.6 4.6m0 -4.6l-4.6 4.6M606.6 426h5.8M609.5 423.1v5.8M607.2 423.7l4.6 4.6m0 -4.6l-4.6 4.6M613.5 426.7h5.8M616.4 423.8v5.8M614.1 424.4l4.6 4.6m0 -4.6l-4.6 4.6M620.4 427.2h5.8M623.3 424.3v5.8M621 424.9l4.6 4.6m0 -4.6l-4.6 4.6M627.3 428h5.8M630.2 425.1v5.8M627.9 425.7l4.6 4.6m0 -4.6l-4.6 4.6M634.2 428.8h5.8M637.1 425.9v5.8M634.8 426.5l4.6 4.6m0 -4.6l-4.6 4.6M641.1 429.6h5.8M644 426.7v5.8M641.7 427.3l4.6 4.6m0 -4.6l-4.6 4.6M647.9 430h5.8M650.8 427.1v5.8M648.5 427.7l4.6 4.6m0 -4.6l-4.6 4.6M654.8 430h5.8M657.7 427.1v5.8M655.4 427.7l4.6 4.6m0 -4.6l-4.6 4.6M661.7 430h5.8M664.6 427.1v5.8M662.3 427.7l4.6 4.6m0 -4.6l-4.6 4.6M668.6 430h5.8M671.5 427.1v5.8M669.2 427.7l4.6 4.6m0 -4.6l-4.6 4.6M675.5 429.6h5.8M678.4 426.7v5.8M676.1 427.3l4.6 4.6m0 -4.6l-4.6 4.6M682.4 429.8h5.8M685.3 426.9v5.8M683 427.5l4.6 4.6m0 -4.6l-4.6 4.6M689.3 429.3h5.8M692.2 426.4v5.8M689.9 427l4.6 4.6m0 -4.6l-4.6 4.6M696.2 428.3h5.8M699.1 425.4v5.8M696.8 426l4.6 4.6m0 -4.6l-4.6 4.6M703.1 427.7h5.8M706 424.8v5.8M703.7 425.4l4.6 4.6m0 -4.6l-4.6 4.6M710 426.7h5.8M712.9 423.8v5.8M710.6 424.4l4.6 4.6m0 -4.6l-4.6 4.6M716.9 425.5h5.8M719.8 422.6v5.8M717.5 423.2l4.6 4.6m0 -4.6l-4.6 4.6M723.8 424.7h5.8M726.7 421.8v5.8M724.4 422.4l4.6 4.6m0 -4.6l-4.6 4.6M730.6 424.4h5.8M733.5 421.5v5.8M731.2 422.1l4.6 4.6m0 -4.6l-4.6 4.6M737.5 423.9h5.8M740.4 421v5.8M738.1 421.6l4.6 4.6m0 -4.6l-4.6 4.6M744.4 423.1h5.8M747.3 420.2v5.8M745 420.8l4.6 4.6m0 -4.6l-4.6 4.6M751.3 422.7h5.8M754.2 419.8v5.8M751.9 420.4l4.6 4.6m0 -4.6l-4.6 4.6M758.2 422.2h5.8M761.1 419.3v5.8M758.8 419.9l4.6 4.6m0 -4.6l-4.6 4.6M765.1 422.2h5.8M768 419.3v5.8M765.7 419.9l4.6 4.6m0 -4.6l-4.6 4.6" stroke="#0000ff" stroke-width="1.1"/>
<path d="M602.6 422.2 609.5 421.4 616.4 421.1 623.3 420.6 630.2 420.6 637.1 420.6 644 420.6 650.8 420.6 657.7 420.6 664.6 421.1 671.5 421.4 678.4 421.8 685.3 422.2 692.2 423.4 699.1 423.9 706 425 712.9 426 719.8 427.2 726.7 428 733.5 428.3 740.4 428.8 747.3 429.6 754.2 430 761.1 430.5 768 431M599.7 422.2h5.8M602.6 419.3v5.8M600.3 419.9l4.6 4.6m0 -4.6l-4.6 4.6M606.6 421.4h5.8M609.5 418.5v5.8M607.2 419.1l4.6 4.6m0 -4.6l-4.6 4.6M613.5 421.1h5.8M616.4 418.2v5.8M614.1 418.8l4.6 4.6m0 -4.6l-4.6 4.6M620.4 420.6h5.8M623.3 417.7v5.8M621 418.3l4.6 4.6m0 -4.6l-4.6 4.6M627.3 420.6h5.8M630.2 417.7v5.8M627.9 418.3l4.6 4.6m0 -4.6l-4.6 4.6M634.2 420.6h5.8M637.1 417.7v5.8M634.8 418.3l4.6 4.6m0 -4.6l-4.6 4.6M641.1 420.6h5.8M644 417.7v5.8M641.7 418.3l4.6 4.6m0 -4.6l-4.6 4.6M647.9 420.6h5.8M650.8 417.7v5.8M648.5 418.3l4.6 4.6m0 -4.6l-4.6 4.6M654.8 420.6h5.8M657.7 417.7v5.8M655.4 418.3l4.6 4.6m0 -4.6l-4.6 4.6M661.7 421.1h5.8M664.6 418.2v5.8M662.3 418.8l4.6 4.6m0 -4.6l-4.6 4.6M668.6 421.4h5.8M671.5 418.5v5.8M669.2 419.1l4.6 4.6m0 -4.6l-4.6 4.6M675.5 421.8h5.8M678.4 418.9v5.8M676.1 419.5l4.6 4.6m0 -4.6l-4.6 4.6M682.4 422.2h5.8M685.3 419.3v5.8M683 419.9l4.6 4.6m0 -4.6l-4.6 4.6M689.3 423.4h5.8M692.2 420.5v5.8M689.9 421.1l4.6 4.6m0 -4.6l-4.6 4.6M696.2 423.9h5.8M699.1 421v5.8M696.8 421.6l4.6 4.6m0 -4.6l-4.6 4.6M703.1 425h5.8M706 422.1v5.8M703.7 422.7l4.6 4.6m0 -4.6l-4.6 4.6M710 426h5.8M712.9 423.1v5.8M710.6 423.7l4.6 4.6m0 -4.6l-4.6 4.6M716.9 427.2h5.8M719.8 424.3v5.8M717.5 424.9l4.6 4.6m0 -4.6l-4.6 4.6M723.8 428h5.8M726.7 425.1v5.8M724.4 425.7l4.6 4.6m0 -4.6l-4.6 4.6M730.6 428.3h5.8M733.5 425.4v5.8M731.2 426l4.6 4.6m0 -4.6l-4.6 4.6M737.5 428.8h5.8M740.4 425.9v5.8M738.1 426.5l4.6 4.6m0 -4.6l-4.6 4.6M744.4 429.6h5.8M747.3 426.7v5.8M745 427.3l4.6 4.6m0 -4.6l-4.6 4.6M751.3 430h5.8M754.2 427.1v5.8M751.9 427.7l4.6 4.6m0 -4.6l-4.6 4.6M758.2 430.5h5.8M761.1 427.6v5.8M758.8 428.2l4.6 4.6m0 -4.6l-4.6 4.6M765.1 431h5.8M768 428.1v5.8M765.7 428.7l4.6 4.6m0 -4.6l-4.6 4.6" stroke="#ff0000" stroke-width="1.1"/>
</g>
<path d="M602.1 316H769M602.1 434H769M768 316V434" stroke="#000000" stroke-width="2" fill="none"/>
<path d="M602.6 316V434" stroke="#000000" stroke-width="1.1" fill="none"/>
<g fill="#000000"><text x="598.3" y="436.9" text-anchor="end">16</text><text x="598.3" y="412.02" text-anchor="end">36</text><text x="598.3" y="387.15" text-anchor="end">56</text><text x="598.3" y="362.27" text-anchor="end">76</text><text x="598.3" y="337.4" text-anchor="end">96</text><text x="602.6" y="444.7" text-anchor="middle">0</text><text x="630.17" y="444.7" text-anchor="middle">4</text><text x="657.73" y="444.7" text-anchor="middle">8</text><text x="685.3" y="444.7" text-anchor="middle">12</text><text x="712.87" y="444.7" text-anchor="middle">16</text><text x="740.43" y="444.7" text-anchor="middle">20</text><text x="768" y="444.7" text-anchor="middle">24</text><text x="685.3" y="458.6" text-anchor="middle" class="t" clip-path="url(#lc2)">Kwun Tong</text></g>
<path d="M795.6 409.5H961M795.6 384.5H961M795.6 359.5H961M795.6 334.5H961" stroke="#000" stroke-width="1" stroke-dasharray="1.3 1.77"/>
<path d="M823.17 316V434M850.73 316V434M878.3 316V434M905.87 316V434M933.43 316V434" stroke="#000" stroke-width="1" stroke-dasharray="1 2.07"/>
<path d="M795.6 434.5h5.5M961 434.5h-5.5M795.6 421.5h4.2M961 421.5h-4.2M795.6 409.5h5.5M961 409.5h-5.5M795.6 396.5h4.2M961 396.5h-4.2M795.6 384.5h5.5M961 384.5h-5.5M795.6 371.5h4.2M961 371.5h-4.2M795.6 359.5h5.5M961 359.5h-5.5M795.6 346.5h4.2M961 346.5h-4.2M795.6 334.5h5.5M961 334.5h-5.5M795.6 322.5h4.2M961 322.5h-4.2M795.6 434v-5M795.6 316v5M809.38 434v-3.8M809.38 316v3.8M823.17 434v-5M823.17 316v5M836.95 434v-3.8M836.95 316v3.8M850.73 434v-5M850.73 316v5M864.52 434v-3.8M864.52 316v3.8M878.3 434v-5M878.3 316v5M892.08 434v-3.8M892.08 316v3.8M905.87 434v-5M905.87 316v5M919.65 434v-3.8M919.65 316v3.8M933.43 434v-5M933.43 316v5M947.22 434v-3.8M947.22 316v3.8M961 434v-5M961 316v5" stroke="#000000" stroke-width="1"/>
<g clip-path="url(#cp24)" fill="none">
<path d="M795.6 408.3 802.5 412.4 809.4 418.1 816.3 424.7 823.2 426.7 830.1 426.4 837 425.5 843.8 423.9 850.7 422.2 857.6 419.8 864.5 417.3 871.4 414.9 878.3 412.4 885.2 409.9 892.1 408 899 405.3 905.9 401.7 912.8 398.4 919.7 394.8 926.5 391.9 933.4 388.9 940.3 386.6 947.2 385.3 954.1 384.5 961 383.3M792.7 408.3h5.8M795.6 405.4v5.8M793.3 406l4.6 4.6m0 -4.6l-4.6 4.6M799.6 412.4h5.8M802.5 409.5v5.8M800.2 410.1l4.6 4.6m0 -4.6l-4.6 4.6M806.5 418.1h5.8M809.4 415.2v5.8M807.1 415.8l4.6 4.6m0 -4.6l-4.6 4.6M813.4 424.7h5.8M816.3 421.8v5.8M814 422.4l4.6 4.6m0 -4.6l-4.6 4.6M820.3 426.7h5.8M823.2 423.8v5.8M820.9 424.4l4.6 4.6m0 -4.6l-4.6 4.6M827.2 426.4h5.8M830.1 423.5v5.8M827.8 424.1l4.6 4.6m0 -4.6l-4.6 4.6M834.1 425.5h5.8M837 422.6v5.8M834.7 423.2l4.6 4.6m0 -4.6l-4.6 4.6M840.9 423.9h5.8M843.8 421v5.8M841.5 421.6l4.6 4.6m0 -4.6l-4.6 4.6M847.8 422.2h5.8M850.7 419.3v5.8M848.4 419.9l4.6 4.6m0 -4.6l-4.6 4.6M854.7 419.8h5.8M857.6 416.9v5.8M855.3 417.5l4.6 4.6m0 -4.6l-4.6 4.6M861.6 417.3h5.8M864.5 414.4v5.8M862.2 415l4.6 4.6m0 -4.6l-4.6 4.6M868.5 414.9h5.8M871.4 412v5.8M869.1 412.6l4.6 4.6m0 -4.6l-4.6 4.6M875.4 412.4h5.8M878.3 409.5v5.8M876 410.1l4.6 4.6m0 -4.6l-4.6 4.6M882.3 409.9h5.8M885.2 407v5.8M882.9 407.6l4.6 4.6m0 -4.6l-4.6 4.6M889.2 408h5.8M892.1 405.1v5.8M889.8 405.7l4.6 4.6m0 -4.6l-4.6 4.6M896.1 405.3h5.8M899 402.4v5.8M896.7 403l4.6 4.6m0 -4.6l-4.6 4.6M903 401.7h5.8M905.9 398.8v5.8M903.6 399.4l4.6 4.6m0 -4.6l-4.6 4.6M909.9 398.4h5.8M912.8 395.5v5.8M910.5 396.1l4.6 4.6m0 -4.6l-4.6 4.6M916.8 394.8h5.8M919.7 391.9v5.8M917.4 392.5l4.6 4.6m0 -4.6l-4.6 4.6M923.6 391.9h5.8M926.5 389v5.8M924.2 389.6l4.6 4.6m0 -4.6l-4.6 4.6M930.5 388.9h5.8M933.4 386v5.8M931.1 386.6l4.6 4.6m0 -4.6l-4.6 4.6M937.4 386.6h5.8M940.3 383.7v5.8M938 384.3l4.6 4.6m0 -4.6l-4.6 4.6M944.3 385.3h5.8M947.2 382.4v5.8M944.9 383l4.6 4.6m0 -4.6l-4.6 4.6M951.2 384.5h5.8M954.1 381.6v5.8M951.8 382.2l4.6 4.6m0 -4.6l-4.6 4.6M958.1 383.3h5.8M961 380.4v5.8M958.7 381l4.6 4.6m0 -4.6l-4.6 4.6" stroke="#00ffff" stroke-width="1.1"/>
<path d="M795.6 383.3 802.5 383.3 809.4 384.5 816.3 385.3 823.2 385.6 830.1 386.6 837 386.9 843.8 387.3 850.7 388.6 857.6 390.2 864.5 392.7 871.4 396 878.3 399 885.2 401.7 892.1 404.7 899 407 905.9 410.7 912.8 413.5 919.7 416.8 926.5 419.8 933.4 422.7 940.3 424.4 947.2 426 954.1 426.7 961 427.2M792.7 383.3h5.8M795.6 380.4v5.8M793.3 381l4.6 4.6m0 -4.6l-4.6 4.6M799.6 383.3h5.8M802.5 380.4v5.8M800.2 381l4.6 4.6m0 -4.6l-4.6 4.6M806.5 384.5h5.8M809.4 381.6v5.8M807.1 382.2l4.6 4.6m0 -4.6l-4.6 4.6M813.4 385.3h5.8M816.3 382.4v5.8M814 383l4.6 4.6m0 -4.6l-4.6 4.6M820.3 385.6h5.8M823.2 382.7v5.8M820.9 383.3l4.6 4.6m0 -4.6l-4.6 4.6M827.2 386.6h5.8M830.1 383.7v5.8M827.8 384.3l4.6 4.6m0 -4.6l-4.6 4.6M834.1 386.9h5.8M837 384v5.8M834.7 384.6l4.6 4.6m0 -4.6l-4.6 4.6M840.9 387.3h5.8M843.8 384.4v5.8M841.5 385l4.6 4.6m0 -4.6l-4.6 4.6M847.8 388.6h5.8M850.7 385.7v5.8M848.4 386.3l4.6 4.6m0 -4.6l-4.6 4.6M854.7 390.2h5.8M857.6 387.3v5.8M855.3 387.9l4.6 4.6m0 -4.6l-4.6 4.6M861.6 392.7h5.8M864.5 389.8v5.8M862.2 390.4l4.6 4.6m0 -4.6l-4.6 4.6M868.5 396h5.8M871.4 393.1v5.8M869.1 393.7l4.6 4.6m0 -4.6l-4.6 4.6M875.4 399h5.8M878.3 396.1v5.8M876 396.7l4.6 4.6m0 -4.6l-4.6 4.6M882.3 401.7h5.8M885.2 398.8v5.8M882.9 399.4l4.6 4.6m0 -4.6l-4.6 4.6M889.2 404.7h5.8M892.1 401.8v5.8M889.8 402.4l4.6 4.6m0 -4.6l-4.6 4.6M896.1 407h5.8M899 404.1v5.8M896.7 404.7l4.6 4.6m0 -4.6l-4.6 4.6M903 410.7h5.8M905.9 407.8v5.8M903.6 408.4l4.6 4.6m0 -4.6l-4.6 4.6M909.9 413.5h5.8M912.8 410.6v5.8M910.5 411.2l4.6 4.6m0 -4.6l-4.6 4.6M916.8 416.8h5.8M919.7 413.9v5.8M917.4 414.5l4.6 4.6m0 -4.6l-4.6 4.6M923.6 419.8h5.8M926.5 416.9v5.8M924.2 417.5l4.6 4.6m0 -4.6l-4.6 4.6M930.5 422.7h5.8M933.4 419.8v5.8M931.1 420.4l4.6 4.6m0 -4.6l-4.6 4.6M937.4 424.4h5.8M940.3 421.5v5.8M938 422.1l4.6 4.6m0 -4.6l-4.6 4.6M944.3 426h5.8M947.2 423.1v5.8M944.9 423.7l4.6 4.6m0 -4.6l-4.6 4.6M951.2 426.7h5.8M954.1 423.8v5.8M951.8 424.4l4.6 4.6m0 -4.6l-4.6 4.6M958.1 427.2h5.8M961 424.3v5.8M958.7 424.9l4.6 4.6m0 -4.6l-4.6 4.6" stroke="#00ff00" stroke-width="1.1"/>
<path d="M795.6 429.6 802.5 431 809.4 431.6 816.3 431.6 823.2 431.6 830.1 431.6 837 431.3 843.8 431.3 850.7 431.3 857.6 431.6 864.5 431.6 871.4 431.6 878.3 431.6 885.2 431.3 892.1 431.3 899 430.5 905.9 429.6 912.8 428.8 919.7 428 926.5 428 933.4 428 940.3 428 947.2 428.8 954.1 428.8 961 429.3M792.7 429.6h5.8M795.6 426.7v5.8M793.3 427.3l4.6 4.6m0 -4.6l-4.6 4.6M799.6 431h5.8M802.5 428.1v5.8M800.2 428.7l4.6 4.6m0 -4.6l-4.6 4.6M806.5 431.6h5.8M809.4 428.7v5.8M807.1 429.3l4.6 4.6m0 -4.6l-4.6 4.6M813.4 431.6h5.8M816.3 428.7v5.8M814 429.3l4.6 4.6m0 -4.6l-4.6 4.6M820.3 431.6h5.8M823.2 428.7v5.8M820.9 429.3l4.6 4.6m0 -4.6l-4.6 4.6M827.2 431.6h5.8M830.1 428.7v5.8M827.8 429.3l4.6 4.6m0 -4.6l-4.6 4.6M834.1 431.3h5.8M837 428.4v5.8M834.7 429l4.6 4.6m0 -4.6l-4.6 4.6M840.9 431.3h5.8M843.8 428.4v5.8M841.5 429l4.6 4.6m0 -4.6l-4.6 4.6M847.8 431.3h5.8M850.7 428.4v5.8M848.4 429l4.6 4.6m0 -4.6l-4.6 4.6M854.7 431.6h5.8M857.6 428.7v5.8M855.3 429.3l4.6 4.6m0 -4.6l-4.6 4.6M861.6 431.6h5.8M864.5 428.7v5.8M862.2 429.3l4.6 4.6m0 -4.6l-4.6 4.6M868.5 431.6h5.8M871.4 428.7v5.8M869.1 429.3l4.6 4.6m0 -4.6l-4.6 4.6M875.4 431.6h5.8M878.3 428.7v5.8M876 429.3l4.6 4.6m0 -4.6l-4.6 4.6M882.3 431.3h5.8M885.2 428.4v5.8M882.9 429l4.6 4.6m0 -4.6l-4.6 4.6M889.2 431.3h5.8M892.1 428.4v5.8M889.8 429l4.6 4.6m0 -4.6l-4.6 4.6M896.1 430.5h5.8M899 427.6v5.8M896.7 428.2l4.6 4.6m0 -4.6l-4.6 4.6M903 429.6h5.8M905.9 426.7v5.8M903.6 427.3l4.6 4.6m0 -4.6l-4.6 4.6M909.9 428.8h5.8M912.8 425.9v5.8M910.5 426.5l4.6 4.6m0 -4.6l-4.6 4.6M916.8 428h5.8M919.7 425.1v5.8M917.4 425.7l4.6 4.6m0 -4.6l-4.6 4.6M923.6 428h5.8M926.5 425.1v5.8M924.2 425.7l4.6 4.6m0 -4.6l-4.6 4.6M930.5 428h5.8M933.4 425.1v5.8M931.1 425.7l4.6 4.6m0 -4.6l-4.6 4.6M937.4 428h5.8M940.3 425.1v5.8M938 425.7l4.6 4.6m0 -4.6l-4.6 4.6M944.3 428.8h5.8M947.2 425.9v5.8M944.9 426.5l4.6 4.6m0 -4.6l-4.6 4.6M951.2 428.8h5.8M954.1 425.9v5.8M951.8 426.5l4.6 4.6m0 -4.6l-4.6 4.6M958.1 429.3h5.8M961 426.4v5.8M958.7 427l4.6 4.6m0 -4.6l-4.6 4.6" stroke="#0000ff" stroke-width="1.1"/>
<path d="M795.6 430.5 802.5 430 809.4 430.5 816.3 426.4 823.2 428 830.1 428.8 837 428 843.8 427.2 850.7 426.4 857.6 427.2 864.5 428 871.4 428.8 878.3 429.6 885.2 430 892.1 430.5 899 431 905.9 431 912.8 431 919.7 430.5 926.5 430 933.4 430 940.3 430 947.2 430 954.1 430 961 429.6M792.7 430.5h5.8M795.6 427.6v5.8M793.3 428.2l4.6 4.6m0 -4.6l-4.6 4.6M799.6 430h5.8M802.5 427.1v5.8M800.2 427.7l4.6 4.6m0 -4.6l-4.6 4.6M806.5 430.5h5.8M809.4 427.6v5.8M807.1 428.2l4.6 4.6m0 -4.6l-4.6 4.6M813.4 426.4h5.8M816.3 423.5v5.8M814 424.1l4.6 4.6m0 -4.6l-4.6 4.6M820.3 428h5.8M823.2 425.1v5.8M820.9 425.7l4.6 4.6m0 -4.6l-4.6 4.6M827.2 428.8h5.8M830.1 425.9v5.8M827.8 426.5l4.6 4.6m0 -4.6l-4.6 4.6M834.1 428h5.8M837 425.1v5.8M834.7 425.7l4.6 4.6m0 -4.6l-4.6 4.6M840.9 427.2h5.8M843.8 424.3v5.8M841.5 424.9l4.6 4.6m0 -4.6l-4.6 4.6M847.8 426.4h5.8M850.7 423.5v5.8M848.4 424.1l4.6 4.6m0 -4.6l-4.6 4.6M854.7 427.2h5.8M857.6 424.3v5.8M855.3 424.9l4.6 4.6m0 -4.6l-4.6 4.6M861.6 428h5.8M864.5 425.1v5.8M862.2 425.7l4.6 4.6m0 -4.6l-4.6 4.6M868.5 428.8h5.8M871.4 425.9v5.8M869.1 426.5l4.6 4.6m0 -4.6l-4.6 4.6M875.4 429.6h5.8M878.3 426.7v5.8M876 427.3l4.6 4.6m0 -4.6l-4.6 4.6M882.3 430h5.8M885.2 427.1v5.8M882.9 427.7l4.6 4.6m0 -4.6l-4.6 4.6M889.2 430.5h5.8M892.1 427.6v5.8M889.8 428.2l4.6 4.6m0 -4.6l-4.6 4.6M896.1 431h5.8M899 428.1v5.8M896.7 428.7l4.6 4.6m0 -4.6l-4.6 4.6M903 431h5.8M905.9 428.1v5.8M903.6 428.7l4.6 4.6m0 -4.6l-4.6 4.6M909.9 431h5.8M912.8 428.1v5.8M910.5 428.7l4.6 4.6m0 -4.6l-4.6 4.6M916.8 430.5h5.8M919.7 427.6v5.8M917.4 428.2l4.6 4.6m0 -4.6l-4.6 4.6M923.6 430h5.8M926.5 427.1v5.8M924.2 427.7l4.6 4.6m0 -4.6l-4.6 4.6M930.5 430h5.8M933.4 427.1v5.8M931.1 427.7l4.6 4.6m0 -4.6l-4.6 4.6M937.4 430h5.8M940.3 427.1v5.8M938 427.7l4.6 4.6m0 -4.6l-4.6 4.6M944.3 430h5.8M947.2 427.1v5.8M944.9 427.7l4.6 4.6m0 -4.6l-4.6 4.6M951.2 430h5.8M954.1 427.1v5.8M951.8 427.7l4.6 4.6m0 -4.6l-4.6 4.6M958.1 429.6h5.8M961 426.7v5.8M958.7 427.3l4.6 4.6m0 -4.6l-4.6 4.6" stroke="#ff0000" stroke-width="1.1"/>
</g>
<path d="M795.1 316H962M795.1 434H962M961 316V434" stroke="#000000" stroke-width="2" fill="none"/>
<path d="M795.6 316V434" stroke="#000000" stroke-width="1.1" fill="none"/>
<g fill="#000000"><text x="791.3" y="436.9" text-anchor="end">16</text><text x="791.3" y="412.02" text-anchor="end">36</text><text x="791.3" y="387.15" text-anchor="end">56</text><text x="791.3" y="362.27" text-anchor="end">76</text><text x="791.3" y="337.4" text-anchor="end">96</text><text x="795.6" y="444.7" text-anchor="middle">0</text><text x="823.17" y="444.7" text-anchor="middle">4</text><text x="850.73" y="444.7" text-anchor="middle">8</text><text x="878.3" y="444.7" text-anchor="middle">12</text><text x="905.87" y="444.7" text-anchor="middle">16</text><text x="933.43" y="444.7" text-anchor="middle">20</text><text x="961" y="444.7" text-anchor="middle">24</text><text x="878.3" y="458.6" text-anchor="middle" class="t" clip-path="url(#lc2)">Tseung Kwan O</text></g>
<path d="M23.6 557.5H189M23.6 532.5H189M23.6 507.5H189M23.6 482.5H189" stroke="#000" stroke-width="1" stroke-dasharray="1.3 1.77"/>
<path d="M51.17 464V582M78.73 464V582M106.3 464V582M133.87 464V582M161.43 464V582" stroke="#000" stroke-width="1" stroke-dasharray="1 2.07"/>
<path d="M23.6 582.5h5.5M189 582.5h-5.5M23.6 569.5h4.2M189 569.5h-4.2M23.6 557.5h5.5M189 557.5h-5.5M23.6 544.5h4.2M189 544.5h-4.2M23.6 532.5h5.5M189 532.5h-5.5M23.6 519.5h4.2M189 519.5h-4.2M23.6 507.5h5.5M189 507.5h-5.5M23.6 494.5h4.2M189 494.5h-4.2M23.6 482.5h5.5M189 482.5h-5.5M23.6 470.5h4.2M189 470.5h-4.2M23.6 582v-5M23.6 464v5M37.38 582v-3.8M37.38 464v3.8M51.17 582v-5M51.17 464v5M64.95 582v-3.8M64.95 464v3.8M78.73 582v-5M78.73 464v5M92.52 582v-3.8M92.52 464v3.8M106.3 582v-5M106.3 464v5M120.08 582v-3.8M120.08 464v3.8M133.87 582v-5M133.87 464v5M147.65 582v-3.8M147.65 464v3.8M161.43 582v-5M161.43 464v5M175.22 582v-3.8M175.22 464v3.8M189 582v-5M189 464v5" stroke="#000000" stroke-width="1"/>
<path d="M23.1 464H190M23.1 582H190M189 464V582" stroke="#000000" stroke-width="2" fill="none"/>
<path d="M23.6 464V582" stroke="#000000" stroke-width="1.1" fill="none"/>
<g fill="#000000"><text x="19.3" y="584.9" text-anchor="end">16</text><text x="19.3" y="560.02" text-anchor="end">36</text><text x="19.3" y="535.15" text-anchor="end">56</text><text x="19.3" y="510.27" text-anchor="end">76</text><text x="19.3" y="485.4" text-anchor="end">96</text><text x="23.6" y="592.7" text-anchor="middle">0</text><text x="51.17" y="592.7" text-anchor="middle">4</text><text x="78.73" y="592.7" text-anchor="middle">8</text><text x="106.3" y="592.7" text-anchor="middle">12</text><text x="133.87" y="592.7" text-anchor="middle">16</text><text x="161.43" y="592.7" text-anchor="middle">20</text><text x="189" y="592.7" text-anchor="middle">24</text><text x="106.3" y="606.6" text-anchor="middle" class="t" clip-path="url(#lc3)">Airport, Pump House 1</text></g>
<path d="M216.6 557.5H382M216.6 532.5H382M216.6 507.5H382M216.6 482.5H382" stroke="#000" stroke-width="1" stroke-dasharray="1.3 1.77"/>
<path d="M244.17 464V582M271.73 464V582M299.3 464V582M326.87 464V582M354.43 464V582" stroke="#000" stroke-width="1" stroke-dasharray="1 2.07"/>
<path d="M216.6 582.5h5.5M382 582.5h-5.5M216.6 569.5h4.2M382 569.5h-4.2M216.6 557.5h5.5M382 557.5h-5.5M216.6 544.5h4.2M382 544.5h-4.2M216.6 532.5h5.5M382 532.5h-5.5M216.6 519.5h4.2M382 519.5h-4.2M216.6 507.5h5.5M382 507.5h-5.5M216.6 494.5h4.2M382 494.5h-4.2M216.6 482.5h5.5M382 482.5h-5.5M216.6 470.5h4.2M382 470.5h-4.2M216.6 582v-5M216.6 464v5M230.38 582v-3.8M230.38 464v3.8M244.17 582v-5M244.17 464v5M257.95 582v-3.8M257.95 464v3.8M271.73 582v-5M271.73 464v5M285.52 582v-3.8M285.52 464v3.8M299.3 582v-5M299.3 464v5M313.08 582v-3.8M313.08 464v3.8M326.87 582v-5M326.87 464v5M340.65 582v-3.8M340.65 464v3.8M354.43 582v-5M354.43 464v5M368.22 582v-3.8M368.22 464v3.8M382 582v-5M382 464v5" stroke="#000000" stroke-width="1"/>
<g clip-path="url(#cp31)" fill="none">
<path d="M216.6 558.7 223.5 557.9 230.4 557.1 237.3 556.3 244.2 555.5 251.1 553.3 257.9 550 264.8 547.2 271.7 544.8 278.6 543.1 285.5 541.8 292.4 541.2 299.3 541.6 306.2 542.3 313.1 541.5 320 541.2 326.9 541.2 333.8 541.5 340.6 540.2 347.5 537.4 354.4 536.9 361.3 539.5 368.2 541.2 375.1 541.5 382 543.1M213.7 558.7h5.8M216.6 555.8v5.8M214.3 556.4l4.6 4.6m0 -4.6l-4.6 4.6M220.6 557.9h5.8M223.5 555v5.8M221.2 555.6l4.6 4.6m0 -4.6l-4.6 4.6M227.5 557.1h5.8M230.4 554.2v5.8M228.1 554.8l4.6 4.6m0 -4.6l-4.6 4.6M234.4 556.3h5.8M237.3 553.4v5.8M235 554l4.6 4.6m0 -4.6l-4.6 4.6M241.3 555.5h5.8M244.2 552.6v5.8M241.9 553.2l4.6 4.6m0 -4.6l-4.6 4.6M248.2 553.3h5.8M251.1 550.4v5.8M248.8 551l4.6 4.6m0 -4.6l-4.6 4.6M255 550h5.8M257.9 547.1v5.8M255.6 547.7l4.6 4.6m0 -4.6l-4.6 4.6M261.9 547.2h5.8M264.8 544.3v5.8M262.5 544.9l4.6 4.6m0 -4.6l-4.6 4.6M268.8 544.8h5.8M271.7 541.9v5.8M269.4 542.5l4.6 4.6m0 -4.6l-4.6 4.6M275.7 543.1h5.8M278.6 540.2v5.8M276.3 540.8l4.6 4.6m0 -4.6l-4.6 4.6M282.6 541.8h5.8M285.5 538.9v5.8M283.2 539.5l4.6 4.6m0 -4.6l-4.6 4.6M289.5 541.2h5.8M292.4 538.3v5.8M290.1 538.9l4.6 4.6m0 -4.6l-4.6 4.6M296.4 541.6h5.8M299.3 538.7v5.8M297 539.3l4.6 4.6m0 -4.6l-4.6 4.6M303.3 542.3h5.8M306.2 539.4v5.8M303.9 540l4.6 4.6m0 -4.6l-4.6 4.6M310.2 541.5h5.8M313.1 538.6v5.8M310.8 539.2l4.6 4.6m0 -4.6l-4.6 4.6M317.1 541.2h5.8M320 538.3v5.8M317.7 538.9l4.6 4.6m0 -4.6l-4.6 4.6M324 541.2h5.8M326.9 538.3v5.8M324.6 538.9l4.6 4.6m0 -4.6l-4.6 4.6M330.9 541.5h5.8M333.8 538.6v5.8M331.5 539.2l4.6 4.6m0 -4.6l-4.6 4.6M337.8 540.2h5.8M340.6 537.3v5.8M338.3 537.9l4.6 4.6m0 -4.6l-4.6 4.6M344.6 537.4h5.8M347.5 534.5v5.8M345.2 535.1l4.6 4.6m0 -4.6l-4.6 4.6M351.5 536.9h5.8M354.4 534v5.8M352.1 534.6l4.6 4.6m0 -4.6l-4.6 4.6M358.4 539.5h5.8M361.3 536.6v5.8M359 537.2l4.6 4.6m0 -4.6l-4.6 4.6M365.3 541.2h5.8M368.2 538.3v5.8M365.9 538.9l4.6 4.6m0 -4.6l-4.6 4.6M372.2 541.5h5.8M375.1 538.6v5.8M372.8 539.2l4.6 4.6m0 -4.6l-4.6 4.6M379.1 543.1h5.8M382 540.2v5.8M379.7 540.8l4.6 4.6m0 -4.6l-4.6 4.6" stroke="#00ffff" stroke-width="1.1"/>
<path d="M216.6 543.1 223.5 543.1 230.4 544 237.3 544 244.2 545.6 251.1 549.7 257.9 552.2 264.8 556 271.7 557.9 278.6 560.4 285.5 562.5 292.4 564.5 299.3 566.1 306.2 567 313.1 567 320 567.5 326.9 567 333.8 567.8 340.6 569.1 347.5 572.4 354.4 571.4 361.3 570.2 368.2 570.2 375.1 569.8 382 569.1M213.7 543.1h5.8M216.6 540.2v5.8M214.3 540.8l4.6 4.6m0 -4.6l-4.6 4.6M220.6 543.1h5.8M223.5 540.2v5.8M221.2 540.8l4.6 4.6m0 -4.6l-4.6 4.6M227.5 544h5.8M230.4 541.1v5.8M228.1 541.7l4.6 4.6m0 -4.6l-4.6 4.6M234.4 544h5.8M237.3 541.1v5.8M235 541.7l4.6 4.6m0 -4.6l-4.6 4.6M241.3 545.6h5.8M244.2 542.7v5.8M241.9 543.3l4.6 4.6m0 -4.6l-4.6 4.6M248.2 549.7h5.8M251.1 546.8v5.8M248.8 547.4l4.6 4.6m0 -4.6l-4.6 4.6M255 552.2h5.8M257.9 549.3v5.8M255.6 549.9l4.6 4.6m0 -4.6l-4.6 4.6M261.9 556h5.8M264.8 553.1v5.8M262.5 553.7l4.6 4.6m0 -4.6l-4.6 4.6M268.8 557.9h5.8M271.7 555v5.8M269.4 555.6l4.6 4.6m0 -4.6l-4.6 4.6M275.7 560.4h5.8M278.6 557.5v5.8M276.3 558.1l4.6 4.6m0 -4.6l-4.6 4.6M282.6 562.5h5.8M285.5 559.6v5.8M283.2 560.2l4.6 4.6m0 -4.6l-4.6 4.6M289.5 564.5h5.8M292.4 561.6v5.8M290.1 562.2l4.6 4.6m0 -4.6l-4.6 4.6M296.4 566.1h5.8M299.3 563.2v5.8M297 563.8l4.6 4.6m0 -4.6l-4.6 4.6M303.3 567h5.8M306.2 564.1v5.8M303.9 564.7l4.6 4.6m0 -4.6l-4.6 4.6M310.2 567h5.8M313.1 564.1v5.8M310.8 564.7l4.6 4.6m0 -4.6l-4.6 4.6M317.1 567.5h5.8M320 564.6v5.8M317.7 565.2l4.6 4.6m0 -4.6l-4.6 4.6M324 567h5.8M326.9 564.1v5.8M324.6 564.7l4.6 4.6m0 -4.6l-4.6 4.6M330.9 567.8h5.8M333.8 564.9v5.8M331.5 565.5l4.6 4.6m0 -4.6l-4.6 4.6M337.8 569.1h5.8M340.6 566.2v5.8M338.3 566.8l4.6 4.6m0 -4.6l-4.6 4.6M344.6 572.4h5.8M347.5 569.5v5.8M345.2 570.1l4.6 4.6m0 -4.6l-4.6 4.6M351.5 571.4h5.8M354.4 568.5v5.8M352.1 569.1l4.6 4.6m0 -4.6l-4.6 4.6M358.4 570.2h5.8M361.3 567.3v5.8M359 567.9l4.6 4.6m0 -4.6l-4.6 4.6M365.3 570.2h5.8M368.2 567.3v5.8M365.9 567.9l4.6 4.6m0 -4.6l-4.6 4.6M372.2 569.8h5.8M375.1 566.9v5.8M372.8 567.5l4.6 4.6m0 -4.6l-4.6 4.6M379.1 569.1h5.8M382 566.2v5.8M379.7 566.8l4.6 4.6m0 -4.6l-4.6 4.6" stroke="#00ff00" stroke-width="1.1"/>
<path d="M216.6 568.6 223.5 568.6 230.4 568.6 237.3 569.4 244.2 569.4 251.1 569.1 257.9 568.6 264.8 568.6 271.7 568.6 278.6 567.8 285.5 567.5 292.4 566.1 299.3 565 306.2 564.8 313.1 564.2 320 563.2 326.9 562 333.8 560.9 340.6 559.6 347.5 559.2 354.4 558.7 361.3 557.9 368.2 557.1 375.1 556.3 382 556M213.7 568.6h5.8M216.6 565.7v5.8M214.3 566.3l4.6 4.6m0 -4.6l-4.6 4.6M220.6 568.6h5.8M223.5 565.7v5.8M221.2 566.3l4.6 4.6m0 -4.6l-4.6 4.6M227.5 568.6h5.8M230.4 565.7v5.8M228.1 566.3l4.6 4.6m0 -4.6l-4.6 4.6M234.4 569.4h5.8M237.3 566.5v5.8M235 567.1l4.6 4.6m0 -4.6l-4.6 4.6M241.3 569.4h5.8M244.2 566.5v5.8M241.9 567.1l4.6 4.6m0 -4.6l-4.6 4.6M248.2 569.1h5.8M251.1 566.2v5.8M248.8 566.8l4.6 4.6m0 -4.6l-4.6 4.6M255 568.6h5.8M257.9 565.7v5.8M255.6 566.3l4.6 4.6m0 -4.6l-4.6 4.6M261.9 568.6h5.8M264.8 565.7v5.8M262.5 566.3l4.6 4.6m0 -4.6l-4.6 4.6M268.8 568.6h5.8M271.7 565.7v5.8M269.4 566.3l4.6 4.6m0 -4.6l-4.6 4.6M275.7 567.8h5.8M278.6 564.9v5.8M276.3 565.5l4.6 4.6m0 -4.6l-4.6 4.6M282.6 567.5h5.8M285.5 564.6v5.8M283.2 565.2l4.6 4.6m0 -4.6l-4.6 4.6M289.5 566.1h5.8M292.4 563.2v5.8M290.1 563.8l4.6 4.6m0 -4.6l-4.6 4.6M296.4 565h5.8M299.3 562.1v5.8M297 562.7l4.6 4.6m0 -4.6l-4.6 4.6M303.3 564.8h5.8M306.2 561.9v5.8M303.9 562.5l4.6 4.6m0 -4.6l-4.6 4.6M310.2 564.2h5.8M313.1 561.3v5.8M310.8 561.9l4.6 4.6m0 -4.6l-4.6 4.6M317.1 563.2h5.8M320 560.3v5.8M317.7 560.9l4.6 4.6m0 -4.6l-4.6 4.6M324 562h5.8M326.9 559.1v5.8M324.6 559.7l4.6 4.6m0 -4.6l-4.6 4.6M330.9 560.9h5.8M333.8 558v5.8M331.5 558.6l4.6 4.6m0 -4.6l-4.6 4.6M337.8 559.6h5.8M340.6 556.7v5.8M338.3 557.3l4.6 4.6m0 -4.6l-4.6 4.6M344.6 559.2h5.8M347.5 556.3v5.8M345.2 556.9l4.6 4.6m0 -4.6l-4.6 4.6M351.5 558.7h5.8M354.4 555.8v5.8M352.1 556.4l4.6 4.6m0 -4.6l-4.6 4.6M358.4 557.9h5.8M361.3 555v5.8M359 555.6l4.6 4.6m0 -4.6l-4.6 4.6M365.3 557.1h5.8M368.2 554.2v5.8M365.9 554.8l4.6 4.6m0 -4.6l-4.6 4.6M372.2 556.3h5.8M375.1 553.4v5.8M372.8 554l4.6 4.6m0 -4.6l-4.6 4.6M379.1 556h5.8M382 553.1v5.8M379.7 553.7l4.6 4.6m0 -4.6l-4.6 4.6" stroke="#0000ff" stroke-width="1.1"/>
<path d="M216.6 556 223.5 555.5 230.4 555.5 237.3 555 244.2 554.6 251.1 553.8 257.9 553.8 264.8 553.3 271.7 553.8 278.6 554.3 285.5 555.5 292.4 557.1 299.3 558.5 306.2 559.6 313.1 560.9 320 561.5 326.9 562.5 333.8 563.7 340.6 564.8 347.5 566.1 354.4 567 361.3 568.6 368.2 569.8 375.1 570.7 382 571.4M213.7 556h5.8M216.6 553.1v5.8M214.3 553.7l4.6 4.6m0 -4.6l-4.6 4.6M220.6 555.5h5.8M223.5 552.6v5.8M221.2 553.2l4.6 4.6m0 -4.6l-4.6 4.6M227.5 555.5h5.8M230.4 552.6v5.8M228.1 553.2l4.6 4.6m0 -4.6l-4.6 4.6M234.4 555h5.8M237.3 552.1v5.8M235 552.7l4.6 4.6m0 -4.6l-4.6 4.6M241.3 554.6h5.8M244.2 551.7v5.8M241.9 552.3l4.6 4.6m0 -4.6l-4.6 4.6M248.2 553.8h5.8M251.1 550.9v5.8M248.8 551.5l4.6 4.6m0 -4.6l-4.6 4.6M255 553.8h5.8M257.9 550.9v5.8M255.6 551.5l4.6 4.6m0 -4.6l-4.6 4.6M261.9 553.3h5.8M264.8 550.4v5.8M262.5 551l4.6 4.6m0 -4.6l-4.6 4.6M268.8 553.8h5.8M271.7 550.9v5.8M269.4 551.5l4.6 4.6m0 -4.6l-4.6 4.6M275.7 554.3h5.8M278.6 551.4v5.8M276.3 552l4.6 4.6m0 -4.6l-4.6 4.6M282.6 555.5h5.8M285.5 552.6v5.8M283.2 553.2l4.6 4.6m0 -4.6l-4.6 4.6M289.5 557.1h5.8M292.4 554.2v5.8M290.1 554.8l4.6 4.6m0 -4.6l-4.6 4.6M296.4 558.5h5.8M299.3 555.6v5.8M297 556.2l4.6 4.6m0 -4.6l-4.6 4.6M303.3 559.6h5.8M306.2 556.7v5.8M303.9 557.3l4.6 4.6m0 -4.6l-4.6 4.6M310.2 560.9h5.8M313.1 558v5.8M310.8 558.6l4.6 4.6m0 -4.6l-4.6 4.6M317.1 561.5h5.8M320 558.6v5.8M317.7 559.2l4.6 4.6m0 -4.6l-4.6 4.6M324 562.5h5.8M326.9 559.6v5.8M324.6 560.2l4.6 4.6m0 -4.6l-4.6 4.6M330.9 563.7h5.8M333.8 560.8v5.8M331.5 561.4l4.6 4.6m0 -4.6l-4.6 4.6M337.8 564.8h5.8M340.6 561.9v5.8M338.3 562.5l4.6 4.6m0 -4.6l-4.6 4.6M344.6 566.1h5.8M347.5 563.2v5.8M345.2 563.8l4.6 4.6m0 -4.6l-4.6 4.6M351.5 567h5.8M354.4 564.1v5.8M352.1 564.7l4.6 4.6m0 -4.6l-4.6 4.6M358.4 568.6h5.8M361.3 565.7v5.8M359 566.3l4.6 4.6m0 -4.6l-4.6 4.6M365.3 569.8h5.8M368.2 566.9v5.8M365.9 567.5l4.6 4.6m0 -4.6l-4.6 4.6M372.2 570.7h5.8M375.1 567.8v5.8M372.8 568.4l4.6 4.6m0 -4.6l-4.6 4.6M379.1 571.4h5.8M382 568.5v5.8M379.7 569.1l4.6 4.6m0 -4.6l-4.6 4.6" stroke="#ff0000" stroke-width="1.1"/>
</g>
<path d="M216.1 464H383M216.1 582H383M382 464V582" stroke="#000000" stroke-width="2" fill="none"/>
<path d="M216.6 464V582" stroke="#000000" stroke-width="1.1" fill="none"/>
<g fill="#000000"><text x="212.3" y="584.9" text-anchor="end">16</text><text x="212.3" y="560.02" text-anchor="end">36</text><text x="212.3" y="535.15" text-anchor="end">56</text><text x="212.3" y="510.27" text-anchor="end">76</text><text x="212.3" y="485.4" text-anchor="end">96</text><text x="216.6" y="592.7" text-anchor="middle">0</text><text x="244.17" y="592.7" text-anchor="middle">4</text><text x="271.73" y="592.7" text-anchor="middle">8</text><text x="299.3" y="592.7" text-anchor="middle">12</text><text x="326.87" y="592.7" text-anchor="middle">16</text><text x="354.43" y="592.7" text-anchor="middle">20</text><text x="382" y="592.7" text-anchor="middle">24</text><text x="299.3" y="606.6" text-anchor="middle" class="t" clip-path="url(#lc3)">Central/Western</text></g>
<path d="M409.6 557.5H575M409.6 532.5H575M409.6 507.5H575M409.6 482.5H575" stroke="#000" stroke-width="1" stroke-dasharray="1.3 1.77"/>
<path d="M437.17 464V582M464.73 464V582M492.3 464V582M519.87 464V582M547.43 464V582" stroke="#000" stroke-width="1" stroke-dasharray="1 2.07"/>
<path d="M409.6 582.5h5.5M575 582.5h-5.5M409.6 569.5h4.2M575 569.5h-4.2M409.6 557.5h5.5M575 557.5h-5.5M409.6 544.5h4.2M575 544.5h-4.2M409.6 532.5h5.5M575 532.5h-5.5M409.6 519.5h4.2M575 519.5h-4.2M409.6 507.5h5.5M575 507.5h-5.5M409.6 494.5h4.2M575 494.5h-4.2M409.6 482.5h5.5M575 482.5h-5.5M409.6 470.5h4.2M575 470.5h-4.2M409.6 582v-5M409.6 464v5M423.38 582v-3.8M423.38 464v3.8M437.17 582v-5M437.17 464v5M450.95 582v-3.8M450.95 464v3.8M464.73 582v-5M464.73 464v5M478.52 582v-3.8M478.52 464v3.8M492.3 582v-5M492.3 464v5M506.08 582v-3.8M506.08 464v3.8M519.87 582v-5M519.87 464v5M533.65 582v-3.8M533.65 464v3.8M547.43 582v-5M547.43 464v5M561.22 582v-3.8M561.22 464v3.8M575 582v-5M575 464v5" stroke="#ff0000" stroke-width="1"/>
<g clip-path="url(#cp32)" fill="none">
<path d="M409.6 508.6 416.5 507.3 423.4 505.7 430.3 504 437.2 502.1 444.1 500.1 451 498 457.8 495.8 464.7 493.9 471.6 491.4 478.5 488.1 485.4 484.8 492.3 482 499.2 479.1 506.1 477.4 513 476.1 519.9 475 526.8 471.7 533.7 468.4 540.5 467.6 547.4 467.2 554.3 467.6 561.2 467.6 568.1 467.9 575 467.9M406.7 508.6h5.8M409.6 505.7v5.8M407.3 506.3l4.6 4.6m0 -4.6l-4.6 4.6M413.6 507.3h5.8M416.5 504.4v5.8M414.2 505l4.6 4.6m0 -4.6l-4.6 4.6M420.5 505.7h5.8M423.4 502.8v5.8M421.1 503.4l4.6 4.6m0 -4.6l-4.6 4.6M427.4 504h5.8M430.3 501.1v5.8M428 501.7l4.6 4.6m0 -4.6l-4.6 4.6M434.3 502.1h5.8M437.2 499.2v5.8M434.9 499.8l4.6 4.6m0 -4.6l-4.6 4.6M441.2 500.1h5.8M444.1 497.2v5.8M441.8 497.8l4.6 4.6m0 -4.6l-4.6 4.6M448.1 498h5.8M451 495.1v5.8M448.7 495.7l4.6 4.6m0 -4.6l-4.6 4.6M454.9 495.8h5.8M457.8 492.9v5.8M455.5 493.5l4.6 4.6m0 -4.6l-4.6 4.6M461.8 493.9h5.8M464.7 491v5.8M462.4 491.6l4.6 4.6m0 -4.6l-4.6 4.6M468.7 491.4h5.8M471.6 488.5v5.8M469.3 489.1l4.6 4.6m0 -4.6l-4.6 4.6M475.6 488.1h5.8M478.5 485.2v5.8M476.2 485.8l4.6 4.6m0 -4.6l-4.6 4.6M482.5 484.8h5.8M485.4 481.9v5.8M483.1 482.5l4.6 4.6m0 -4.6l-4.6 4.6M489.4 482h5.8M492.3 479.1v5.8M490 479.7l4.6 4.6m0 -4.6l-4.6 4.6M496.3 479.1h5.8M499.2 476.2v5.8M496.9 476.8l4.6 4.6m0 -4.6l-4.6 4.6M503.2 477.4h5.8M506.1 474.5v5.8M503.8 475.1l4.6 4.6m0 -4.6l-4.6 4.6M510.1 476.1h5.8M513 473.2v5.8M510.7 473.8l4.6 4.6m0 -4.6l-4.6 4.6M517 475h5.8M519.9 472.1v5.8M517.6 472.7l4.6 4.6m0 -4.6l-4.6 4.6M523.9 471.7h5.8M526.8 468.8v5.8M524.5 469.4l4.6 4.6m0 -4.6l-4.6 4.6M530.8 468.4h5.8M533.7 465.5v5.8M531.4 466.1l4.6 4.6m0 -4.6l-4.6 4.6M537.6 467.6h5.8M540.5 464.7v5.8M538.2 465.3l4.6 4.6m0 -4.6l-4.6 4.6M544.5 467.2h5.8M547.4 464.3v5.8M545.1 464.9l4.6 4.6m0 -4.6l-4.6 4.6M551.4 467.6h5.8M554.3 464.7v5.8M552 465.3l4.6 4.6m0 -4.6l-4.6 4.6M558.3 467.6h5.8M561.2 464.7v5.8M558.9 465.3l4.6 4.6m0 -4.6l-4.6 4.6M565.2 467.9h5.8M568.1 465v5.8M565.8 465.6l4.6 4.6m0 -4.6l-4.6 4.6M572.1 467.9h5.8M575 465v5.8M572.7 465.6l4.6 4.6m0 -4.6l-4.6 4.6" stroke="#00ffff" stroke-width="1.1"/>
<path d="M409.6 467.9 416.5 468.9 423.4 470 430.3 470.5 437.2 470.5 444.1 471.2 451 472.2 457.8 472.8 464.7 473.3 471.6 474.1 478.5 475 485.4 476.1 492.3 477.2 499.2 478.7 506.1 482.7 513 484 519.9 487 526.8 498 533.7 506.7 540.5 510 547.4 512.8 554.3 513.9 561.2 515.2 568.1 516.9 575 517.2M406.7 467.9h5.8M409.6 465v5.8M407.3 465.6l4.6 4.6m0 -4.6l-4.6 4.6M413.6 468.9h5.8M416.5 466v5.8M414.2 466.6l4.6 4.6m0 -4.6l-4.6 4.6M420.5 470h5.8M423.4 467.1v5.8M421.1 467.7l4.6 4.6m0 -4.6l-4.6 4.6M427.4 470.5h5.8M430.3 467.6v5.8M428 468.2l4.6 4.6m0 -4.6l-4.6 4.6M434.3 470.5h5.8M437.2 467.6v5.8M434.9 468.2l4.6 4.6m0 -4.6l-4.6 4.6M441.2 471.2h5.8M444.1 468.3v5.8M441.8 468.9l4.6 4.6m0 -4.6l-4.6 4.6M448.1 472.2h5.8M451 469.3v5.8M448.7 469.9l4.6 4.6m0 -4.6l-4.6 4.6M454.9 472.8h5.8M457.8 469.9v5.8M455.5 470.5l4.6 4.6m0 -4.6l-4.6 4.6M461.8 473.3h5.8M464.7 470.4v5.8M462.4 471l4.6 4.6m0 -4.6l-4.6 4.6M468.7 474.1h5.8M471.6 471.2v5.8M469.3 471.8l4.6 4.6m0 -4.6l-4.6 4.6M475.6 475h5.8M478.5 472.1v5.8M476.2 472.7l4.6 4.6m0 -4.6l-4.6 4.6M482.5 476.1h5.8M485.4 473.2v5.8M483.1 473.8l4.6 4.6m0 -4.6l-4.6 4.6M489.4 477.2h5.8M492.3 474.3v5.8M490 474.9l4.6 4.6m0 -4.6l-4.6 4.6M496.3 478.7h5.8M499.2 475.8v5.8M496.9 476.4l4.6 4.6m0 -4.6l-4.6 4.6M503.2 482.7h5.8M506.1 479.8v5.8M503.8 480.4l4.6 4.6m0 -4.6l-4.6 4.6M510.1 484h5.8M513 481.1v5.8M510.7 481.7l4.6 4.6m0 -4.6l-4.6 4.6M517 487h5.8M519.9 484.1v5.8M517.6 484.7l4.6 4.6m0 -4.6l-4.6 4.6M523.9 498h5.8M526.8 495.1v5.8M524.5 495.7l4.6 4.6m0 -4.6l-4.6 4.6M530.8 506.7h5.8M533.7 503.8v5.8M531.4 504.4l4.6 4.6m0 -4.6l-4.6 4.6M537.6 510h5.8M540.5 507.1v5.8M538.2 507.7l4.6 4.6m0 -4.6l-4.6 4.6M544.5 512.8h5.8M547.4 509.9v5.8M545.1 510.5l4.6 4.6m0 -4.6l-4.6 4.6M551.4 513.9h5.8M554.3 511v5.8M552 511.6l4.6 4.6m0 -4.6l-4.6 4.6M558.3 515.2h5.8M561.2 512.3v5.8M558.9 512.9l4.6 4.6m0 -4.6l-4.6 4.6M565.2 516.9h5.8M568.1 514v5.8M565.8 514.6l4.6 4.6m0 -4.6l-4.6 4.6M572.1 517.2h5.8M575 514.3v5.8M572.7 514.9l4.6 4.6m0 -4.6l-4.6 4.6" stroke="#00ff00" stroke-width="1.1"/>
<path d="M409.6 517.2 416.5 518.2 423.4 519.3 430.3 519.3 437.2 519.3 444.1 519.3 451 519.8 457.8 519.8 464.7 521 471.6 521.5 478.5 522.6 485.4 522.6 492.3 523.2 499.2 522.6 506.1 522.1 513 521.5 519.9 521 526.8 521 533.7 519.8 540.5 519.3 547.4 519.3 554.3 518.8 561.2 518.2 568.1 517.7 575 517.2M406.7 517.2h5.8M409.6 514.3v5.8M407.3 514.9l4.6 4.6m0 -4.6l-4.6 4.6M413.6 518.2h5.8M416.5 515.3v5.8M414.2 515.9l4.6 4.6m0 -4.6l-4.6 4.6M420.5 519.3h5.8M423.4 516.4v5.8M421.1 517l4.6 4.6m0 -4.6l-4.6 4.6M427.4 519.3h5.8M430.3 516.4v5.8M428 517l4.6 4.6m0 -4.6l-4.6 4.6M434.3 519.3h5.8M437.2 516.4v5.8M434.9 517l4.6 4.6m0 -4.6l-4.6 4.6M441.2 519.3h5.8M444.1 516.4v5.8M441.8 517l4.6 4.6m0 -4.6l-4.6 4.6M448.1 519.8h5.8M451 516.9v5.8M448.7 517.5l4.6 4.6m0 -4.6l-4.6 4.6M454.9 519.8h5.8M457.8 516.9v5.8M455.5 517.5l4.6 4.6m0 -4.6l-4.6 4.6M461.8 521h5.8M464.7 518.1v5.8M462.4 518.7l4.6 4.6m0 -4.6l-4.6 4.6M468.7 521.5h5.8M471.6 518.6v5.8M469.3 519.2l4.6 4.6m0 -4.6l-4.6 4.6M475.6 522.6h5.8M478.5 519.7v5.8M476.2 520.3l4.6 4.6m0 -4.6l-4.6 4.6M482.5 522.6h5.8M485.4 519.7v5.8M483.1 520.3l4.6 4.6m0 -4.6l-4.6 4.6M489.4 523.2h5.8M492.3 520.3v5.8M490 520.9l4.6 4.6m0 -4.6l-4.6 4.6M496.3 522.6h5.8M499.2 519.7v5.8M496.9 520.3l4.6 4.6m0 -4.6l-4.6 4.6M503.2 522.1h5.8M506.1 519.2v5.8M503.8 519.8l4.6 4.6m0 -4.6l-4.6 4.6M510.1 521.5h5.8M513 518.6v5.8M510.7 519.2l4.6 4.6m0 -4.6l-4.6 4.6M517 521h5.8M519.9 518.1v5.8M517.6 518.7l4.6 4.6m0 -4.6l-4.6 4.6M523.9 521h5.8M526.8 518.1v5.8M524.5 518.7l4.6 4.6m0 -4.6l-4.6 4.6M530.8 519.8h5.8M533.7 516.9v5.8M531.4 517.5l4.6 4.6m0 -4.6l-4.6 4.6M537.6 519.3h5.8M540.5 516.4v5.8M538.2 517l4.6 4.6m0 -4.6l-4.6 4.6M544.5 519.3h5.8M547.4 516.4v5.8M545.1 517l4.6 4.6m0 -4.6l-4.6 4.6M551.4 518.8h5.8M554.3 515.9v5.8M552 516.5l4.6 4.6m0 -4.6l-4.6 4.6M558.3 518.2h5.8M561.2 515.3v5.8M558.9 515.9l4.6 4.6m0 -4.6l-4.6 4.6M565.2 517.7h5.8M568.1 514.8v5.8M565.8 515.4l4.6 4.6m0 -4.6l-4.6 4.6M572.1 517.2h5.8M575 514.3v5.8M572.7 514.9l4.6 4.6m0 -4.6l-4.6 4.6" stroke="#0000ff" stroke-width="1.1"/>
<path d="M409.6 516 416.5 515.2 423.4 514.9 430.3 513.9 437.2 513.9 444.1 514.4 451 514.4 457.8 514.4 464.7 514.4 471.6 515.2 478.5 516.9 485.4 518.5 492.3 520.1 499.2 521.8 506.1 524.2 513 525.9 519.9 528 526.8 529.2 533.7 530.8 540.5 533 547.4 534.1 554.3 534.9 561.2 536.2 568.1 537.4 575 538.2M406.7 516h5.8M409.6 513.1v5.8M407.3 513.7l4.6 4.6m0 -4.6l-4.6 4.6M413.6 515.2h5.8M416.5 512.3v5.8M414.2 512.9l4.6 4.6m0 -4.6l-4.6 4.6M420.5 514.9h5.8M423.4 512v5.8M421.1 512.6l4.6 4.6m0 -4.6l-4.6 4.6M427.4 513.9h5.8M430.3 511v5.8M428 511.6l4.6 4.6m0 -4.6l-4.6 4.6M434.3 513.9h5.8M437.2 511v5.8M434.9 511.6l4.6 4.6m0 -4.6l-4.6 4.6M441.2 514.4h5.8M444.1 511.5v5.8M441.8 512.1l4.6 4.6m0 -4.6l-4.6 4.6M448.1 514.4h5.8M451 511.5v5.8M448.7 512.1l4.6 4.6m0 -4.6l-4.6 4.6M454.9 514.4h5.8M457.8 511.5v5.8M455.5 512.1l4.6 4.6m0 -4.6l-4.6 4.6M461.8 514.4h5.8M464.7 511.5v5.8M462.4 512.1l4.6 4.6m0 -4.6l-4.6 4.6M468.7 515.2h5.8M471.6 512.3v5.8M469.3 512.9l4.6 4.6m0 -4.6l-4.6 4.6M475.6 516.9h5.8M478.5 514v5.8M476.2 514.6l4.6 4.6m0 -4.6l-4.6 4.6M482.5 518.5h5.8M485.4 515.6v5.8M483.1 516.2l4.6 4.6m0 -4.6l-4.6 4.6M489.4 520.1h5.8M492.3 517.2v5.8M490 517.8l4.6 4.6m0 -4.6l-4.6 4.6M496.3 521.8h5.8M499.2 518.9v5.8M496.9 519.5l4.6 4.6m0 -4.6l-4.6 4.6M503.2 524.2h5.8M506.1 521.3v5.8M503.8 521.9l4.6 4.6m0 -4.6l-4.6 4.6M510.1 525.9h5.8M513 523v5.8M510.7 523.6l4.6 4.6m0 -4.6l-4.6 4.6M517 528h5.8M519.9 525.1v5.8M517.6 525.7l4.6 4.6m0 -4.6l-4.6 4.6M523.9 529.2h5.8M526.8 526.3v5.8M524.5 526.9l4.6 4.6m0 -4.6l-4.6 4.6M530.8 530.8h5.8M533.7 527.9v5.8M531.4 528.5l4.6 4.6m0 -4.6l-4.6 4.6M537.6 533h5.8M540.5 530.1v5.8M538.2 530.7l4.6 4.6m0 -4.6l-4.6 4.6M544.5 534.1h5.8M547.4 531.2v5.8M545.1 531.8l4.6 4.6m0 -4.6l-4.6 4.6M551.4 534.9h5.8M554.3 532v5.8M552 532.6l4.6 4.6m0 -4.6l-4.6 4.6M558.3 536.2h5.8M561.2 533.3v5.8M558.9 533.9l4.6 4.6m0 -4.6l-4.6 4.6M565.2 537.4h5.8M568.1 534.5v5.8M565.8 535.1l4.6 4.6m0 -4.6l-4.6 4.6M572.1 538.2h5.8M575 535.3v5.8M572.7 535.9l4.6 4.6m0 -4.6l-4.6 4.6" stroke="#ff0000" stroke-width="1.1"/>
</g>
<path d="M409.1 464H576M409.1 582H576M575 464V582" stroke="#ff0000" stroke-width="2" fill="none"/>
<path d="M409.6 464V582" stroke="#ff0000" stroke-width="1.1" fill="none"/>
<g fill="#ff0000"><text x="405.3" y="584.9" text-anchor="end">16</text><text x="405.3" y="560.02" text-anchor="end">36</text><text x="405.3" y="535.15" text-anchor="end">56</text><text x="405.3" y="510.27" text-anchor="end">76</text><text x="405.3" y="485.4" text-anchor="end">96</text><text x="409.6" y="592.7" text-anchor="middle">0</text><text x="437.17" y="592.7" text-anchor="middle">4</text><text x="464.73" y="592.7" text-anchor="middle">8</text><text x="492.3" y="592.7" text-anchor="middle">12</text><text x="519.87" y="592.7" text-anchor="middle">16</text><text x="547.43" y="592.7" text-anchor="middle">20</text><text x="575" y="592.7" text-anchor="middle">24</text><text x="492.3" y="606.6" text-anchor="middle" class="t" clip-path="url(#lc3)">Central</text></g>
<path d="M602.6 557.5H768M602.6 532.5H768M602.6 507.5H768M602.6 482.5H768" stroke="#000" stroke-width="1" stroke-dasharray="1.3 1.77"/>
<path d="M630.17 464V582M657.73 464V582M685.3 464V582M712.87 464V582M740.43 464V582" stroke="#000" stroke-width="1" stroke-dasharray="1 2.07"/>
<path d="M602.6 582.5h5.5M768 582.5h-5.5M602.6 569.5h4.2M768 569.5h-4.2M602.6 557.5h5.5M768 557.5h-5.5M602.6 544.5h4.2M768 544.5h-4.2M602.6 532.5h5.5M768 532.5h-5.5M602.6 519.5h4.2M768 519.5h-4.2M602.6 507.5h5.5M768 507.5h-5.5M602.6 494.5h4.2M768 494.5h-4.2M602.6 482.5h5.5M768 482.5h-5.5M602.6 470.5h4.2M768 470.5h-4.2M602.6 582v-5M602.6 464v5M616.38 582v-3.8M616.38 464v3.8M630.17 582v-5M630.17 464v5M643.95 582v-3.8M643.95 464v3.8M657.73 582v-5M657.73 464v5M671.52 582v-3.8M671.52 464v3.8M685.3 582v-5M685.3 464v5M699.08 582v-3.8M699.08 464v3.8M712.87 582v-5M712.87 464v5M726.65 582v-3.8M726.65 464v3.8M740.43 582v-5M740.43 464v5M754.22 582v-3.8M754.22 464v3.8M768 582v-5M768 464v5" stroke="#ff0000" stroke-width="1"/>
<g clip-path="url(#cp33)" fill="none">
<path d="M602.6 500.8 609.5 500.1 616.4 499.1 623.3 497.5 630.2 495.8 637.1 494.7 644 493 650.8 490.9 657.7 489.3 664.6 486.5 671.5 479.9 678.4 478.7 685.3 477 692.2 475.5 699.1 472.8 706 470.9 712.9 468.9 719.8 467.2 726.7 465.9 733.5 465.9 740.4 465.6 747.3 465.6 754.2 465.6 761.1 465.6 768 465.6M599.7 500.8h5.8M602.6 497.9v5.8M600.3 498.5l4.6 4.6m0 -4.6l-4.6 4.6M606.6 500.1h5.8M609.5 497.2v5.8M607.2 497.8l4.6 4.6m0 -4.6l-4.6 4.6M613.5 499.1h5.8M616.4 496.2v5.8M614.1 496.8l4.6 4.6m0 -4.6l-4.6 4.6M620.4 497.5h5.8M623.3 494.6v5.8M621 495.2l4.6 4.6m0 -4.6l-4.6 4.6M627.3 495.8h5.8M630.2 492.9v5.8M627.9 493.5l4.6 4.6m0 -4.6l-4.6 4.6M634.2 494.7h5.8M637.1 491.8v5.8M634.8 492.4l4.6 4.6m0 -4.6l-4.6 4.6M641.1 493h5.8M644 490.1v5.8M641.7 490.7l4.6 4.6m0 -4.6l-4.6 4.6M647.9 490.9h5.8M650.8 488v5.8M648.5 488.6l4.6 4.6m0 -4.6l-4.6 4.6M654.8 489.3h5.8M657.7 486.4v5.8M655.4 487l4.6 4.6m0 -4.6l-4.6 4.6M661.7 486.5h5.8M664.6 483.6v5.8M662.3 484.2l4.6 4.6m0 -4.6l-4.6 4.6M668.6 479.9h5.8M671.5 477v5.8M669.2 477.6l4.6 4.6m0 -4.6l-4.6 4.6M675.5 478.7h5.8M678.4 475.8v5.8M676.1 476.4l4.6 4.6m0 -4.6l-4.6 4.6M682.4 477h5.8M685.3 474.1v5.8M683 474.7l4.6 4.6m0 -4.6l-4.6 4.6M689.3 475.5h5.8M692.2 472.6v5.8M689.9 473.2l4.6 4.6m0 -4.6l-4.6 4.6M696.2 472.8h5.8M699.1 469.9v5.8M696.8 470.5l4.6 4.6m0 -4.6l-4.6 4.6M703.1 470.9h5.8M706 468v5.8M703.7 468.6l4.6 4.6m0 -4.6l-4.6 4.6M710 468.9h5.8M712.9 466v5.8M710.6 466.6l4.6 4.6m0 -4.6l-4.6 4.6M716.9 467.2h5.8M719.8 464.3v5.8M717.5 464.9l4.6 4.6m0 -4.6l-4.6 4.6M723.8 465.9h5.8M726.7 463v5.8M724.4 463.6l4.6 4.6m0 -4.6l-4.6 4.6M730.6 465.9h5.8M733.5 463v5.8M731.2 463.6l4.6 4.6m0 -4.6l-4.6 4.6M737.5 465.6h5.8M740.4 462.7v5.8M738.1 463.3l4.6 4.6m0 -4.6l-4.6 4.6M744.4 465.6h5.8M747.3 462.7v5.8M745 463.3l4.6 4.6m0 -4.6l-4.6 4.6M751.3 465.6h5.8M754.2 462.7v5.8M751.9 463.3l4.6 4.6m0 -4.6l-4.6 4.6M758.2 465.6h5.8M761.1 462.7v5.8M758.8 463.3l4.6 4.6m0 -4.6l-4.6 4.6M765.1 465.6h5.8M768 462.7v5.8M765.7 463.3l4.6 4.6m0 -4.6l-4.6 4.6" stroke="#00ffff" stroke-width="1.1"/>
<path d="M602.6 464.6 609.5 465.1 616.4 465.6 623.3 465.6 630.2 465.6 637.1 465.9 644 465.9 650.8 466.7 657.7 466.7 664.6 467.6 671.5 470.5 678.4 472.2 685.3 473.8 692.2 476.1 699.1 477.4 706 482.4 712.9 488.9 719.8 496.3 726.7 504 733.5 507.8 740.4 511.6 747.3 513.9 754.2 516.9 761.1 518.5 768 519.3M599.7 464.6h5.8M602.6 461.7v5.8M600.3 462.3l4.6 4.6m0 -4.6l-4.6 4.6M606.6 465.1h5.8M609.5 462.2v5.8M607.2 462.8l4.6 4.6m0 -4.6l-4.6 4.6M613.5 465.6h5.8M616.4 462.7v5.8M614.1 463.3l4.6 4.6m0 -4.6l-4.6 4.6M620.4 465.6h5.8M623.3 462.7v5.8M621 463.3l4.6 4.6m0 -4.6l-4.6 4.6M627.3 465.6h5.8M630.2 462.7v5.8M627.9 463.3l4.6 4.6m0 -4.6l-4.6 4.6M634.2 465.9h5.8M637.1 463v5.8M634.8 463.6l4.6 4.6m0 -4.6l-4.6 4.6M641.1 465.9h5.8M644 463v5.8M641.7 463.6l4.6 4.6m0 -4.6l-4.6 4.6M647.9 466.7h5.8M650.8 463.8v5.8M648.5 464.4l4.6 4.6m0 -4.6l-4.6 4.6M654.8 466.7h5.8M657.7 463.8v5.8M655.4 464.4l4.6 4.6m0 -4.6l-4.6 4.6M661.7 467.6h5.8M664.6 464.7v5.8M662.3 465.3l4.6 4.6m0 -4.6l-4.6 4.6M668.6 470.5h5.8M671.5 467.6v5.8M669.2 468.2l4.6 4.6m0 -4.6l-4.6 4.6M675.5 472.2h5.8M678.4 469.3v5.8M676.1 469.9l4.6 4.6m0 -4.6l-4.6 4.6M682.4 473.8h5.8M685.3 470.9v5.8M683 471.5l4.6 4.6m0 -4.6l-4.6 4.6M689.3 476.1h5.8M692.2 473.2v5.8M689.9 473.8l4.6 4.6m0 -4.6l-4.6 4.6M696.2 477.4h5.8M699.1 474.5v5.8M696.8 475.1l4.6 4.6m0 -4.6l-4.6 4.6M703.1 482.4h5.8M706 479.5v5.8M703.7 480.1l4.6 4.6m0 -4.6l-4.6 4.6M710 488.9h5.8M712.9 486v5.8M710.6 486.6l4.6 4.6m0 -4.6l-4.6 4.6M716.9 496.3h5.8M719.8 493.4v5.8M717.5 494l4.6 4.6m0 -4.6l-4.6 4.6M723.8 504h5.8M726.7 501.1v5.8M724.4 501.7l4.6 4.6m0 -4.6l-4.6 4.6M730.6 507.8h5.8M733.5 504.9v5.8M731.2 505.5l4.6 4.6m0 -4.6l-4.6 4.6M737.5 511.6h5.8M740.4 508.7v5.8M738.1 509.3l4.6 4.6m0 -4.6l-4.6 4.6M744.4 513.9h5.8M747.3 511v5.8M745 511.6l4.6 4.6m0 -4.6l-4.6 4.6M751.3 516.9h5.8M754.2 514v5.8M751.9 514.6l4.6 4.6m0 -4.6l-4.6 4.6M758.2 518.5h5.8M761.1 515.6v5.8M758.8 516.2l4.6 4.6m0 -4.6l-4.6 4.6M765.1 519.3h5.8M768 516.4v5.8M765.7 517l4.6 4.6m0 -4.6l-4.6 4.6" stroke="#00ff00" stroke-width="1.1"/>
<path d="M602.6 518.8 609.5 521 616.4 523.4 623.3 525.1 630.2 525.9 637.1 526.7 644 527.5 650.8 528.4 657.7 529.2 664.6 529.7 671.5 528.7 678.4 528.4 685.3 528.2 692.2 528.4 699.1 528 706 528 712.9 528 719.8 528 726.7 528 733.5 528.4 740.4 528.4 747.3 529.2 754.2 529.2 761.1 528.4 768 528.4M599.7 518.8h5.8M602.6 515.9v5.8M600.3 516.5l4.6 4.6m0 -4.6l-4.6 4.6M606.6 521h5.8M609.5 518.1v5.8M607.2 518.7l4.6 4.6m0 -4.6l-4.6 4.6M613.5 523.4h5.8M616.4 520.5v5.8M614.1 521.1l4.6 4.6m0 -4.6l-4.6 4.6M620.4 525.1h5.8M623.3 522.2v5.8M621 522.8l4.6 4.6m0 -4.6l-4.6 4.6M627.3 525.9h5.8M630.2 523v5.8M627.9 523.6l4.6 4.6m0 -4.6l-4.6 4.6M634.2 526.7h5.8M637.1 523.8v5.8M634.8 524.4l4.6 4.6m0 -4.6l-4.6 4.6M641.1 527.5h5.8M644 524.6v5.8M641.7 525.2l4.6 4.6m0 -4.6l-4.6 4.6M647.9 528.4h5.8M650.8 525.5v5.8M648.5 526.1l4.6 4.6m0 -4.6l-4.6 4.6M654.8 529.2h5.8M657.7 526.3v5.8M655.4 526.9l4.6 4.6m0 -4.6l-4.6 4.6M661.7 529.7h5.8M664.6 526.8v5.8M662.3 527.4l4.6 4.6m0 -4.6l-4.6 4.6M668.6 528.7h5.8M671.5 525.8v5.8M669.2 526.4l4.6 4.6m0 -4.6l-4.6 4.6M675.5 528.4h5.8M678.4 525.5v5.8M676.1 526.1l4.6 4.6m0 -4.6l-4.6 4.6M682.4 528.2h5.8M685.3 525.3v5.8M683 525.9l4.6 4.6m0 -4.6l-4.6 4.6M689.3 528.4h5.8M692.2 525.5v5.8M689.9 526.1l4.6 4.6m0 -4.6l-4.6 4.6M696.2 528h5.8M699.1 525.1v5.8M696.8 525.7l4.6 4.6m0 -4.6l-4.6 4.6M703.1 528h5.8M706 525.1v5.8M703.7 525.7l4.6 4.6m0 -4.6l-4.6 4.6M710 528h5.8M712.9 525.1v5.8M710.6 525.7l4.6 4.6m0 -4.6l-4.6 4.6M716.9 528h5.8M719.8 525.1v5.8M717.5 525.7l4.6 4.6m0 -4.6l-4.6 4.6M723.8 528h5.8M726.7 525.1v5.8M724.4 525.7l4.6 4.6m0 -4.6l-4.6 4.6M730.6 528.4h5.8M733.5 525.5v5.8M731.2 526.1l4.6 4.6m0 -4.6l-4.6 4.6M737.5 528.4h5.8M740.4 525.5v5.8M738.1 526.1l4.6 4.6m0 -4.6l-4.6 4.6M744.4 529.2h5.8M747.3 526.3v5.8M745 526.9l4.6 4.6m0 -4.6l-4.6 4.6M751.3 529.2h5.8M754.2 526.3v5.8M751.9 526.9l4.6 4.6m0 -4.6l-4.6 4.6M758.2 528.4h5.8M761.1 525.5v5.8M758.8 526.1l4.6 4.6m0 -4.6l-4.6 4.6M765.1 528.4h5.8M768 525.5v5.8M765.7 526.1l4.6 4.6m0 -4.6l-4.6 4.6" stroke="#0000ff" stroke-width="1.1"/>
<path d="M602.6 528.4 609.5 527 616.4 525.9 623.3 525.4 630.2 525.1 637.1 525.1 644 524.7 650.8 524.2 657.7 524.7 664.6 525.9 671.5 527.5 678.4 529.2 685.3 530.4 692.2 533.3 699.1 534.9 706 536.2 712.9 536.6 719.8 536.6 726.7 536.9 733.5 536.9 740.4 536.2 747.3 535.7 754.2 535.7 761.1 536.6 768 536.9M599.7 528.4h5.8M602.6 525.5v5.8M600.3 526.1l4.6 4.6m0 -4.6l-4.6 4.6M606.6 527h5.8M609.5 524.1v5.8M607.2 524.7l4.6 4.6m0 -4.6l-4.6 4.6M613.5 525.9h5.8M616.4 523v5.8M614.1 523.6l4.6 4.6m0 -4.6l-4.6 4.6M620.4 525.4h5.8M623.3 522.5v5.8M621 523.1l4.6 4.6m0 -4.6l-4.6 4.6M627.3 525.1h5.8M630.2 522.2v5.8M627.9 522.8l4.6 4.6m0 -4.6l-4.6 4.6M634.2 525.1h5.8M637.1 522.2v5.8M634.8 522.8l4.6 4.6m0 -4.6l-4.6 4.6M641.1 524.7h5.8M644 521.8v5.8M641.7 522.4l4.6 4.6m0 -4.6l-4.6 4.6M647.9 524.2h5.8M650.8 521.3v5.8M648.5 521.9l4.6 4.6m0 -4.6l-4.6 4.6M654.8 524.7h5.8M657.7 521.8v5.8M655.4 522.4l4.6 4.6m0 -4.6l-4.6 4.6M661.7 525.9h5.8M664.6 523v5.8M662.3 523.6l4.6 4.6m0 -4.6l-4.6 4.6M668.6 527.5h5.8M671.5 524.6v5.8M669.2 525.2l4.6 4.6m0 -4.6l-4.6 4.6M675.5 529.2h5.8M678.4 526.3v5.8M676.1 526.9l4.6 4.6m0 -4.6l-4.6 4.6M682.4 530.4h5.8M685.3 527.5v5.8M683 528.1l4.6 4.6m0 -4.6l-4.6 4.6M689.3 533.3h5.8M692.2 530.4v5.8M689.9 531l4.6 4.6m0 -4.6l-4.6 4.6M696.2 534.9h5.8M699.1 532v5.8M696.8 532.6l4.6 4.6m0 -4.6l-4.6 4.6M703.1 536.2h5.8M706 533.3v5.8M703.7 533.9l4.6 4.6m0 -4.6l-4.6 4.6M710 536.6h5.8M712.9 533.7v5.8M710.6 534.3l4.6 4.6m0 -4.6l-4.6 4.6M716.9 536.6h5.8M719.8 533.7v5.8M717.5 534.3l4.6 4.6m0 -4.6l-4.6 4.6M723.8 536.9h5.8M726.7 534v5.8M724.4 534.6l4.6 4.6m0 -4.6l-4.6 4.6M730.6 536.9h5.8M733.5 534v5.8M731.2 534.6l4.6 4.6m0 -4.6l-4.6 4.6M737.5 536.2h5.8M740.4 533.3v5.8M738.1 533.9l4.6 4.6m0 -4.6l-4.6 4.6M744.4 535.7h5.8M747.3 532.8v5.8M745 533.4l4.6 4.6m0 -4.6l-4.6 4.6M751.3 535.7h5.8M754.2 532.8v5.8M751.9 533.4l4.6 4.6m0 -4.6l-4.6 4.6M758.2 536.6h5.8M761.1 533.7v5.8M758.8 534.3l4.6 4.6m0 -4.6l-4.6 4.6M765.1 536.9h5.8M768 534v5.8M765.7 534.6l4.6 4.6m0 -4.6l-4.6 4.6" stroke="#ff0000" stroke-width="1.1"/>
</g>
<path d="M602.1 464H769M602.1 582H769M768 464V582" stroke="#ff0000" stroke-width="2" fill="none"/>
<path d="M602.6 464V582" stroke="#ff0000" stroke-width="1.1" fill="none"/>
<g fill="#ff0000"><text x="598.3" y="584.9" text-anchor="end">16</text><text x="598.3" y="560.02" text-anchor="end">36</text><text x="598.3" y="535.15" text-anchor="end">56</text><text x="598.3" y="510.27" text-anchor="end">76</text><text x="598.3" y="485.4" text-anchor="end">96</text><text x="602.6" y="592.7" text-anchor="middle">0</text><text x="630.17" y="592.7" text-anchor="middle">4</text><text x="657.73" y="592.7" text-anchor="middle">8</text><text x="685.3" y="592.7" text-anchor="middle">12</text><text x="712.87" y="592.7" text-anchor="middle">16</text><text x="740.43" y="592.7" text-anchor="middle">20</text><text x="768" y="592.7" text-anchor="middle">24</text><text x="685.3" y="606.6" text-anchor="middle" class="t" clip-path="url(#lc3)">Causeway Bay</text></g>
<path d="M795.6 557.5H961M795.6 532.5H961M795.6 507.5H961M795.6 482.5H961" stroke="#000" stroke-width="1" stroke-dasharray="1.3 1.77"/>
<path d="M823.17 464V582M850.73 464V582M878.3 464V582M905.87 464V582M933.43 464V582" stroke="#000" stroke-width="1" stroke-dasharray="1 2.07"/>
<path d="M795.6 582.5h5.5M961 582.5h-5.5M795.6 569.5h4.2M961 569.5h-4.2M795.6 557.5h5.5M961 557.5h-5.5M795.6 544.5h4.2M961 544.5h-4.2M795.6 532.5h5.5M961 532.5h-5.5M795.6 519.5h4.2M961 519.5h-4.2M795.6 507.5h5.5M961 507.5h-5.5M795.6 494.5h4.2M961 494.5h-4.2M795.6 482.5h5.5M961 482.5h-5.5M795.6 470.5h4.2M961 470.5h-4.2M795.6 582v-5M795.6 464v5M809.38 582v-3.8M809.38 464v3.8M823.17 582v-5M823.17 464v5M836.95 582v-3.8M836.95 464v3.8M850.73 582v-5M850.73 464v5M864.52 582v-3.8M864.52 464v3.8M878.3 582v-5M878.3 464v5M892.08 582v-3.8M892.08 464v3.8M905.87 582v-5M905.87 464v5M919.65 582v-3.8M919.65 464v3.8M933.43 582v-5M933.43 464v5M947.22 582v-3.8M947.22 464v3.8M961 582v-5M961 464v5" stroke="#000000" stroke-width="1"/>
<g clip-path="url(#cp34)" fill="none">
<path d="M795.6 553.5 802.5 553 809.4 552.8 816.3 552.3 823.2 551.8 830.1 551.5 837 551.3 843.8 551.3 850.7 551.3 857.6 551 864.5 550.5 871.4 549.7 878.3 549 885.2 548.9 892.1 548.1 899 547.2 905.9 546.8 912.8 546.1 919.7 545.6 926.5 546.8 933.4 547.2 940.3 549.7 947.2 551 954.1 552.2 961 552.7M792.7 553.5h5.8M795.6 550.6v5.8M793.3 551.2l4.6 4.6m0 -4.6l-4.6 4.6M799.6 553h5.8M802.5 550.1v5.8M800.2 550.7l4.6 4.6m0 -4.6l-4.6 4.6M806.5 552.8h5.8M809.4 549.9v5.8M807.1 550.5l4.6 4.6m0 -4.6l-4.6 4.6M813.4 552.3h5.8M816.3 549.4v5.8M814 550l4.6 4.6m0 -4.6l-4.6 4.6M820.3 551.8h5.8M823.2 548.9v5.8M820.9 549.5l4.6 4.6m0 -4.6l-4.6 4.6M827.2 551.5h5.8M830.1 548.6v5.8M827.8 549.2l4.6 4.6m0 -4.6l-4.6 4.6M834.1 551.3h5.8M837 548.4v5.8M834.7 549l4.6 4.6m0 -4.6l-4.6 4.6M840.9 551.3h5.8M843.8 548.4v5.8M841.5 549l4.6 4.6m0 -4.6l-4.6 4.6M847.8 551.3h5.8M850.7 548.4v5.8M848.4 549l4.6 4.6m0 -4.6l-4.6 4.6M854.7 551h5.8M857.6 548.1v5.8M855.3 548.7l4.6 4.6m0 -4.6l-4.6 4.6M861.6 550.5h5.8M864.5 547.6v5.8M862.2 548.2l4.6 4.6m0 -4.6l-4.6 4.6M868.5 549.7h5.8M871.4 546.8v5.8M869.1 547.4l4.6 4.6m0 -4.6l-4.6 4.6M875.4 549h5.8M878.3 546.1v5.8M876 546.7l4.6 4.6m0 -4.6l-4.6 4.6M882.3 548.9h5.8M885.2 546v5.8M882.9 546.6l4.6 4.6m0 -4.6l-4.6 4.6M889.2 548.1h5.8M892.1 545.2v5.8M889.8 545.8l4.6 4.6m0 -4.6l-4.6 4.6M896.1 547.2h5.8M899 544.3v5.8M896.7 544.9l4.6 4.6m0 -4.6l-4.6 4.6M903 546.8h5.8M905.9 543.9v5.8M903.6 544.5l4.6 4.6m0 -4.6l-4.6 4.6M909.9 546.1h5.8M912.8 543.2v5.8M910.5 543.8l4.6 4.6m0 -4.6l-4.6 4.6M916.8 545.6h5.8M919.7 542.7v5.8M917.4 543.3l4.6 4.6m0 -4.6l-4.6 4.6M923.6 546.8h5.8M926.5 543.9v5.8M924.2 544.5l4.6 4.6m0 -4.6l-4.6 4.6M930.5 547.2h5.8M933.4 544.3v5.8M931.1 544.9l4.6 4.6m0 -4.6l-4.6 4.6M937.4 549.7h5.8M940.3 546.8v5.8M938 547.4l4.6 4.6m0 -4.6l-4.6 4.6M944.3 551h5.8M947.2 548.1v5.8M944.9 548.7l4.6 4.6m0 -4.6l-4.6 4.6M951.2 552.2h5.8M954.1 549.3v5.8M951.8 549.9l4.6 4.6m0 -4.6l-4.6 4.6M958.1 552.7h5.8M961 549.8v5.8M958.7 550.4l4.6 4.6m0 -4.6l-4.6 4.6" stroke="#00ffff" stroke-width="1.1"/>
<path d="M795.6 555.5 802.5 556 809.4 556.6 816.3 557.1 823.2 557.6 830.1 557.6 837 557.1 843.8 556.6 850.7 556.3 857.6 556.6 864.5 557.1 871.4 559.2 878.3 560.6 885.2 561.5 892.1 562 899 562.5 905.9 564.2 912.8 565.3 919.7 566.1 926.5 566.5 933.4 565.3 940.3 564.8 947.2 564.8 954.1 564.8 961 564.5M792.7 555.5h5.8M795.6 552.6v5.8M793.3 553.2l4.6 4.6m0 -4.6l-4.6 4.6M799.6 556h5.8M802.5 553.1v5.8M800.2 553.7l4.6 4.6m0 -4.6l-4.6 4.6M806.5 556.6h5.8M809.4 553.7v5.8M807.1 554.3l4.6 4.6m0 -4.6l-4.6 4.6M813.4 557.1h5.8M816.3 554.2v5.8M814 554.8l4.6 4.6m0 -4.6l-4.6 4.6M820.3 557.6h5.8M823.2 554.7v5.8M820.9 555.3l4.6 4.6m0 -4.6l-4.6 4.6M827.2 557.6h5.8M830.1 554.7v5.8M827.8 555.3l4.6 4.6m0 -4.6l-4.6 4.6M834.1 557.1h5.8M837 554.2v5.8M834.7 554.8l4.6 4.6m0 -4.6l-4.6 4.6M840.9 556.6h5.8M843.8 553.7v5.8M841.5 554.3l4.6 4.6m0 -4.6l-4.6 4.6M847.8 556.3h5.8M850.7 553.4v5.8M848.4 554l4.6 4.6m0 -4.6l-4.6 4.6M854.7 556.6h5.8M857.6 553.7v5.8M855.3 554.3l4.6 4.6m0 -4.6l-4.6 4.6M861.6 557.1h5.8M864.5 554.2v5.8M862.2 554.8l4.6 4.6m0 -4.6l-4.6 4.6M868.5 559.2h5.8M871.4 556.3v5.8M869.1 556.9l4.6 4.6m0 -4.6l-4.6 4.6M875.4 560.6h5.8M878.3 557.7v5.8M876 558.3l4.6 4.6m0 -4.6l-4.6 4.6M882.3 561.5h5.8M885.2 558.6v5.8M882.9 559.2l4.6 4.6m0 -4.6l-4.6 4.6M889.2 562h5.8M892.1 559.1v5.8M889.8 559.7l4.6 4.6m0 -4.6l-4.6 4.6M896.1 562.5h5.8M899 559.6v5.8M896.7 560.2l4.6 4.6m0 -4.6l-4.6 4.6M903 564.2h5.8M905.9 561.3v5.8M903.6 561.9l4.6 4.6m0 -4.6l-4.6 4.6M909.9 565.3h5.8M912.8 562.4v5.8M910.5 563l4.6 4.6m0 -4.6l-4.6 4.6M916.8 566.1h5.8M919.7 563.2v5.8M917.4 563.8l4.6 4.6m0 -4.6l-4.6 4.6M923.6 566.5h5.8M926.5 563.6v5.8M924.2 564.2l4.6 4.6m0 -4.6l-4.6 4.6M930.5 565.3h5.8M933.4 562.4v5.8M931.1 563l4.6 4.6m0 -4.6l-4.6 4.6M937.4 564.8h5.8M940.3 561.9v5.8M938 562.5l4.6 4.6m0 -4.6l-4.6 4.6M944.3 564.8h5.8M947.2 561.9v5.8M944.9 562.5l4.6 4.6m0 -4.6l-4.6 4.6M951.2 564.8h5.8M954.1 561.9v5.8M951.8 562.5l4.6 4.6m0 -4.6l-4.6 4.6M958.1 564.5h5.8M961 561.6v5.8M958.7 562.2l4.6 4.6m0 -4.6l-4.6 4.6" stroke="#00ff00" stroke-width="1.1"/>
<path d="M795.6 564.2 802.5 564.2 809.4 563.7 816.3 563.7 823.2 564.5 830.1 565.3 837 566.1 843.8 567 850.7 567.5 857.6 567.5 864.5 566.1 871.4 564.8 878.3 564.5 885.2 563.7 892.1 562 899 560.4 905.9 559.2 912.8 558.3 919.7 557.9 926.5 557.1 933.4 556.3 940.3 555.5 947.2 555 954.1 554.6 961 554.6M792.7 564.2h5.8M795.6 561.3v5.8M793.3 561.9l4.6 4.6m0 -4.6l-4.6 4.6M799.6 564.2h5.8M802.5 561.3v5.8M800.2 561.9l4.6 4.6m0 -4.6l-4.6 4.6M806.5 563.7h5.8M809.4 560.8v5.8M807.1 561.4l4.6 4.6m0 -4.6l-4.6 4.6M813.4 563.7h5.8M816.3 560.8v5.8M814 561.4l4.6 4.6m0 -4.6l-4.6 4.6M820.3 564.5h5.8M823.2 561.6v5.8M820.9 562.2l4.6 4.6m0 -4.6l-4.6 4.6M827.2 565.3h5.8M830.1 562.4v5.8M827.8 563l4.6 4.6m0 -4.6l-4.6 4.6M834.1 566.1h5.8M837 563.2v5.8M834.7 563.8l4.6 4.6m0 -4.6l-4.6 4.6M840.9 567h5.8M843.8 564.1v5.8M841.5 564.7l4.6 4.6m0 -4.6l-4.6 4.6M847.8 567.5h5.8M850.7 564.6v5.8M848.4 565.2l4.6 4.6m0 -4.6l-4.6 4.6M854.7 567.5h5.8M857.6 564.6v5.8M855.3 565.2l4.6 4.6m0 -4.6l-4.6 4.6M861.6 566.1h5.8M864.5 563.2v5.8M862.2 563.8l4.6 4.6m0 -4.6l-4.6 4.6M868.5 564.8h5.8M871.4 561.9v5.8M869.1 562.5l4.6 4.6m0 -4.6l-4.6 4.6M875.4 564.5h5.8M878.3 561.6v5.8M876 562.2l4.6 4.6m0 -4.6l-4.6 4.6M882.3 563.7h5.8M885.2 560.8v5.8M882.9 561.4l4.6 4.6m0 -4.6l-4.6 4.6M889.2 562h5.8M892.1 559.1v5.8M889.8 559.7l4.6 4.6m0 -4.6l-4.6 4.6M896.1 560.4h5.8M899 557.5v5.8M896.7 558.1l4.6 4.6m0 -4.6l-4.6 4.6M903 559.2h5.8M905.9 556.3v5.8M903.6 556.9l4.6 4.6m0 -4.6l-4.6 4.6M909.9 558.3h5.8M912.8 555.4v5.8M910.5 556l4.6 4.6m0 -4.6l-4.6 4.6M916.8 557.9h5.8M919.7 555v5.8M917.4 555.6l4.6 4.6m0 -4.6l-4.6 4.6M923.6 557.1h5.8M926.5 554.2v5.8M924.2 554.8l4.6 4.6m0 -4.6l-4.6 4.6M930.5 556.3h5.8M933.4 553.4v5.8M931.1 554l4.6 4.6m0 -4.6l-4.6 4.6M937.4 555.5h5.8M940.3 552.6v5.8M938 553.2l4.6 4.6m0 -4.6l-4.6 4.6M944.3 555h5.8M947.2 552.1v5.8M944.9 552.7l4.6 4.6m0 -4.6l-4.6 4.6M951.2 554.6h5.8M954.1 551.7v5.8M951.8 552.3l4.6 4.6m0 -4.6l-4.6 4.6M958.1 554.6h5.8M961 551.7v5.8M958.7 552.3l4.6 4.6m0 -4.6l-4.6 4.6" stroke="#0000ff" stroke-width="1.1"/>
<path d="M795.6 554.6 802.5 553.3 809.4 553 816.3 552.2 823.2 551.4 830.1 551 837 551 843.8 551 850.7 551.4 857.6 551.7 864.5 552.7 871.4 553.8 878.3 555 885.2 556.3 892.1 557.6 899 559.2 905.9 560.4 912.8 562 919.7 563.2 926.5 563.7 933.4 564.2 940.3 564.5 947.2 564.8 954.1 565.3 961 565.8M792.7 554.6h5.8M795.6 551.7v5.8M793.3 552.3l4.6 4.6m0 -4.6l-4.6 4.6M799.6 553.3h5.8M802.5 550.4v5.8M800.2 551l4.6 4.6m0 -4.6l-4.6 4.6M806.5 553h5.8M809.4 550.1v5.8M807.1 550.7l4.6 4.6m0 -4.6l-4.6 4.6M813.4 552.2h5.8M816.3 549.3v5.8M814 549.9l4.6 4.6m0 -4.6l-4.6 4.6M820.3 551.4h5.8M823.2 548.5v5.8M820.9 549.1l4.6 4.6m0 -4.6l-4.6 4.6M827.2 551h5.8M830.1 548.1v5.8M827.8 548.7l4.6 4.6m0 -4.6l-4.6 4.6M834.1 551h5.8M837 548.1v5.8M834.7 548.7l4.6 4.6m0 -4.6l-4.6 4.6M840.9 551h5.8M843.8 548.1v5.8M841.5 548.7l4.6 4.6m0 -4.6l-4.6 4.6M847.8 551.4h5.8M850.7 548.5v5.8M848.4 549.1l4.6 4.6m0 -4.6l-4.6 4.6M854.7 551.7h5.8M857.6 548.8v5.8M855.3 549.4l4.6 4.6m0 -4.6l-4.6 4.6M861.6 552.7h5.8M864.5 549.8v5.8M862.2 550.4l4.6 4.6m0 -4.6l-4.6 4.6M868.5 553.8h5.8M871.4 550.9v5.8M869.1 551.5l4.6 4.6m0 -4.6l-4.6 4.6M875.4 555h5.8M878.3 552.1v5.8M876 552.7l4.6 4.6m0 -4.6l-4.6 4.6M882.3 556.3h5.8M885.2 553.4v5.8M882.9 554l4.6 4.6m0 -4.6l-4.6 4.6M889.2 557.6h5.8M892.1 554.7v5.8M889.8 555.3l4.6 4.6m0 -4.6l-4.6 4.6M896.1 559.2h5.8M899 556.3v5.8M896.7 556.9l4.6 4.6m0 -4.6l-4.6 4.6M903 560.4h5.8M905.9 557.5v5.8M903.6 558.1l4.6 4.6m0 -4.6l-4.6 4.6M909.9 562h5.8M912.8 559.1v5.8M910.5 559.7l4.6 4.6m0 -4.6l-4.6 4.6M916.8 563.2h5.8M919.7 560.3v5.8M917.4 560.9l4.6 4.6m0 -4.6l-4.6 4.6M923.6 563.7h5.8M926.5 560.8v5.8M924.2 561.4l4.6 4.6m0 -4.6l-4.6 4.6M930.5 564.2h5.8M933.4 561.3v5.8M931.1 561.9l4.6 4.6m0 -4.6l-4.6 4.6M937.4 564.5h5.8M940.3 561.6v5.8M938 562.2l4.6 4.6m0 -4.6l-4.6 4.6M944.3 564.8h5.8M947.2 561.9v5.8M944.9 562.5l4.6 4.6m0 -4.6l-4.6 4.6M951.2 565.3h5.8M954.1 562.4v5.8M951.8 563l4.6 4.6m0 -4.6l-4.6 4.6M958.1 565.8h5.8M961 562.9v5.8M958.7 563.5l4.6 4.6m0 -4.6l-4.6 4.6" stroke="#ff0000" stroke-width="1.1"/>
</g>
<path d="M795.1 464H962M795.1 582H962M961 464V582" stroke="#000000" stroke-width="2" fill="none"/>
<path d="M795.6 464V582" stroke="#000000" stroke-width="1.1" fill="none"/>
<g fill="#000000"><text x="791.3" y="584.9" text-anchor="end">16</text><text x="791.3" y="560.02" text-anchor="end">36</text><text x="791.3" y="535.15" text-anchor="end">56</text><text x="791.3" y="510.27" text-anchor="end">76</text><text x="791.3" y="485.4" text-anchor="end">96</text><text x="795.6" y="592.7" text-anchor="middle">0</text><text x="823.17" y="592.7" text-anchor="middle">4</text><text x="850.73" y="592.7" text-anchor="middle">8</text><text x="878.3" y="592.7" text-anchor="middle">12</text><text x="905.87" y="592.7" text-anchor="middle">16</text><text x="933.43" y="592.7" text-anchor="middle">20</text><text x="961" y="592.7" text-anchor="middle">24</text><text x="878.3" y="606.6" text-anchor="middle" class="t" clip-path="url(#lc3)">Eastern</text></g>
<path d="M23.6 705.5H189M23.6 680.5H189M23.6 655.5H189M23.6 630.5H189" stroke="#000" stroke-width="1" stroke-dasharray="1.3 1.77"/>
<path d="M51.17 612V730M78.73 612V730M106.3 612V730M133.87 612V730M161.43 612V730" stroke="#000" stroke-width="1" stroke-dasharray="1 2.07"/>
<path d="M23.6 730.5h5.5M189 730.5h-5.5M23.6 717.5h4.2M189 717.5h-4.2M23.6 705.5h5.5M189 705.5h-5.5M23.6 692.5h4.2M189 692.5h-4.2M23.6 680.5h5.5M189 680.5h-5.5M23.6 667.5h4.2M189 667.5h-4.2M23.6 655.5h5.5M189 655.5h-5.5M23.6 642.5h4.2M189 642.5h-4.2M23.6 630.5h5.5M189 630.5h-5.5M23.6 618.5h4.2M189 618.5h-4.2M23.6 730v-5M23.6 612v5M37.38 730v-3.8M37.38 612v3.8M51.17 730v-5M51.17 612v5M64.95 730v-3.8M64.95 612v3.8M78.73 730v-5M78.73 612v5M92.52 730v-3.8M92.52 612v3.8M106.3 730v-5M106.3 612v5M120.08 730v-3.8M120.08 612v3.8M133.87 730v-5M133.87 612v5M147.65 730v-3.8M147.65 612v3.8M161.43 730v-5M161.43 612v5M175.22 730v-3.8M175.22 612v3.8M189 730v-5M189 612v5" stroke="#000000" stroke-width="1"/>
<g clip-path="url(#cp40)" fill="none">
<path d="M23.6 708.4 30.5 707.9 37.4 707.6 44.3 706.3 51.2 703.5 58.1 700.2 65 698.5 71.8 696.9 78.7 695.2 85.6 693.6 92.5 692 99.4 690.3 106.3 689.1 113.2 687 120.1 684.9 127 683.3 133.9 682.1 140.8 681.3 147.7 680.5 154.5 679.3 161.4 672.2 168.3 670.6 175.2 673.1 182.1 681.3 189 679.6M20.7 708.4h5.8M23.6 705.5v5.8M21.3 706.1l4.6 4.6m0 -4.6l-4.6 4.6M27.6 707.9h5.8M30.5 705v5.8M28.2 705.6l4.6 4.6m0 -4.6l-4.6 4.6M34.5 707.6h5.8M37.4 704.7v5.8M35.1 705.3l4.6 4.6m0 -4.6l-4.6 4.6M41.4 706.3h5.8M44.3 703.4v5.8M42 704l4.6 4.6m0 -4.6l-4.6 4.6M48.3 703.5h5.8M51.2 700.6v5.8M48.9 701.2l4.6 4.6m0 -4.6l-4.6 4.6M55.2 700.2h5.8M58.1 697.3v5.8M55.8 697.9l4.6 4.6m0 -4.6l-4.6 4.6M62.1 698.5h5.8M65 695.6v5.8M62.7 696.2l4.6 4.6m0 -4.6l-4.6 4.6M68.9 696.9h5.8M71.8 694v5.8M69.5 694.6l4.6 4.6m0 -4.6l-4.6 4.6M75.8 695.2h5.8M78.7 692.3v5.8M76.4 692.9l4.6 4.6m0 -4.6l-4.6 4.6M82.7 693.6h5.8M85.6 690.7v5.8M83.3 691.3l4.6 4.6m0 -4.6l-4.6 4.6M89.6 692h5.8M92.5 689.1v5.8M90.2 689.7l4.6 4.6m0 -4.6l-4.6 4.6M96.5 690.3h5.8M99.4 687.4v5.8M97.1 688l4.6 4.6m0 -4.6l-4.6 4.6M103.4 689.1h5.8M106.3 686.2v5.8M104 686.8l4.6 4.6m0 -4.6l-4.6 4.6M110.3 687h5.8M113.2 684.1v5.8M110.9 684.7l4.6 4.6m0 -4.6l-4.6 4.6M117.2 684.9h5.8M120.1 682v5.8M117.8 682.6l4.6 4.6m0 -4.6l-4.6 4.6M124.1 683.3h5.8M127 680.4v5.8M124.7 681l4.6 4.6m0 -4.6l-4.6 4.6M131 682.1h5.8M133.9 679.2v5.8M131.6 679.8l4.6 4.6m0 -4.6l-4.6 4.6M137.9 681.3h5.8M140.8 678.4v5.8M138.5 679l4.6 4.6m0 -4.6l-4.6 4.6M144.8 680.5h5.8M147.7 677.6v5.8M145.3 678.2l4.6 4.6m0 -4.6l-4.6 4.6M151.6 679.3h5.8M154.5 676.4v5.8M152.2 677l4.6 4.6m0 -4.6l-4.6 4.6M158.5 672.2h5.8M161.4 669.3v5.8M159.1 669.9l4.6 4.6m0 -4.6l-4.6 4.6M165.4 670.6h5.8M168.3 667.7v5.8M166 668.3l4.6 4.6m0 -4.6l-4.6 4.6M172.3 673.1h5.8M175.2 670.2v5.8M172.9 670.8l4.6 4.6m0 -4.6l-4.6 4.6M179.2 681.3h5.8M182.1 678.4v5.8M179.8 679l4.6 4.6m0 -4.6l-4.6 4.6M186.1 679.6h5.8M189 676.7v5.8M186.7 677.3l4.6 4.6m0 -4.6l-4.6 4.6" stroke="#00ffff" stroke-width="1.1"/>
<path d="M23.6 679.6 30.5 679.3 37.4 680 44.3 682.1 51.2 685.4 58.1 688.7 65 691.5 71.8 694.1 78.7 695.2 85.6 696.9 92.5 699.7 99.4 702.6 106.3 704.7 113.2 706.7 120.1 708.4 127 710.5 133.9 711.7 140.8 713.3 147.7 715 154.5 715.8 161.4 717.4 168.3 718.2 175.2 718.7 182.1 719.1 189 719.4M20.7 679.6h5.8M23.6 676.7v5.8M21.3 677.3l4.6 4.6m0 -4.6l-4.6 4.6M27.6 679.3h5.8M30.5 676.4v5.8M28.2 677l4.6 4.6m0 -4.6l-4.6 4.6M34.5 680h5.8M37.4 677.1v5.8M35.1 677.7l4.6 4.6m0 -4.6l-4.6 4.6M41.4 682.1h5.8M44.3 679.2v5.8M42 679.8l4.6 4.6m0 -4.6l-4.6 4.6M48.3 685.4h5.8M51.2 682.5v5.8M48.9 683.1l4.6 4.6m0 -4.6l-4.6 4.6M55.2 688.7h5.8M58.1 685.8v5.8M55.8 686.4l4.6 4.6m0 -4.6l-4.6 4.6M62.1 691.5h5.8M65 688.6v5.8M62.7 689.2l4.6 4.6m0 -4.6l-4.6 4.6M68.9 694.1h5.8M71.8 691.2v5.8M69.5 691.8l4.6 4.6m0 -4.6l-4.6 4.6M75.8 695.2h5.8M78.7 692.3v5.8M76.4 692.9l4.6 4.6m0 -4.6l-4.6 4.6M82.7 696.9h5.8M85.6 694v5.8M83.3 694.6l4.6 4.6m0 -4.6l-4.6 4.6M89.6 699.7h5.8M92.5 696.8v5.8M90.2 697.4l4.6 4.6m0 -4.6l-4.6 4.6M96.5 702.6h5.8M99.4 699.7v5.8M97.1 700.3l4.6 4.6m0 -4.6l-4.6 4.6M103.4 704.7h5.8M106.3 701.8v5.8M104 702.4l4.6 4.6m0 -4.6l-4.6 4.6M110.3 706.7h5.8M113.2 703.8v5.8M110.9 704.4l4.6 4.6m0 -4.6l-4.6 4.6M117.2 708.4h5.8M120.1 705.5v5.8M117.8 706.1l4.6 4.6m0 -4.6l-4.6 4.6M124.1 710.5h5.8M127 707.6v5.8M124.7 708.2l4.6 4.6m0 -4.6l-4.6 4.6M131 711.7h5.8M133.9 708.8v5.8M131.6 709.4l4.6 4.6m0 -4.6l-4.6 4.6M137.9 713.3h5.8M140.8 710.4v5.8M138.5 711l4.6 4.6m0 -4.6l-4.6 4.6M144.8 715h5.8M147.7 712.1v5.8M145.3 712.7l4.6 4.6m0 -4.6l-4.6 4.6M151.6 715.8h5.8M154.5 712.9v5.8M152.2 713.5l4.6 4.6m0 -4.6l-4.6 4.6M158.5 717.4h5.8M161.4 714.5v5.8M159.1 715.1l4.6 4.6m0 -4.6l-4.6 4.6M165.4 718.2h5.8M168.3 715.3v5.8M166 715.9l4.6 4.6m0 -4.6l-4.6 4.6M172.3 718.7h5.8M175.2 715.8v5.8M172.9 716.4l4.6 4.6m0 -4.6l-4.6 4.6M179.2 719.1h5.8M182.1 716.2v5.8M179.8 716.8l4.6 4.6m0 -4.6l-4.6 4.6M186.1 719.4h5.8M189 716.5v5.8M186.7 717.1l4.6 4.6m0 -4.6l-4.6 4.6" stroke="#00ff00" stroke-width="1.1"/>
<path d="M23.6 720.4 30.5 721.5 37.4 722 44.3 722 51.2 721.5 58.1 721.5 65 721 71.8 721.5 78.7 722 85.6 722.7 92.5 722.4 99.4 721.5 106.3 721.3 113.2 720.7 120.1 719.9 127 718.7 133.9 717.8 140.8 717.4 147.7 717.1 154.5 717.1 161.4 717.4 168.3 716.6 175.2 716.1 182.1 715.5 189 715M20.7 720.4h5.8M23.6 717.5v5.8M21.3 718.1l4.6 4.6m0 -4.6l-4.6 4.6M27.6 721.5h5.8M30.5 718.6v5.8M28.2 719.2l4.6 4.6m0 -4.6l-4.6 4.6M34.5 722h5.8M37.4 719.1v5.8M35.1 719.7l4.6 4.6m0 -4.6l-4.6 4.6M41.4 722h5.8M44.3 719.1v5.8M42 719.7l4.6 4.6m0 -4.6l-4.6 4.6M48.3 721.5h5.8M51.2 718.6v5.8M48.9 719.2l4.6 4.6m0 -4.6l-4.6 4.6M55.2 721.5h5.8M58.1 718.6v5.8M55.8 719.2l4.6 4.6m0 -4.6l-4.6 4.6M62.1 721h5.8M65 718.1v5.8M62.7 718.7l4.6 4.6m0 -4.6l-4.6 4.6M68.9 721.5h5.8M71.8 718.6v5.8M69.5 719.2l4.6 4.6m0 -4.6l-4.6 4.6M75.8 722h5.8M78.7 719.1v5.8M76.4 719.7l4.6 4.6m0 -4.6l-4.6 4.6M82.7 722.7h5.8M85.6 719.8v5.8M83.3 720.4l4.6 4.6m0 -4.6l-4.6 4.6M89.6 722.4h5.8M92.5 719.5v5.8M90.2 720.1l4.6 4.6m0 -4.6l-4.6 4.6M96.5 721.5h5.8M99.4 718.6v5.8M97.1 719.2l4.6 4.6m0 -4.6l-4.6 4.6M103.4 721.3h5.8M106.3 718.4v5.8M104 719l4.6 4.6m0 -4.6l-4.6 4.6M110.3 720.7h5.8M113.2 717.8v5.8M110.9 718.4l4.6 4.6m0 -4.6l-4.6 4.6M117.2 719.9h5.8M120.1 717v5.8M117.8 717.6l4.6 4.6m0 -4.6l-4.6 4.6M124.1 718.7h5.8M127 715.8v5.8M124.7 716.4l4.6 4.6m0 -4.6l-4.6 4.6M131 717.8h5.8M133.9 714.9v5.8M131.6 715.5l4.6 4.6m0 -4.6l-4.6 4.6M137.9 717.4h5.8M140.8 714.5v5.8M138.5 715.1l4.6 4.6m0 -4.6l-4.6 4.6M144.8 717.1h5.8M147.7 714.2v5.8M145.3 714.8l4.6 4.6m0 -4.6l-4.6 4.6M151.6 717.1h5.8M154.5 714.2v5.8M152.2 714.8l4.6 4.6m0 -4.6l-4.6 4.6M158.5 717.4h5.8M161.4 714.5v5.8M159.1 715.1l4.6 4.6m0 -4.6l-4.6 4.6M165.4 716.6h5.8M168.3 713.7v5.8M166 714.3l4.6 4.6m0 -4.6l-4.6 4.6M172.3 716.1h5.8M175.2 713.2v5.8M172.9 713.8l4.6 4.6m0 -4.6l-4.6 4.6M179.2 715.5h5.8M182.1 712.6v5.8M179.8 713.2l4.6 4.6m0 -4.6l-4.6 4.6M186.1 715h5.8M189 712.1v5.8M186.7 712.7l4.6 4.6m0 -4.6l-4.6 4.6" stroke="#0000ff" stroke-width="1.1"/>
<path d="M23.6 714.1 30.5 713.8 37.4 714.1 44.3 714.1 51.2 714.1 58.1 713.3 65 712.8 71.8 712.5 78.7 712.5 85.6 712.8 92.5 713.8 99.4 715.5 106.3 716.2 113.2 717.1 120.1 718.2 127 719.4 133.9 721.5 140.8 722.4 147.7 723.2 154.5 723.7 161.4 724 168.3 724.8 175.2 725.6 182.1 726 189 726.5M20.7 714.1h5.8M23.6 711.2v5.8M21.3 711.8l4.6 4.6m0 -4.6l-4.6 4.6M27.6 713.8h5.8M30.5 710.9v5.8M28.2 711.5l4.6 4.6m0 -4.6l-4.6 4.6M34.5 714.1h5.8M37.4 711.2v5.8M35.1 711.8l4.6 4.6m0 -4.6l-4.6 4.6M41.4 714.1h5.8M44.3 711.2v5.8M42 711.8l4.6 4.6m0 -4.6l-4.6 4.6M48.3 714.1h5.8M51.2 711.2v5.8M48.9 711.8l4.6 4.6m0 -4.6l-4.6 4.6M55.2 713.3h5.8M58.1 710.4v5.8M55.8 711l4.6 4.6m0 -4.6l-4.6 4.6M62.1 712.8h5.8M65 709.9v5.8M62.7 710.5l4.6 4.6m0 -4.6l-4.6 4.6M68.9 712.5h5.8M71.8 709.6v5.8M69.5 710.2l4.6 4.6m0 -4.6l-4.6 4.6M75.8 712.5h5.8M78.7 709.6v5.8M76.4 710.2l4.6 4.6m0 -4.6l-4.6 4.6M82.7 712.8h5.8M85.6 709.9v5.8M83.3 710.5l4.6 4.6m0 -4.6l-4.6 4.6M89.6 713.8h5.8M92.5 710.9v5.8M90.2 711.5l4.6 4.6m0 -4.6l-4.6 4.6M96.5 715.5h5.8M99.4 712.6v5.8M97.1 713.2l4.6 4.6m0 -4.6l-4.6 4.6M103.4 716.2h5.8M106.3 713.3v5.8M104 713.9l4.6 4.6m0 -4.6l-4.6 4.6M110.3 717.1h5.8M113.2 714.2v5.8M110.9 714.8l4.6 4.6m0 -4.6l-4.6 4.6M117.2 718.2h5.8M120.1 715.3v5.8M117.8 715.9l4.6 4.6m0 -4.6l-4.6 4.6M124.1 719.4h5.8M127 716.5v5.8M124.7 717.1l4.6 4.6m0 -4.6l-4.6 4.6M131 721.5h5.8M133.9 718.6v5.8M131.6 719.2l4.6 4.6m0 -4.6l-4.6 4.6M137.9 722.4h5.8M140.8 719.5v5.8M138.5 720.1l4.6 4.6m0 -4.6l-4.6 4.6M144.8 723.2h5.8M147.7 720.3v5.8M145.3 720.9l4.6 4.6m0 -4.6l-4.6 4.6M151.6 723.7h5.8M154.5 720.8v5.8M152.2 721.4l4.6 4.6m0 -4.6l-4.6 4.6M158.5 724h5.8M161.4 721.1v5.8M159.1 721.7l4.6 4.6m0 -4.6l-4.6 4.6M165.4 724.8h5.8M168.3 721.9v5.8M166 722.5l4.6 4.6m0 -4.6l-4.6 4.6M172.3 725.6h5.8M175.2 722.7v5.8M172.9 723.3l4.6 4.6m0 -4.6l-4.6 4.6M179.2 726h5.8M182.1 723.1v5.8M179.8 723.7l4.6 4.6m0 -4.6l-4.6 4.6M186.1 726.5h5.8M189 723.6v5.8M186.7 724.2l4.6 4.6m0 -4.6l-4.6 4.6" stroke="#ff0000" stroke-width="1.1"/>
</g>
<path d="M23.1 612H190M23.1 730H190M189 612V730" stroke="#000000" stroke-width="2" fill="none"/>
<path d="M23.6 612V730" stroke="#000000" stroke-width="1.1" fill="none"/>
<g fill="#000000"><text x="19.3" y="732.9" text-anchor="end">16</text><text x="19.3" y="708.02" text-anchor="end">36</text><text x="19.3" y="683.15" text-anchor="end">56</text><text x="19.3" y="658.27" text-anchor="end">76</text><text x="19.3" y="633.4" text-anchor="end">96</text><text x="23.6" y="740.7" text-anchor="middle">0</text><text x="51.17" y="740.7" text-anchor="middle">4</text><text x="78.73" y="740.7" text-anchor="middle">8</text><text x="106.3" y="740.7" text-anchor="middle">12</text><text x="133.87" y="740.7" text-anchor="middle">16</text><text x="161.43" y="740.7" text-anchor="middle">20</text><text x="189" y="740.7" text-anchor="middle">24</text><text x="106.3" y="754.6" text-anchor="middle" class="t" clip-path="url(#lc4)">Tung Chung</text></g>
<path d="M216.6 705.5H382M216.6 680.5H382M216.6 655.5H382M216.6 630.5H382" stroke="#000" stroke-width="1" stroke-dasharray="1.3 1.77"/>
<path d="M244.17 612V730M271.73 612V730M299.3 612V730M326.87 612V730M354.43 612V730" stroke="#000" stroke-width="1" stroke-dasharray="1 2.07"/>
<path d="M216.6 730.5h5.5M382 730.5h-5.5M216.6 717.5h4.2M382 717.5h-4.2M216.6 705.5h5.5M382 705.5h-5.5M216.6 692.5h4.2M382 692.5h-4.2M216.6 680.5h5.5M382 680.5h-5.5M216.6 667.5h4.2M382 667.5h-4.2M216.6 655.5h5.5M382 655.5h-5.5M216.6 642.5h4.2M382 642.5h-4.2M216.6 630.5h5.5M382 630.5h-5.5M216.6 618.5h4.2M382 618.5h-4.2M216.6 730v-5M216.6 612v5M230.38 730v-3.8M230.38 612v3.8M244.17 730v-5M244.17 612v5M257.95 730v-3.8M257.95 612v3.8M271.73 730v-5M271.73 612v5M285.52 730v-3.8M285.52 612v3.8M299.3 730v-5M299.3 612v5M313.08 730v-3.8M313.08 612v3.8M326.87 730v-5M326.87 612v5M340.65 730v-3.8M340.65 612v3.8M354.43 730v-5M354.43 612v5M368.22 730v-3.8M368.22 612v3.8M382 730v-5M382 612v5" stroke="#000000" stroke-width="1"/>
<path d="M216.1 612H383M216.1 730H383M382 612V730" stroke="#000000" stroke-width="2" fill="none"/>
<path d="M216.6 612V730" stroke="#000000" stroke-width="1.1" fill="none"/>
<g fill="#000000"><text x="212.3" y="732.9" text-anchor="end">16</text><text x="212.3" y="708.02" text-anchor="end">36</text><text x="212.3" y="683.15" text-anchor="end">56</text><text x="212.3" y="658.27" text-anchor="end">76</text><text x="212.3" y="633.4" text-anchor="end">96</text><text x="216.6" y="740.7" text-anchor="middle">0</text><text x="244.17" y="740.7" text-anchor="middle">4</text><text x="271.73" y="740.7" text-anchor="middle">8</text><text x="299.3" y="740.7" text-anchor="middle">12</text><text x="326.87" y="740.7" text-anchor="middle">16</text><text x="354.43" y="740.7" text-anchor="middle">20</text><text x="382" y="740.7" text-anchor="middle">24</text><text x="299.3" y="754.6" text-anchor="middle" class="t" clip-path="url(#lc4)">Airport, Pump House 5</text></g>
<path d="M409.6 705.5H575M409.6 680.5H575M409.6 655.5H575M409.6 630.5H575" stroke="#000" stroke-width="1" stroke-dasharray="1.3 1.77"/>
<path d="M437.17 612V730M464.73 612V730M492.3 612V730M519.87 612V730M547.43 612V730" stroke="#000" stroke-width="1" stroke-dasharray="1 2.07"/>
<path d="M409.6 730.5h5.5M575 730.5h-5.5M409.6 717.5h4.2M575 717.5h-4.2M409.6 705.5h5.5M575 705.5h-5.5M409.6 692.5h4.2M575 692.5h-4.2M409.6 680.5h5.5M575 680.5h-5.5M409.6 667.5h4.2M575 667.5h-4.2M409.6 655.5h5.5M575 655.5h-5.5M409.6 642.5h4.2M575 642.5h-4.2M409.6 630.5h5.5M575 630.5h-5.5M409.6 618.5h4.2M575 618.5h-4.2M409.6 730v-5M409.6 612v5M423.38 730v-3.8M423.38 612v3.8M437.17 730v-5M437.17 612v5M450.95 730v-3.8M450.95 612v3.8M464.73 730v-5M464.73 612v5M478.52 730v-3.8M478.52 612v3.8M492.3 730v-5M492.3 612v5M506.08 730v-3.8M506.08 612v3.8M519.87 730v-5M519.87 612v5M533.65 730v-3.8M533.65 612v3.8M547.43 730v-5M547.43 612v5M561.22 730v-3.8M561.22 612v3.8M575 730v-5M575 612v5" stroke="#000000" stroke-width="1"/>
<path d="M409.1 612H576M409.1 730H576M575 612V730" stroke="#000000" stroke-width="2" fill="none"/>
<path d="M409.6 612V730" stroke="#000000" stroke-width="1.1" fill="none"/>
<g fill="#000000"><text x="405.3" y="732.9" text-anchor="end">16</text><text x="405.3" y="708.02" text-anchor="end">36</text><text x="405.3" y="683.15" text-anchor="end">56</text><text x="405.3" y="658.27" text-anchor="end">76</text><text x="405.3" y="633.4" text-anchor="end">96</text><text x="409.6" y="740.7" text-anchor="middle">0</text><text x="437.17" y="740.7" text-anchor="middle">4</text><text x="464.73" y="740.7" text-anchor="middle">8</text><text x="492.3" y="740.7" text-anchor="middle">12</text><text x="519.87" y="740.7" text-anchor="middle">16</text><text x="547.43" y="740.7" text-anchor="middle">20</text><text x="575" y="740.7" text-anchor="middle">24</text><text x="492.3" y="754.6" text-anchor="middle" class="t" clip-path="url(#lc4)">Southern</text></g>
<path d="M795.6 705.5H961M795.6 680.5H961M795.6 655.5H961M795.6 630.5H961" stroke="#000" stroke-width="1" stroke-dasharray="1.3 1.77"/>
<path d="M836.95 612V730M878.3 612V730M919.65 612V730" stroke="#000" stroke-width="1" stroke-dasharray="1 2.07"/>
<path d="M795.6 730.5h5.5M961 730.5h-5.5M795.6 717.5h4.2M961 717.5h-4.2M795.6 705.5h5.5M961 705.5h-5.5M795.6 692.5h4.2M961 692.5h-4.2M795.6 680.5h5.5M961 680.5h-5.5M795.6 667.5h4.2M961 667.5h-4.2M795.6 655.5h5.5M961 655.5h-5.5M795.6 642.5h4.2M961 642.5h-4.2M795.6 630.5h5.5M961 630.5h-5.5M795.6 618.5h4.2M961 618.5h-4.2M795.6 730v-5M795.6 612v5M816.27 730v-3.8M816.27 612v3.8M836.95 730v-5M836.95 612v5M857.62 730v-3.8M857.62 612v3.8M878.3 730v-5M878.3 612v5M898.98 730v-3.8M898.98 612v3.8M919.65 730v-5M919.65 612v5M940.33 730v-3.8M940.33 612v3.8M961 730v-5M961 612v5" stroke="#000000" stroke-width="1"/>
<g clip-path="url(#cp44)" fill="none" stroke-width="1.1" stroke-linejoin="round">
<path d="M795.6 699.2 797.3 698.1 799 697 800.8 695.5 802.5 694.4 804.2 693.3 805.9 692.8 807.7 691.8 809.4 690.7 811.1 689.1 812.8 687.5 814.6 687 816.3 685.9 818 684.3 819.7 683.1 821.4 682 823.2 681.1 824.9 681.5 826.6 671.4 828.3 663.9 830.1 661.5 831.8 665.2 833.5 672.7 835.2 684.3 837 686.5 838.7 687 840.4 687.5 842.1 687.5 843.8 687.8 845.6 688.6 847.3 689.1 849 688.8 850.7 689.3 852.5 689.8 854.2 691.5 855.9 693.9 857.6 696 859.3 698.1 861.1 699.2 862.8 700.5 864.5 701.3 866.2 701.8 868 703.9 869.7 705.5 871.4 706.6 873.1 707.6 874.9 709.2 876.6 710.3 878.3 712.4 880 713 881.7 714 883.5 715.4 885.2 716.1 886.9 717.2 888.6 717.9 890.4 720 892.1 721.4 893.8 721.4 895.5 720.4 897.3 719.6 899 718.8 900.7 717.9 902.4 716.7 904.1 715.4 905.9 714.3 907.6 713.3 909.3 711.7 911 710.6 912.8 709.8 914.5 709.2 916.2 709.2 917.9 708.5 919.7 707.7 921.4 706.6 923.1 706.6 924.8 705 926.5 703.9 928.3 703.4 930 703.4 931.7 703.4 933.4 702.7 935.2 702.9 936.9 703.4 938.6 703.9 940.3 704.5 942 705.5 943.8 706.3 945.5 707.1 947.2 708.2 948.9 709.2 950.7 710.8 952.4 711.4 954.1 712.2 955.8 712.4 957.6 712.4 959.3 712.7 961 713.3M795.6 709.8 797.3 708.2 799 707.1 800.8 705.5 802.5 704.5 804.2 703.4 805.9 702.3 807.7 701.3 809.4 701 811.1 701.3 812.8 701.8 814.6 702.3 816.3 701.8 818 701 819.7 699.4 821.4 699 823.2 698.5 824.9 691.1 826.6 668.1 828.3 663.2 830.1 661.9 831.8 664 833.5 675.5 835.2 688.7 837 693.9 838.7 693.1 840.4 692.3 842.1 691.7 843.8 691.2 845.6 690.4 847.3 690.4 849 691 850.7 691.4 852.5 692.1 854.2 693.1 855.9 694.2 857.6 695.2 859.3 696.9 861.1 699 862.8 700.2 864.5 701 866.2 702.3 868 704 869.7 707.2 871.4 708.4 873.1 710 874.9 711.2 876.6 712.2 878.3 713.5 880 716.7 881.7 719.3 883.5 721.4 885.2 724.1 886.9 725.1 888.6 725.7 890.4 725.7 892.1 726.2 893.8 726.7 895.5 725.1 897.3 724.4 899 724.2 900.7 720.7 902.4 721.5 904.1 720.4 905.9 719.9 907.6 718.7 909.3 718.2 911 717.1 912.8 716.6 914.5 716.6 916.2 716.6 917.9 715.8 919.7 715.4 921.4 714.5 923.1 713.3 924.8 712.9 926.5 712.6 928.3 712.4 930 712.4 931.7 712.4 933.4 712.4 935.2 712.9 936.9 714.5 938.6 715.1 940.3 715 942 717.1 943.8 717.8 945.5 718.2 947.2 718.2 948.9 718.7 950.7 719.1 952.4 719.4 954.1 719.4 955.8 720.4 957.6 720.7 959.3 721.2 961 722M795.6 705.5 797.3 710.3 799 714.5 800.8 716.7 802.5 717.5 804.2 717.9 805.9 718.2 807.7 718.6 809.4 718.2 811.1 718.2 812.8 718.6 814.6 718.6 816.3 718.4 818 718.2 819.7 717.8 821.4 717.4 823.2 717.1 824.9 707.6 826.6 698.5 828.3 692 830.1 687 831.8 687.5 833.5 692.5 835.2 697.7 837 701.3 838.7 710.3 840.4 715.1 842.1 716.7 843.8 717.2 845.6 717.5 847.3 717.9 849 718.2 850.7 718.6 852.5 718.8 854.2 718.8 855.9 718.8 857.6 720 859.3 722.4 861.1 722.4 862.8 722.4 864.5 722 866.2 719.9 868 718.2 869.7 718.2 871.4 718.2 873.1 718.7 874.9 719 876.6 719 878.3 720.4 880 720.9 881.7 720.9 883.5 721.4 885.2 722 886.9 722 888.6 722.5 890.4 722.5 892.1 722.5 893.8 722.5 895.5 722 897.3 722 899 721.5 900.7 721.5 902.4 721.5 904.1 721 905.9 720.7 907.6 720.4 909.3 720.7 911 720.7 912.8 720.7 914.5 721 916.2 721.5 917.9 722 919.7 722.5 921.4 722.5 923.1 722.5 924.8 723 926.5 723.5 928.3 723.5 930 724.1 931.7 724.9 933.4 726.2 935.2 727.3 936.9 727.8 938.6 727.8 940.3 728 942 728.6 943.8 727.3 945.5 726.5 947.2 725.6 948.9 724 950.7 722.4 952.4 721.5 954.1 720.7 955.8 719.9 957.6 718.7 959.3 717.8 961 717.4M795.6 701.2 797.3 698.5 799 696.1 800.8 693.5 802.5 691.2 804.2 688.6 805.9 686.1 807.7 684.1 809.4 681.7 811.1 679.4 812.8 678 814.6 676.4 816.3 674.7 818 672.2 819.7 670.1 821.4 667.8 823.2 666.5 824.9 665.2 826.6 664 828.3 664 830.1 664.5 831.8 666.5 833.5 668.1 835.2 669.8 837 670.2 838.7 672.1 840.4 672.1 842.1 672.7 843.8 674.4 845.6 676.1 847.3 677.3 849 678.2 850.7 679.4 852.5 681.7 854.2 683.5 855.9 685.9 857.6 687.3 859.3 689.5 861.1 691.1 862.8 693.6 864.5 695.2 866.2 697.7 868 700.2 869.7 702.6 871.4 705.1 873.1 705.9 874.9 706.7 876.6 707.2 878.3 708.3 880 710 881.7 711.2 883.5 712.4 885.2 713.6 886.9 714.2 888.6 714.8 890.4 715.4 892.1 716.2 893.8 716.2 895.5 716.5 897.3 716.9 899 716.8 900.7 716.6 902.4 716.6 904.1 715.8 905.9 714.1 907.6 713.3 909.3 712.2 911 711.7 912.8 710.9 914.5 710.5 916.2 710 917.9 709.5 919.7 709.5 921.4 709.1 923.1 707.7 924.8 706.5 926.5 705.9 928.3 706.3 930 706.5 931.7 707.1 933.4 705.9 935.2 706.5 936.9 706.5 938.6 706.8 940.3 706.7 942 707.6 943.8 708.4 945.5 709.5 947.2 711.7 948.9 713.3 950.7 714.5 952.4 715.8 954.1 716.6 955.8 717.4 957.6 717.8 959.3 717.8 961 717.8M795.6 709.5 797.3 708.6 799 707.7 800.8 707.1 802.5 706.8 804.2 706.5 805.9 706.5 807.7 706.5 809.4 706.5 811.1 705.9 812.8 705.6 814.6 705.1 816.3 704.3 818 703.5 819.7 701.8 821.4 701 823.2 699.4 824.9 697.4 826.6 695.7 828.3 694.8 830.1 694.4 831.8 694.4 833.5 694.1 835.2 693.6 837 692.4 838.7 692.6 840.4 693 842.1 691.8 843.8 690.2 845.6 688.6 847.3 688.2 849 688.2 850.7 687.9 852.5 688.6 854.2 689.4 855.9 690.6 857.6 692.2 859.3 694.4 861.1 696.1 862.8 697.7 864.5 699.4 866.2 701.8 868 704 869.7 706.7 871.4 708.4 873.1 709.2 874.9 710 876.6 711.7 878.3 713 880 715.4 881.7 716 883.5 717.7 885.2 719.5 886.9 721.3 888.6 721.8 890.4 722.4 892.1 722.8 893.8 722.4 895.5 721.6 897.3 720.1 899 719.7 900.7 719.1 902.4 718.2 904.1 717.4 905.9 716.6 907.6 715.5 909.3 714.5 911 714.1 912.8 712.8 914.5 712.5 916.2 712.2 917.9 712.2 919.7 711.2 921.4 711.5 923.1 711.5 924.8 711.2 926.5 711 928.3 711.2 930 711.2 931.7 711.2 933.4 711.2 935.2 711.8 936.9 713.6 938.6 714.8 940.3 715.8 942 715.8 943.8 717.1 945.5 717.8 947.2 718.7 948.9 719.4 950.7 720.7 952.4 721.5 954.1 722 955.8 722.4 957.6 722.4 959.3 722.7 961 723.7M795.6 689.4 797.3 688.8 799 688.2 800.8 687.9 802.5 687.1 804.2 684.7 805.9 681.7 807.7 678.8 809.4 675.8 811.1 673.5 812.8 672.5 814.6 672.1 816.3 671.3 818 670.6 819.7 669.8 821.4 669.8 823.2 671.1 824.9 673.1 826.6 674.4 828.3 673.9 830.1 673.9 831.8 673.1 833.5 672.2 835.2 672.7 837 672.3 838.7 672.7 840.4 673.3 842.1 673.7 843.8 674.9 845.6 678.2 847.3 682 849 685.3 850.7 688.2 852.5 690.6 854.2 692.4 855.9 692.4 857.6 692 859.3 691.5 861.1 691.5 862.8 691.1 864.5 691.1 866.2 691.1 868 692 869.7 693.6 871.4 694.8 873.1 696.1 874.9 697.7 876.6 698.5 878.3 699.4 880 699.7 881.7 700 883.5 700 885.2 700 886.9 700.6 888.6 700.9 890.4 701.2 892.1 701.2 893.8 701.2 895.5 700.9 897.3 700.6 899 700.4 900.7 700.2 902.4 699.4 904.1 698.5 905.9 697.7 907.6 696.9 909.3 695.7 911 694.8 912.8 694.4 914.5 694.1 916.2 694.1 917.9 693.6 919.7 693.3 921.4 692.6 923.1 692.1 924.8 691.8 926.5 691.4 928.3 691.2 930 690.9 931.7 690.9 933.4 691.2 935.2 691.8 936.9 692.6 938.6 693.5 940.3 694.5 942 696.1 943.8 697.7 945.5 698.5 947.2 699.4 948.9 701 950.7 702.6 952.4 703 954.1 703.5 955.8 704 957.6 704.3 959.3 705.1 961 705.6M795.6 695 797.3 695 799 694.7 800.8 694.5 802.5 694.5 804.2 694.5 805.9 694.5 807.7 694.7 809.4 694.7 811.1 694.7 812.8 694.5 814.6 694.1 816.3 693.5 818 693.6 819.7 693.6 821.4 693.6 823.2 694.4 824.9 695.2 826.6 696.9 828.3 694.4 830.1 692 831.8 689.5 833.5 687.5 835.2 684.6 837 682 838.7 681.5 840.4 681.5 842.1 681.5 843.8 681.5 845.6 681.7 847.3 681.7 849 682 850.7 682 852.5 683.2 854.2 685.5 855.9 688.6 857.6 690.6 859.3 693.6 861.1 696.9 862.8 700.2 864.5 701.8 866.2 705.1 868 708.4 869.7 712.2 871.4 715 873.1 717.4 874.9 719.4 876.6 721.5 878.3 723.6 880 724.4 881.7 724.8 883.5 725.2 885.2 725.2 886.9 724.8 888.6 724.2 890.4 724.2 892.1 725.4 893.8 726.6 895.5 727.2 897.3 724.2 899 724.7 900.7 724.8 902.4 724.3 904.1 723.7 905.9 722.7 907.6 722 909.3 720.7 911 719.9 912.8 718.7 914.5 717.8 916.2 717.1 917.9 716.1 919.7 716 921.4 716 923.1 715.1 924.8 714.2 926.5 713.6 928.3 713 930 712.2 931.7 712.2 933.4 713.4 935.2 714.5 936.9 715.7 938.6 717.7 940.3 718.6 942 720.4 943.8 722 945.5 720.7 947.2 719.9 948.9 719.4 950.7 718.7 952.4 718.2 954.1 717.8 955.8 717.8 957.6 717.4 959.3 717.1 961 716.6M795.6 699.4 797.3 699.4 799 699.4 800.8 699.4 802.5 699 804.2 697.7 805.9 696.4 807.7 694.4 809.4 692 811.1 689.5 812.8 687.5 814.6 685.4 816.3 684.3 818 681.3 819.7 678.3 821.4 676 823.2 673.1 824.9 670.6 826.6 668.1 828.3 666.5 830.1 665.2 831.8 664 833.5 662.9 835.2 661.2 837 659.1 838.7 657.5 840.4 656.3 842.1 655 843.8 653.7 845.6 654.2 847.3 652 849 652.5 850.7 653.7 852.5 655.8 854.2 657.5 855.9 659.9 857.6 661.4 859.3 664.5 861.1 667.3 862.8 670.6 864.5 673.9 866.2 678.8 868 682.9 869.7 687 871.4 689.2 873.1 691.1 874.9 693.6 876.6 695.2 878.3 697.7 880 701 881.7 702.3 883.5 704 885.2 705.6 886.9 706.7 888.6 707.6 890.4 707.9 892.1 708.4 893.8 708.4 895.5 707.9 897.3 707.2 899 707 900.7 706.3 902.4 705.9 904.1 705.1 905.9 704.3 907.6 702.6 909.3 701.8 911 701.3 912.8 701.3 914.5 701 916.2 700.2 917.9 699.7 919.7 698.5 921.4 698.5 923.1 697.7 924.8 696.9 926.5 696.1 928.3 696.1 930 696.1 931.7 695.2 933.4 694.8 935.2 695.2 936.9 696.9 938.6 699 940.3 700 942 701.3 943.8 702.6 945.5 703.5 947.2 704.3 948.9 706.7 950.7 708.4 952.4 710 954.1 710.5 955.8 711.2 957.6 711.7 959.3 712.2 961 712.8M795.6 712.5 797.3 712.5 799 712.5 800.8 712.2 802.5 711.7 804.2 710.9 805.9 709.2 807.7 707.6 809.4 705.1 811.1 703 812.8 700.2 814.6 696.9 816.3 693.8 818 690.8 819.7 687.9 821.4 685.4 823.2 682.9 824.9 678.8 826.6 663.2 828.3 667.3 830.1 662.4 831.8 659.9 833.5 658.3 835.2 657 837 655.3 838.7 654.2 840.4 652 842.1 651.7 843.8 652 845.6 652 847.3 652.5 849 653.4 850.7 655.8 852.5 658.3 854.2 661.2 855.9 665.2 857.6 669.2 859.3 673.4 861.1 677.7 862.8 682.1 864.5 686.5 866.2 692.5 868 699 869.7 705.1 871.4 710.9 873.1 714.1 874.9 716.1 876.6 717.8 878.3 719.9 880 722 881.7 722.7 883.5 723.2 885.2 724 886.9 724.8 888.6 725.6 890.4 726 892.1 726 893.8 726 895.5 726 897.3 725.6 899 725.8 900.7 725.3 902.4 724.3 904.1 723.7 905.9 722.7 907.6 721.5 909.3 720.7 911 720.4 912.8 719.9 914.5 719.1 916.2 718.7 917.9 718.2 919.7 718.2 921.4 717.4 923.1 717.1 924.8 716.6 926.5 716.6 928.3 716.6 930 716.6 931.7 716.6 933.4 716.6 935.2 717.1 936.9 717.4 938.6 717.8 940.3 718.2 942 719.4 943.8 719.9 945.5 721 947.2 722 948.9 723.2 950.7 724 952.4 724.3 954.1 724.8 955.8 725.6 957.6 726 959.3 726.5 961 727M795.6 704.3 797.3 708.4 799 714.1 800.8 720.7 802.5 722.7 804.2 722.4 805.9 721.5 807.7 719.9 809.4 718.2 811.1 715.8 812.8 713.3 814.6 710.9 816.3 708.4 818 705.9 819.7 704 821.4 701.3 823.2 697.7 824.9 694.4 826.6 690.8 828.3 687.9 830.1 684.9 831.8 682.6 833.5 681.3 835.2 680.5 837 679.3 838.7 679.3 840.4 680.5 842.1 681.3 843.8 681.6 845.6 682.6 847.3 682.9 849 683.3 850.7 684.6 852.5 686.2 854.2 688.7 855.9 692 857.6 695 859.3 697.7 861.1 700.7 862.8 703 864.5 706.7 866.2 709.5 868 712.8 869.7 715.8 871.4 718.7 873.1 720.4 874.9 722 876.6 722.7 878.3 725.6 880 727 881.7 727.6 883.5 727.6 885.2 727.6 886.9 727.6 888.6 727.3 890.4 727.3 892.1 727.3 893.8 727.6 895.5 727.6 897.3 727.6 899 727.6 900.7 727.3 902.4 727.3 904.1 726.5 905.9 725.6 907.6 724.8 909.3 724 911 724 912.8 724 914.5 724 916.2 724.8 917.9 724.8 919.7 726.5 921.4 726 923.1 726.5 924.8 722.4 926.5 724 928.3 724.8 930 724 931.7 723.2 933.4 722.4 935.2 723.2 936.9 724 938.6 724.8 940.3 725.6 942 726 943.8 726.5 945.5 727 947.2 727 948.9 727 950.7 726.5 952.4 726 954.1 726 955.8 726 957.6 726 959.3 726 961 725.6M795.6 706.7 797.3 705.9 799 705.1 800.8 704.3 802.5 703.5 804.2 701.3 805.9 698 807.7 695.2 809.4 692.8 811.1 691.1 812.8 689.8 814.6 689.2 816.3 689.6 818 690.3 819.7 689.5 821.4 689.2 823.2 689.2 824.9 689.5 826.6 688.2 828.3 685.4 830.1 684.9 831.8 687.5 833.5 689.2 835.2 689.5 837 691.1 838.7 691.1 840.4 692 842.1 692 843.8 693.6 845.6 697.7 847.3 700.2 849 704 850.7 705.9 852.5 708.4 854.2 710.5 855.9 712.5 857.6 714.1 859.3 715 861.1 715 862.8 715.5 864.5 715 866.2 715.8 868 717.1 869.7 720.4 871.4 719.4 873.1 718.2 874.9 718.2 876.6 717.8 878.3 716.6 880 716.6 881.7 716.6 883.5 717.4 885.2 717.4 886.9 717.1 888.6 716.6 890.4 716.6 892.1 716.6 893.8 715.8 895.5 715.5 897.3 714.1 899 713 900.7 712.8 902.4 712.2 904.1 711.2 905.9 710 907.6 708.9 909.3 707.6 911 707.2 912.8 706.7 914.5 705.9 916.2 705.1 917.9 704.3 919.7 704 921.4 703.5 923.1 703.5 924.8 703 926.5 702.6 928.3 701.8 930 701.8 931.7 701.3 933.4 701.8 935.2 702.3 936.9 703.5 938.6 705.1 940.3 706.5 942 707.6 943.8 708.9 945.5 709.5 947.2 710.5 948.9 711.7 950.7 712.8 952.4 714.1 954.1 715 955.8 716.6 957.6 717.8 959.3 718.7 961 719.4M795.6 701.5 797.3 701 799 700.8 800.8 700.3 802.5 699.8 804.2 699.5 805.9 699.3 807.7 699.3 809.4 699.3 811.1 699 812.8 698.5 814.6 697.7 816.3 697 818 696.9 819.7 696.1 821.4 695.2 823.2 694.8 824.9 694.1 826.6 693.6 828.3 694.8 830.1 695.2 831.8 697.7 833.5 699 835.2 700.2 837 703.5 838.7 704 840.4 704.6 842.1 705.1 843.8 705.6 845.6 705.6 847.3 705.1 849 704.6 850.7 704.3 852.5 704.6 854.2 705.1 855.9 707.2 857.6 708.6 859.3 709.5 861.1 710 862.8 710.5 864.5 712.2 866.2 713.3 868 714.1 869.7 714.5 871.4 713.3 873.1 712.8 874.9 712.8 876.6 712.8 878.3 712.2 880 712.2 881.7 711.7 883.5 711.7 885.2 712.5 886.9 713.3 888.6 714.1 890.4 715 892.1 715.5 893.8 715.5 895.5 714.1 897.3 712.8 899 712.5 900.7 711.7 902.4 710 904.1 708.4 905.9 707.2 907.6 706.3 909.3 705.9 911 705.1 912.8 704.3 914.5 703.5 916.2 703 917.9 702.6 919.7 702.6 921.4 701.3 923.1 701 924.8 700.2 926.5 699.4 928.3 699 930 699 931.7 699 933.4 699.4 935.2 699.7 936.9 700.7 938.6 701.8 940.3 703 942 704.3 943.8 705.6 945.5 707.2 947.2 708.4 948.9 710 950.7 711.2 952.4 711.7 954.1 712.2 955.8 712.5 957.6 712.8 959.3 713.3 961 713.8M795.6 708.4 797.3 707.9 799 707.6 800.8 706.3 802.5 703.5 804.2 700.2 805.9 698.5 807.7 696.9 809.4 695.2 811.1 693.6 812.8 692 814.6 690.3 816.3 689.1 818 687 819.7 684.9 821.4 683.3 823.2 682.1 824.9 681.3 826.6 680.5 828.3 679.3 830.1 672.2 831.8 670.6 833.5 673.1 835.2 681.3 837 679.6 838.7 679.3 840.4 680 842.1 682.1 843.8 685.4 845.6 688.7 847.3 691.5 849 694.1 850.7 695.2 852.5 696.9 854.2 699.7 855.9 702.6 857.6 704.7 859.3 706.7 861.1 708.4 862.8 710.5 864.5 711.7 866.2 713.3 868 715 869.7 715.8 871.4 717.4 873.1 718.2 874.9 718.7 876.6 719.1 878.3 720.4 880 721.5 881.7 722 883.5 722 885.2 721.5 886.9 721.5 888.6 721 890.4 721.5 892.1 722 893.8 722.7 895.5 722.4 897.3 721.5 899 721.3 900.7 720.7 902.4 719.9 904.1 718.7 905.9 717.8 907.6 717.4 909.3 717.1 911 717.1 912.8 717.4 914.5 716.6 916.2 716.1 917.9 715.5 919.7 714.1 921.4 713.8 923.1 714.1 924.8 714.1 926.5 714.1 928.3 713.3 930 712.8 931.7 712.5 933.4 712.5 935.2 712.8 936.9 713.8 938.6 715.5 940.3 716.2 942 717.1 943.8 718.2 945.5 719.4 947.2 721.5 948.9 722.4 950.7 723.2 952.4 723.7 954.1 724 955.8 724.8 957.6 725.6 959.3 726 961 726.5" stroke="#0000ff"/>
<path d="M795.6 658 797.3 657 799 655.8 800.8 654.7 802.5 653.4 804.2 651.4 805.9 648.4 807.7 645.5 809.4 642.7 811.1 639.9 812.8 637.7 814.6 636.1 816.3 633.5 818 631.7 819.7 629 821.4 627.4 823.2 625.4 824.9 623.8 826.6 622.5 828.3 621.8 830.1 621.3 831.8 620.8 833.5 620.2 835.2 619.7 837 619.7 838.7 620.2 840.4 620.5 842.1 620.5 843.8 620.5 845.6 621.3 847.3 622.1 849 623 850.7 624.1 852.5 624.6 854.2 625.1 855.9 625.8 857.6 626.9 859.3 629 861.1 631.7 862.8 635.6 864.5 639.9 866.2 646.5 868 652 869.7 658 871.4 661.6 873.1 665.2 874.9 667.8 876.6 669 878.3 671.8 880 673.4 881.7 673.9 883.5 674.4 885.2 675 886.9 675.5 888.6 676 890.4 676.4 892.1 676.7 893.8 676.7 895.5 676.7 897.3 676.7 899 677.2 900.7 677.7 902.4 678 904.1 677.7 905.9 676.4 907.6 675.5 909.3 674.7 911 673.9 912.8 673.1 914.5 672.7 916.2 672.2 917.9 671.4 919.7 670.6 921.4 670.6 923.1 669.8 924.8 669 926.5 667.8 928.3 667.8 930 667.3 931.7 667.3 933.4 667.3 935.2 669 936.9 670.6 938.6 672.2 940.3 674.2 942 676 943.8 677.2 945.5 678 947.2 679.3 948.9 679.6 950.7 679.3 952.4 678.8 954.1 678 955.8 677.7 957.6 678 959.3 678.8 961 679.6M795.6 656.6 797.3 655.3 799 653.7 800.8 652 802.5 650.1 804.2 648.1 805.9 646 807.7 643.8 809.4 641.9 811.1 639.4 812.8 636.1 814.6 632.8 816.3 630 818 627.1 819.7 625.4 821.4 624.1 823.2 623 824.9 619.7 826.6 616.4 828.3 615.6 830.1 615.2 831.8 615.6 833.5 615.6 835.2 615.9 837 615.9 838.7 616.9 840.4 618 842.1 618.5 843.8 618.5 845.6 619.2 847.3 620.2 849 620.8 850.7 621.3 852.5 622.1 854.2 623 855.9 624.1 857.6 625.2 859.3 626.7 861.1 630.7 862.8 632 864.5 635 866.2 646 868 654.7 869.7 658 871.4 660.8 873.1 661.9 874.9 663.2 876.6 664.9 878.3 665.2 880 666.2 881.7 667.3 883.5 667.3 885.2 667.3 886.9 667.3 888.6 667.8 890.4 667.8 892.1 669 893.8 669.5 895.5 670.6 897.3 670.6 899 671.2 900.7 670.6 902.4 670.1 904.1 669.5 905.9 669 907.6 669 909.3 667.8 911 667.3 912.8 667.3 914.5 666.8 916.2 666.2 917.9 665.7 919.7 664 921.4 663.2 923.1 662.9 924.8 661.9 926.5 661.9 928.3 662.4 930 662.4 931.7 662.4 933.4 662.4 935.2 663.2 936.9 664.9 938.6 666.5 940.3 668.1 942 669.8 943.8 672.2 945.5 673.9 947.2 676 948.9 677.2 950.7 678.8 952.4 681 954.1 682.1 955.8 682.9 957.6 684.2 959.3 685.4 961 686.2M795.6 648.8 797.3 648.1 799 647.1 800.8 645.5 802.5 643.8 804.2 642.7 805.9 641 807.7 638.9 809.4 637.3 811.1 634.5 812.8 627.9 814.6 626.7 816.3 625 818 623.5 819.7 620.8 821.4 618.9 823.2 616.9 824.9 615.2 826.6 613.9 828.3 613.9 830.1 613.6 831.8 613.6 833.5 613.6 835.2 613.6 837 612.6 838.7 613.1 840.4 613.6 842.1 613.6 843.8 613.6 845.6 613.9 847.3 613.9 849 614.7 850.7 614.7 852.5 615.6 854.2 618.5 855.9 620.2 857.6 621.8 859.3 624.1 861.1 625.4 862.8 630.4 864.5 636.9 866.2 644.3 868 652 869.7 655.8 871.4 659.6 873.1 661.9 874.9 664.9 876.6 666.5 878.3 666.8 880 669 881.7 671.4 883.5 673.1 885.2 673.9 886.9 674.7 888.6 675.5 890.4 676.4 892.1 677.2 893.8 677.7 895.5 676.7 897.3 676.4 899 676.2 900.7 676.4 902.4 676 904.1 676 905.9 676 907.6 676 909.3 676 911 676.4 912.8 676.4 914.5 677.2 916.2 677.2 917.9 676.4 919.7 676.4 921.4 675 923.1 673.9 924.8 673.4 926.5 673.1 928.3 673.1 930 672.7 931.7 672.2 933.4 672.7 935.2 673.9 936.9 675.5 938.6 677.2 940.3 678.4 942 681.3 943.8 682.9 945.5 684.2 947.2 684.6 948.9 684.6 950.7 684.9 952.4 684.9 954.1 684.2 955.8 683.7 957.6 683.7 959.3 684.6 961 684.9" stroke="#ff0000"/>
</g>
<path d="M795.1 612H962M795.1 730H962M961 612V730" stroke="#000000" stroke-width="2" fill="none"/>
<path d="M795.6 612V730" stroke="#000000" stroke-width="1.1" fill="none"/>
<g fill="#000000"><text x="791.3" y="732.9" text-anchor="end">16</text><text x="791.3" y="708.02" text-anchor="end">36</text><text x="791.3" y="683.15" text-anchor="end">56</text><text x="791.3" y="658.27" text-anchor="end">76</text><text x="791.3" y="633.4" text-anchor="end">96</text><text x="795.6" y="740.7" text-anchor="middle">&#8722;72</text><text x="836.95" y="740.7" text-anchor="middle">&#8722;48</text><text x="878.3" y="740.7" text-anchor="middle">&#8722;24</text><text x="919.65" y="740.7" text-anchor="middle">0</text><text x="961" y="740.7" text-anchor="middle">24</text><text x="878.3" y="754.6" text-anchor="middle" class="t" clip-path="url(#lc4)">ALL</text></g>
</svg>
</body></html>
